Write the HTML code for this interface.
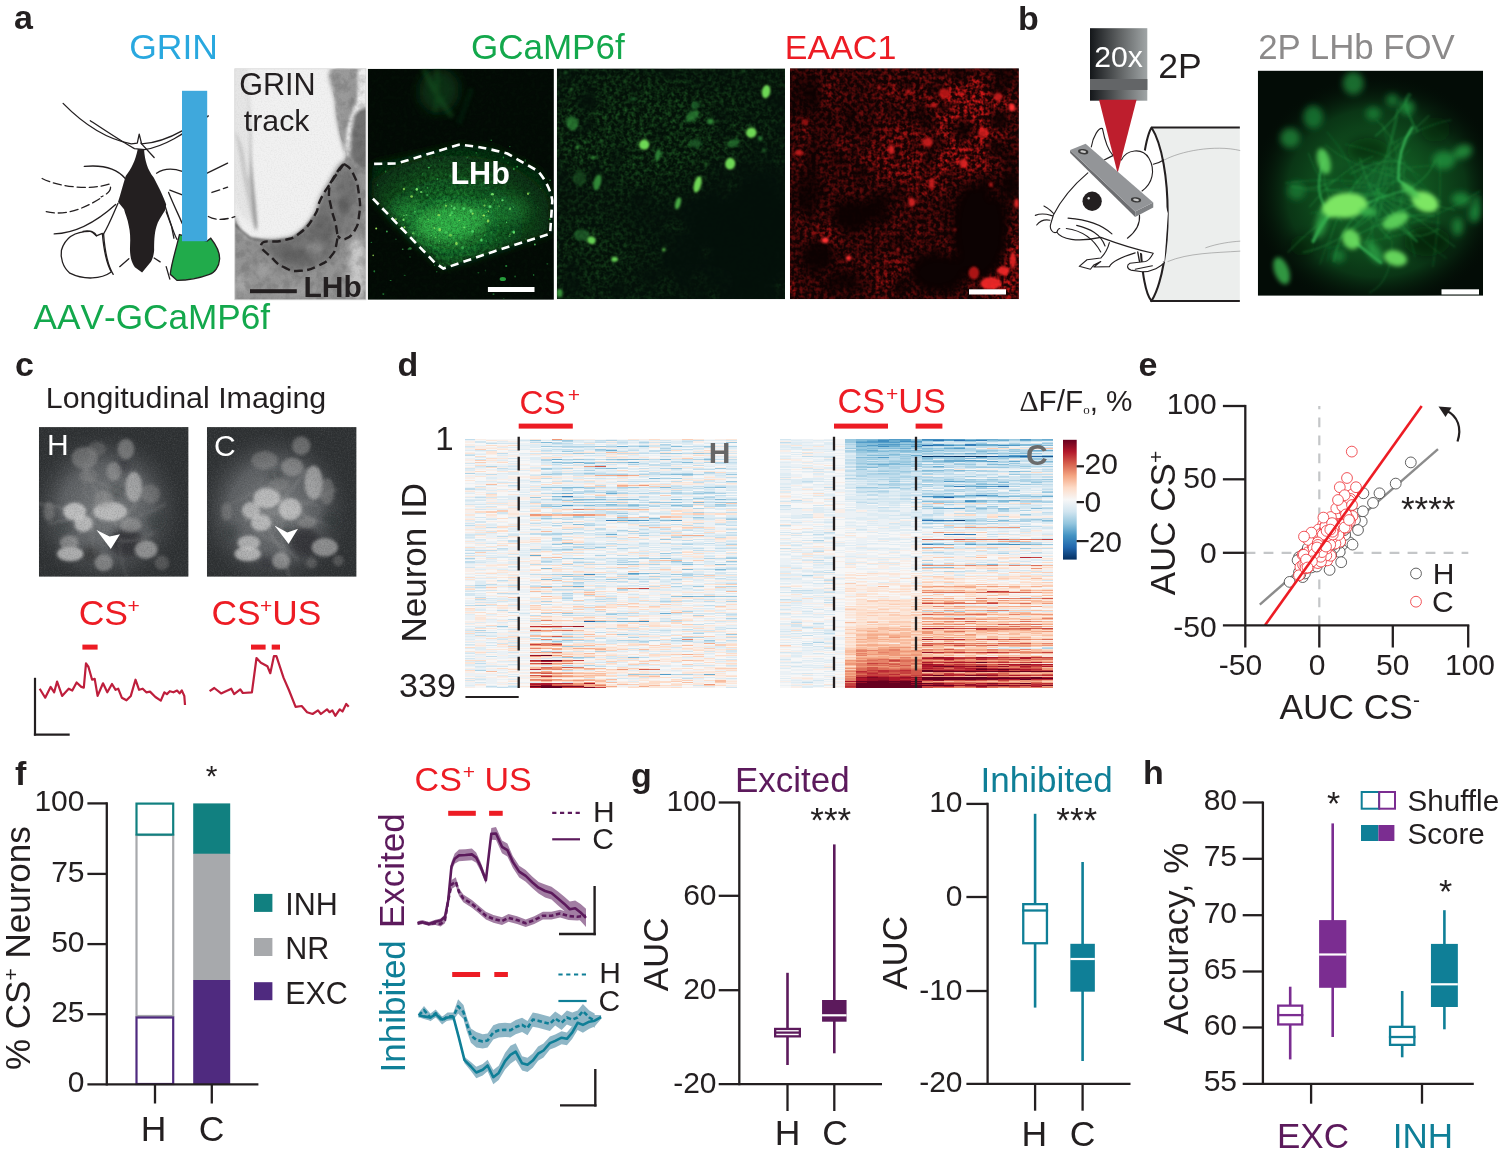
<!DOCTYPE html>
<html lang="en"><head><meta charset="utf-8"><title>Figure</title>
<style>html,body{margin:0;padding:0;background:#fff}svg{display:block}text{font-family:'Liberation Sans', sans-serif}</style>
</head><body>
<svg width="1500" height="1162" viewBox="0 0 1500 1162" font-family='"Liberation Sans", sans-serif'>
<defs>
<filter id="b0_6" x="-30%" y="-30%" width="160%" height="160%"><feGaussianBlur stdDeviation="0.6"/></filter>
<filter id="b1" x="-30%" y="-30%" width="160%" height="160%"><feGaussianBlur stdDeviation="1"/></filter>
<filter id="b1_5" x="-30%" y="-30%" width="160%" height="160%"><feGaussianBlur stdDeviation="1.5"/></filter>
<filter id="b2" x="-30%" y="-30%" width="160%" height="160%"><feGaussianBlur stdDeviation="2"/></filter>
<filter id="b3" x="-30%" y="-30%" width="160%" height="160%"><feGaussianBlur stdDeviation="3"/></filter>
<filter id="b4" x="-30%" y="-30%" width="160%" height="160%"><feGaussianBlur stdDeviation="4"/></filter>
<filter id="b6" x="-30%" y="-30%" width="160%" height="160%"><feGaussianBlur stdDeviation="6"/></filter>
<filter id="b8" x="-30%" y="-30%" width="160%" height="160%"><feGaussianBlur stdDeviation="8"/></filter>
<filter id="b12" x="-30%" y="-30%" width="160%" height="160%"><feGaussianBlur stdDeviation="12"/></filter>
<filter id="gspk" x="0" y="0" width="100%" height="100%" color-interpolation-filters="sRGB"><feTurbulence type="fractalNoise" baseFrequency="0.25" numOctaves="3" seed="11"/><feColorMatrix type="matrix" values="0 0 0 0 0.13  0 0 0 0 0.38  0 0 0 0 0.15  0 0 0 1.9 -0.72"/></filter>
<filter id="gspk2" x="0" y="0" width="100%" height="100%" color-interpolation-filters="sRGB"><feTurbulence type="fractalNoise" baseFrequency="0.3" numOctaves="3" seed="5"/><feColorMatrix type="matrix" values="0 0 0 0 0.25  0 0 0 0 0.9  0 0 0 0 0.35  0 0 0 1.6 -0.45"/></filter>
<filter id="rspk" x="0" y="0" width="100%" height="100%" color-interpolation-filters="sRGB"><feTurbulence type="fractalNoise" baseFrequency="0.25" numOctaves="3" seed="23"/><feColorMatrix type="matrix" values="0 0 0 0 0.9  0 0 0 0 0.1  0 0 0 0 0.1  0 0 0 2.6 -0.98"/></filter>
<filter id="wspk" x="0" y="0" width="100%" height="100%" color-interpolation-filters="sRGB"><feTurbulence type="fractalNoise" baseFrequency="0.7" numOctaves="2" seed="4"/><feColorMatrix type="matrix" values="0 0 0 0 1  0 0 0 0 1  0 0 0 0 1  0 0 0 1.6 -0.62"/></filter>
<filter id="kspk" x="0" y="0" width="100%" height="100%" color-interpolation-filters="sRGB"><feTurbulence type="fractalNoise" baseFrequency="0.7" numOctaves="2" seed="9"/><feColorMatrix type="matrix" values="0 0 0 0 0  0 0 0 0 0  0 0 0 0 0  0 0 0 1.6 -0.62"/></filter>
<filter id="gryspk" x="0" y="0" width="100%" height="100%" color-interpolation-filters="sRGB"><feTurbulence type="fractalNoise" baseFrequency="0.12" numOctaves="3" seed="31"/><feColorMatrix type="matrix" values="0 0 0 0 0.3  0 0 0 0 0.3  0 0 0 0 0.3  0 0 0 3.0 -1.2"/></filter>
<clipPath id="cA1"><rect x="234.8" y="68.8" width="131.2" height="231"/></clipPath>
<clipPath id="cTis"><path d="M232.1 222.3C234.9 203.9 235.9 228.7 242.7 233.3C249.4 237.9 246.7 237.9 257.4 239.6C268.1 241.3 271.5 241.3 282.7 239.6C294.0 237.9 291.1 239.5 299.6 233.3C308.0 227.1 308.2 226.6 314.3 216.4C320.5 206.3 318.8 204.4 322.8 195.4C326.7 186.4 324.6 190.6 329.1 182.7C333.6 174.8 335.2 172.6 339.6 165.8C344.0 159.1 344.7 163.1 345.5 157.4C346.4 151.7 344.7 152.3 342.8 144.3C340.9 136.4 340.7 138.7 338.6 127.5C336.5 116.2 336.5 118.5 335.0 102.2C333.5 85.9 323.8 75.9 332.9 66.3C342.0 56.8 359.5 3.4 369.2 66.3C378.8 129.3 405.7 239.5 369.2 302.5C332.6 365.4 268.7 323.8 232.1 302.5C195.6 281.1 229.3 240.8 232.1 222.3Z"/></clipPath>
<clipPath id="cA2"><rect x="367.7" y="68.8" width="186.2" height="231"/></clipPath>
<radialGradient id="gLHb" cx="0.45" cy="0.66" r="0.6"><stop offset="0" stop-color="#1b7a30"/><stop offset="0.4" stop-color="#0f5020"/><stop offset="1" stop-color="#062910"/></radialGradient>
<clipPath id="cLHb"><polygon points="373.0,163.4 417.0,154.6 458.8,144.7 494.0,148.0 538.0,170.0 552.3,192.0 550.1,233.8 494.0,251.4 443.4,267.9 406.0,233.8 370.8,196.4"/></clipPath>
<radialGradient id="gLm" gradientUnits="userSpaceOnUse" cx="450.0" cy="220.6" r="80"><stop offset="0" stop-color="#fff"/><stop offset="0.45" stop-color="#999"/><stop offset="1" stop-color="#222"/></radialGradient>
<mask id="mLHb" maskUnits="userSpaceOnUse" x="367.7" y="68.8" width="186.2" height="231"><rect x="367.7" y="68.8" width="186.2" height="231" fill="url(#gLm)"/></mask>
<clipPath id="cA3"><rect x="556.8" y="68.4" width="228.2" height="230.8"/></clipPath>
<mask id="mA3" maskUnits="userSpaceOnUse" x="556.8" y="68.4" width="228.2" height="230.8"><rect x="556.8" y="68.4" width="228.2" height="230.8" fill="#6a6a6a"/><g filter="url(#b12)"><ellipse cx="630.1" cy="129.6" rx="80" ry="55" fill="#fff" opacity="0.8"/><ellipse cx="718.6" cy="133.8" rx="50" ry="45" fill="#ddd" opacity="0.7"/><ellipse cx="592.2" cy="249.7" rx="45" ry="35" fill="#ccc" opacity="0.6"/><ellipse cx="739.7" cy="239.2" rx="70" ry="80" fill="#000" opacity="0.95"/><ellipse cx="760.8" cy="175.9" rx="30" ry="40" fill="#000" opacity="0.5"/><ellipse cx="644.9" cy="220.2" rx="32" ry="20" fill="#000" opacity="0.6"/><ellipse cx="651.2" cy="270.8" rx="30" ry="18" fill="#000" opacity="0.5"/><ellipse cx="697.6" cy="281.3" rx="40" ry="18" fill="#111" opacity="0.5"/></g><g filter="url(#b3)"><ellipse cx="630.7" cy="103.2" rx="8.2" ry="3.6" fill="#000" opacity="0.48"/><ellipse cx="570.0" cy="185.5" rx="3.3" ry="6.5" fill="#000" opacity="0.35"/><ellipse cx="653.7" cy="259.2" rx="2.8" ry="3.4" fill="#fff" opacity="0.58"/><ellipse cx="688.5" cy="160.0" rx="7.6" ry="2.4" fill="#fff" opacity="0.32"/><ellipse cx="589.7" cy="95.6" rx="5.5" ry="9.5" fill="#000" opacity="0.59"/><ellipse cx="702.6" cy="154.3" rx="7.4" ry="3.5" fill="#000" opacity="0.40"/><ellipse cx="712.1" cy="167.1" rx="5.5" ry="7.7" fill="#000" opacity="0.45"/><ellipse cx="738.1" cy="229.7" rx="5.0" ry="7.6" fill="#000" opacity="0.74"/><ellipse cx="723.3" cy="134.9" rx="10.8" ry="3.9" fill="#000" opacity="0.68"/><ellipse cx="591.5" cy="181.3" rx="2.3" ry="5.8" fill="#fff" opacity="0.43"/><ellipse cx="756.6" cy="140.8" rx="8.6" ry="7.8" fill="#000" opacity="0.53"/><ellipse cx="748.5" cy="286.4" rx="6.8" ry="8.3" fill="#000" opacity="0.65"/><ellipse cx="704.5" cy="297.6" rx="9.6" ry="5.3" fill="#000" opacity="0.63"/><ellipse cx="561.9" cy="175.0" rx="4.3" ry="3.9" fill="#000" opacity="0.68"/><ellipse cx="586.3" cy="125.5" rx="6.1" ry="10.0" fill="#000" opacity="0.52"/><ellipse cx="682.2" cy="272.3" rx="9.6" ry="9.9" fill="#000" opacity="0.51"/><ellipse cx="638.7" cy="272.5" rx="10.7" ry="4.2" fill="#000" opacity="0.42"/><ellipse cx="610.0" cy="180.3" rx="7.7" ry="5.1" fill="#000" opacity="0.51"/><ellipse cx="641.1" cy="199.1" rx="10.6" ry="8.5" fill="#000" opacity="0.61"/><ellipse cx="711.1" cy="80.9" rx="7.1" ry="6.5" fill="#fff" opacity="0.52"/><ellipse cx="646.3" cy="160.5" rx="3.8" ry="8.1" fill="#000" opacity="0.33"/><ellipse cx="604.4" cy="105.9" rx="5.7" ry="3.4" fill="#000" opacity="0.38"/><ellipse cx="580.0" cy="152.3" rx="2.2" ry="7.0" fill="#fff" opacity="0.26"/><ellipse cx="614.4" cy="148.6" rx="4.1" ry="2.8" fill="#fff" opacity="0.60"/><ellipse cx="663.1" cy="180.1" rx="3.7" ry="3.8" fill="#000" opacity="0.43"/><ellipse cx="745.9" cy="105.7" rx="3.2" ry="10.6" fill="#000" opacity="0.37"/><ellipse cx="680.8" cy="74.6" rx="5.1" ry="7.6" fill="#fff" opacity="0.48"/><ellipse cx="616.4" cy="153.0" rx="4.3" ry="9.2" fill="#000" opacity="0.69"/><ellipse cx="632.0" cy="119.9" rx="6.6" ry="7.6" fill="#fff" opacity="0.52"/><ellipse cx="743.5" cy="239.2" rx="4.8" ry="7.1" fill="#000" opacity="0.31"/><ellipse cx="563.2" cy="132.9" rx="3.6" ry="6.0" fill="#fff" opacity="0.38"/><ellipse cx="770.6" cy="296.4" rx="10.6" ry="5.9" fill="#000" opacity="0.41"/><ellipse cx="601.7" cy="115.6" rx="5.6" ry="7.1" fill="#fff" opacity="0.39"/><ellipse cx="705.8" cy="253.0" rx="2.6" ry="5.8" fill="#fff" opacity="0.51"/><ellipse cx="728.0" cy="178.7" rx="4.4" ry="9.3" fill="#000" opacity="0.70"/><ellipse cx="778.5" cy="159.8" rx="4.3" ry="7.4" fill="#fff" opacity="0.27"/><ellipse cx="585.8" cy="103.3" rx="10.2" ry="9.5" fill="#000" opacity="0.71"/><ellipse cx="780.5" cy="220.1" rx="5.8" ry="7.4" fill="#000" opacity="0.31"/><ellipse cx="778.4" cy="218.3" rx="7.2" ry="10.5" fill="#000" opacity="0.74"/><ellipse cx="745.3" cy="117.1" rx="5.0" ry="5.3" fill="#000" opacity="0.59"/><ellipse cx="616.0" cy="165.1" rx="4.0" ry="10.3" fill="#000" opacity="0.53"/><ellipse cx="689.9" cy="277.1" rx="6.4" ry="10.3" fill="#000" opacity="0.57"/><ellipse cx="676.3" cy="72.7" rx="6.5" ry="4.5" fill="#000" opacity="0.70"/><ellipse cx="596.1" cy="177.7" rx="8.8" ry="7.5" fill="#000" opacity="0.56"/><ellipse cx="683.6" cy="249.4" rx="3.8" ry="7.5" fill="#000" opacity="0.44"/><ellipse cx="733.0" cy="185.6" rx="5.2" ry="6.4" fill="#fff" opacity="0.38"/><ellipse cx="696.6" cy="185.1" rx="7.1" ry="8.5" fill="#000" opacity="0.57"/><ellipse cx="665.9" cy="285.7" rx="6.0" ry="7.0" fill="#fff" opacity="0.30"/><ellipse cx="684.5" cy="286.1" rx="9.7" ry="4.1" fill="#000" opacity="0.52"/><ellipse cx="573.4" cy="123.9" rx="2.5" ry="5.8" fill="#fff" opacity="0.56"/><ellipse cx="592.0" cy="233.7" rx="5.8" ry="2.9" fill="#fff" opacity="0.59"/><ellipse cx="606.9" cy="288.2" rx="4.3" ry="4.8" fill="#fff" opacity="0.53"/><ellipse cx="593.6" cy="168.0" rx="7.1" ry="5.7" fill="#000" opacity="0.46"/><ellipse cx="721.6" cy="72.9" rx="7.4" ry="6.5" fill="#000" opacity="0.47"/><ellipse cx="699.2" cy="186.6" rx="2.5" ry="7.6" fill="#fff" opacity="0.59"/><ellipse cx="580.7" cy="129.7" rx="3.3" ry="9.2" fill="#000" opacity="0.36"/><ellipse cx="653.2" cy="278.8" rx="9.6" ry="5.1" fill="#000" opacity="0.76"/><ellipse cx="687.0" cy="230.1" rx="2.6" ry="2.4" fill="#fff" opacity="0.37"/><ellipse cx="573.3" cy="285.0" rx="8.1" ry="9.4" fill="#000" opacity="0.73"/><ellipse cx="572.0" cy="267.5" rx="6.6" ry="5.7" fill="#000" opacity="0.76"/><ellipse cx="617.9" cy="98.2" rx="7.2" ry="4.9" fill="#000" opacity="0.38"/><ellipse cx="568.3" cy="115.0" rx="3.8" ry="3.8" fill="#fff" opacity="0.32"/><ellipse cx="670.9" cy="109.5" rx="5.8" ry="3.1" fill="#000" opacity="0.31"/><ellipse cx="724.1" cy="195.6" rx="3.2" ry="4.8" fill="#fff" opacity="0.24"/><ellipse cx="743.7" cy="168.1" rx="7.0" ry="9.7" fill="#000" opacity="0.55"/><ellipse cx="713.7" cy="295.1" rx="4.0" ry="6.8" fill="#fff" opacity="0.45"/><ellipse cx="649.2" cy="148.6" rx="3.4" ry="4.0" fill="#000" opacity="0.67"/><ellipse cx="615.1" cy="106.1" rx="2.6" ry="6.8" fill="#fff" opacity="0.47"/><ellipse cx="621.1" cy="124.3" rx="5.3" ry="6.7" fill="#000" opacity="0.52"/><ellipse cx="616.9" cy="290.4" rx="10.8" ry="7.4" fill="#000" opacity="0.78"/><ellipse cx="627.4" cy="150.7" rx="3.0" ry="6.1" fill="#000" opacity="0.55"/><ellipse cx="602.7" cy="184.9" rx="3.0" ry="5.1" fill="#000" opacity="0.50"/><ellipse cx="566.3" cy="73.6" rx="5.4" ry="4.9" fill="#000" opacity="0.56"/><ellipse cx="728.1" cy="220.2" rx="8.7" ry="10.0" fill="#000" opacity="0.46"/><ellipse cx="781.5" cy="102.9" rx="8.8" ry="8.1" fill="#000" opacity="0.72"/><ellipse cx="760.3" cy="213.2" rx="8.9" ry="9.5" fill="#000" opacity="0.56"/><ellipse cx="671.9" cy="261.1" rx="9.4" ry="9.6" fill="#000" opacity="0.75"/><ellipse cx="712.6" cy="228.4" rx="4.8" ry="3.2" fill="#000" opacity="0.48"/><ellipse cx="580.7" cy="261.3" rx="5.2" ry="5.6" fill="#fff" opacity="0.47"/><ellipse cx="668.5" cy="69.2" rx="9.4" ry="9.0" fill="#000" opacity="0.57"/><ellipse cx="707.3" cy="83.6" rx="8.9" ry="5.0" fill="#000" opacity="0.43"/><ellipse cx="723.2" cy="115.8" rx="8.9" ry="10.8" fill="#000" opacity="0.49"/><ellipse cx="666.1" cy="226.2" rx="6.4" ry="5.6" fill="#fff" opacity="0.23"/><ellipse cx="590.4" cy="127.0" rx="8.9" ry="5.4" fill="#000" opacity="0.31"/><ellipse cx="570.6" cy="130.4" rx="5.9" ry="6.0" fill="#fff" opacity="0.32"/><ellipse cx="674.7" cy="175.6" rx="4.7" ry="2.8" fill="#fff" opacity="0.28"/><ellipse cx="780.0" cy="284.5" rx="2.2" ry="4.7" fill="#fff" opacity="0.59"/><ellipse cx="659.4" cy="130.4" rx="4.7" ry="10.6" fill="#000" opacity="0.59"/><ellipse cx="589.1" cy="189.4" rx="7.4" ry="2.8" fill="#fff" opacity="0.40"/><ellipse cx="759.2" cy="230.7" rx="4.9" ry="10.2" fill="#000" opacity="0.31"/><ellipse cx="557.6" cy="181.9" rx="6.6" ry="5.4" fill="#000" opacity="0.47"/><ellipse cx="628.9" cy="262.3" rx="2.1" ry="6.3" fill="#fff" opacity="0.25"/><ellipse cx="768.2" cy="233.0" rx="10.2" ry="5.3" fill="#000" opacity="0.50"/><ellipse cx="784.7" cy="204.4" rx="5.9" ry="6.4" fill="#000" opacity="0.32"/><ellipse cx="580.0" cy="261.0" rx="5.3" ry="10.5" fill="#000" opacity="0.43"/><ellipse cx="673.4" cy="112.2" rx="4.2" ry="7.5" fill="#fff" opacity="0.52"/><ellipse cx="700.8" cy="279.2" rx="7.4" ry="5.2" fill="#fff" opacity="0.22"/><ellipse cx="723.9" cy="172.5" rx="9.0" ry="8.2" fill="#000" opacity="0.32"/><ellipse cx="768.3" cy="97.8" rx="6.8" ry="5.7" fill="#000" opacity="0.67"/><ellipse cx="779.6" cy="128.4" rx="8.2" ry="5.4" fill="#000" opacity="0.50"/><ellipse cx="595.0" cy="105.7" rx="4.7" ry="10.2" fill="#000" opacity="0.41"/><ellipse cx="763.6" cy="298.4" rx="6.6" ry="4.1" fill="#000" opacity="0.35"/><ellipse cx="634.8" cy="89.4" rx="4.9" ry="5.1" fill="#000" opacity="0.74"/><ellipse cx="727.9" cy="163.7" rx="6.3" ry="7.2" fill="#000" opacity="0.47"/><ellipse cx="571.0" cy="132.5" rx="10.7" ry="4.0" fill="#000" opacity="0.61"/><ellipse cx="753.7" cy="118.2" rx="5.2" ry="5.0" fill="#000" opacity="0.52"/><ellipse cx="774.5" cy="264.3" rx="10.0" ry="3.2" fill="#000" opacity="0.65"/><ellipse cx="761.2" cy="177.6" rx="7.7" ry="3.0" fill="#000" opacity="0.76"/><ellipse cx="745.2" cy="265.8" rx="10.8" ry="5.0" fill="#000" opacity="0.38"/><ellipse cx="676.0" cy="225.8" rx="7.4" ry="6.1" fill="#fff" opacity="0.51"/></g></mask>
<clipPath id="cA4"><rect x="789.9" y="68.2" width="229" height="231"/></clipPath>
<mask id="mA4" maskUnits="userSpaceOnUse" x="789.9" y="68.2" width="229" height="231"><rect x="789.9" y="68.2" width="229" height="231" fill="#606060"/><g filter="url(#b8)"><ellipse cx="969.7" cy="112.7" rx="42.2" ry="35.8" fill="#fff" opacity="0.85"/><ellipse cx="1001.3" cy="287.7" rx="19.0" ry="12.6" fill="#fff" opacity="1.0"/><ellipse cx="1011.9" cy="249.7" rx="9.5" ry="27.4" fill="#fff" opacity="0.9"/><ellipse cx="917.0" cy="154.9" rx="46.4" ry="35.8" fill="#fff" opacity="0.5"/><ellipse cx="969.7" cy="159.1" rx="27.4" ry="19.0" fill="#fff" opacity="0.6"/><ellipse cx="895.9" cy="270.8" rx="12.6" ry="25.3" fill="#fff" opacity="0.5"/><ellipse cx="822.2" cy="235.0" rx="14.8" ry="10.5" fill="#fff" opacity="0.55"/><ellipse cx="906.5" cy="91.6" rx="25.3" ry="16.9" fill="#fff" opacity="0.4"/></g><g filter="url(#b4)"><ellipse cx="980.3" cy="228.6" rx="28.5" ry="51.2" fill="#000" opacity="1"/><ellipse cx="1001.3" cy="76.9" rx="11.4" ry="11.4" fill="#000" opacity="0.9500000000000001"/><ellipse cx="963.4" cy="129.6" rx="10.8" ry="10.8" fill="#000" opacity="0.9500000000000001"/><ellipse cx="999.2" cy="120.1" rx="10.8" ry="10.8" fill="#000" opacity="0.9500000000000001"/><ellipse cx="851.7" cy="216.0" rx="19.9" ry="17.1" fill="#000" opacity="0.9500000000000001"/><ellipse cx="881.2" cy="207.6" rx="17.1" ry="15.7" fill="#000" opacity="0.9"/><ellipse cx="817.9" cy="256.0" rx="17.1" ry="15.7" fill="#000" opacity="0.9500000000000001"/><ellipse cx="938.1" cy="272.9" rx="28.5" ry="19.9" fill="#000" opacity="1"/><ellipse cx="843.2" cy="283.4" rx="17.1" ry="12.8" fill="#000" opacity="0.85"/><ellipse cx="1010.8" cy="183.3" rx="10.0" ry="12.8" fill="#000" opacity="0.9500000000000001"/><ellipse cx="927.6" cy="123.2" rx="11.4" ry="8.5" fill="#000" opacity="0.75"/><ellipse cx="809.5" cy="190.7" rx="14.2" ry="19.9" fill="#000" opacity="0.7000000000000001"/><ellipse cx="805.3" cy="91.6" rx="17.1" ry="17.1" fill="#000" opacity="0.55"/><ellipse cx="898.0" cy="245.5" rx="8.5" ry="11.4" fill="#000" opacity="0.55"/><ellipse cx="959.2" cy="74.8" rx="8.5" ry="8.5" fill="#000" opacity="0.85"/></g><g filter="url(#b3)"><ellipse cx="895.9" cy="154.4" rx="4.1" ry="9.9" fill="#000" opacity="0.55"/><ellipse cx="995.6" cy="86.9" rx="7.4" ry="7.9" fill="#000" opacity="0.49"/><ellipse cx="951.0" cy="172.6" rx="8.8" ry="4.3" fill="#000" opacity="0.36"/><ellipse cx="905.8" cy="281.6" rx="7.7" ry="9.2" fill="#000" opacity="0.67"/><ellipse cx="813.2" cy="135.5" rx="8.4" ry="8.8" fill="#000" opacity="0.34"/><ellipse cx="851.0" cy="116.7" rx="5.2" ry="9.5" fill="#000" opacity="0.74"/><ellipse cx="991.3" cy="80.9" rx="6.0" ry="6.9" fill="#000" opacity="0.51"/><ellipse cx="997.5" cy="94.1" rx="7.8" ry="4.0" fill="#000" opacity="0.75"/><ellipse cx="836.4" cy="70.1" rx="3.7" ry="7.3" fill="#000" opacity="0.34"/><ellipse cx="903.7" cy="280.9" rx="4.5" ry="4.3" fill="#fff" opacity="0.24"/><ellipse cx="922.7" cy="108.1" rx="7.9" ry="10.7" fill="#000" opacity="0.58"/><ellipse cx="928.8" cy="102.7" rx="3.6" ry="7.7" fill="#fff" opacity="0.25"/><ellipse cx="951.5" cy="287.9" rx="4.9" ry="7.9" fill="#000" opacity="0.48"/><ellipse cx="944.3" cy="204.5" rx="9.2" ry="3.7" fill="#000" opacity="0.73"/><ellipse cx="923.7" cy="172.5" rx="6.2" ry="10.9" fill="#000" opacity="0.31"/><ellipse cx="973.0" cy="144.1" rx="6.5" ry="4.7" fill="#000" opacity="0.46"/><ellipse cx="810.2" cy="213.6" rx="3.8" ry="9.3" fill="#000" opacity="0.69"/><ellipse cx="974.8" cy="183.1" rx="6.1" ry="3.5" fill="#fff" opacity="0.37"/><ellipse cx="842.8" cy="290.9" rx="4.3" ry="4.2" fill="#fff" opacity="0.35"/><ellipse cx="942.8" cy="107.7" rx="9.7" ry="5.1" fill="#000" opacity="0.79"/><ellipse cx="829.5" cy="286.8" rx="10.9" ry="7.9" fill="#000" opacity="0.33"/><ellipse cx="837.7" cy="158.0" rx="7.9" ry="10.7" fill="#000" opacity="0.37"/><ellipse cx="918.6" cy="99.9" rx="2.6" ry="5.2" fill="#fff" opacity="0.23"/><ellipse cx="893.3" cy="230.8" rx="6.4" ry="4.2" fill="#fff" opacity="0.27"/><ellipse cx="953.7" cy="246.5" rx="10.0" ry="7.0" fill="#000" opacity="0.32"/><ellipse cx="911.0" cy="108.2" rx="5.6" ry="2.6" fill="#fff" opacity="0.29"/><ellipse cx="792.9" cy="108.8" rx="6.7" ry="7.5" fill="#000" opacity="0.39"/><ellipse cx="900.3" cy="286.8" rx="7.3" ry="10.5" fill="#000" opacity="0.80"/><ellipse cx="993.5" cy="193.9" rx="5.0" ry="5.1" fill="#fff" opacity="0.23"/><ellipse cx="937.1" cy="193.4" rx="3.8" ry="6.2" fill="#fff" opacity="0.24"/><ellipse cx="950.1" cy="173.0" rx="6.9" ry="8.1" fill="#000" opacity="0.60"/><ellipse cx="875.3" cy="271.2" rx="3.4" ry="6.7" fill="#fff" opacity="0.45"/><ellipse cx="990.5" cy="76.5" rx="5.4" ry="5.5" fill="#fff" opacity="0.36"/><ellipse cx="805.7" cy="111.9" rx="7.9" ry="4.5" fill="#000" opacity="0.48"/><ellipse cx="897.6" cy="191.9" rx="3.2" ry="9.2" fill="#000" opacity="0.69"/><ellipse cx="791.9" cy="288.6" rx="5.4" ry="7.6" fill="#fff" opacity="0.53"/><ellipse cx="814.2" cy="148.8" rx="4.9" ry="9.2" fill="#000" opacity="0.41"/><ellipse cx="815.2" cy="95.9" rx="10.5" ry="10.8" fill="#000" opacity="0.67"/><ellipse cx="897.0" cy="188.8" rx="6.0" ry="8.1" fill="#000" opacity="0.43"/><ellipse cx="908.5" cy="113.8" rx="6.5" ry="10.6" fill="#000" opacity="0.35"/><ellipse cx="973.1" cy="81.6" rx="3.5" ry="6.9" fill="#fff" opacity="0.29"/><ellipse cx="803.3" cy="131.8" rx="3.8" ry="6.6" fill="#fff" opacity="0.51"/><ellipse cx="996.4" cy="283.2" rx="7.0" ry="7.3" fill="#fff" opacity="0.24"/><ellipse cx="862.6" cy="125.3" rx="7.8" ry="6.9" fill="#000" opacity="0.72"/><ellipse cx="881.3" cy="116.5" rx="3.6" ry="4.7" fill="#fff" opacity="0.43"/><ellipse cx="890.6" cy="111.2" rx="6.2" ry="5.6" fill="#000" opacity="0.57"/><ellipse cx="833.1" cy="232.6" rx="5.8" ry="2.9" fill="#fff" opacity="0.34"/><ellipse cx="892.3" cy="208.3" rx="6.4" ry="7.0" fill="#fff" opacity="0.28"/><ellipse cx="914.0" cy="145.7" rx="3.2" ry="7.4" fill="#000" opacity="0.73"/><ellipse cx="864.0" cy="260.8" rx="5.0" ry="2.7" fill="#fff" opacity="0.31"/><ellipse cx="912.1" cy="84.7" rx="3.1" ry="10.4" fill="#000" opacity="0.37"/><ellipse cx="827.3" cy="90.4" rx="6.7" ry="7.7" fill="#fff" opacity="0.36"/><ellipse cx="993.4" cy="185.1" rx="4.1" ry="8.5" fill="#000" opacity="0.43"/><ellipse cx="863.3" cy="157.1" rx="3.1" ry="5.5" fill="#fff" opacity="0.43"/><ellipse cx="792.1" cy="226.3" rx="2.2" ry="4.8" fill="#fff" opacity="0.47"/><ellipse cx="997.9" cy="242.5" rx="5.2" ry="4.1" fill="#000" opacity="0.64"/><ellipse cx="843.0" cy="144.7" rx="6.3" ry="4.0" fill="#fff" opacity="0.42"/><ellipse cx="1002.6" cy="74.3" rx="3.1" ry="6.5" fill="#fff" opacity="0.24"/><ellipse cx="820.7" cy="116.9" rx="7.3" ry="10.2" fill="#000" opacity="0.40"/><ellipse cx="946.9" cy="165.9" rx="6.8" ry="7.7" fill="#fff" opacity="0.49"/><ellipse cx="903.5" cy="82.3" rx="9.5" ry="6.2" fill="#000" opacity="0.62"/><ellipse cx="1010.7" cy="196.6" rx="10.3" ry="10.7" fill="#000" opacity="0.48"/><ellipse cx="993.4" cy="245.5" rx="10.8" ry="4.5" fill="#000" opacity="0.77"/><ellipse cx="913.5" cy="223.1" rx="10.8" ry="4.4" fill="#000" opacity="0.73"/><ellipse cx="923.0" cy="114.5" rx="9.7" ry="5.3" fill="#000" opacity="0.45"/><ellipse cx="798.2" cy="161.9" rx="6.5" ry="4.6" fill="#fff" opacity="0.22"/><ellipse cx="829.5" cy="101.4" rx="5.3" ry="3.2" fill="#fff" opacity="0.41"/><ellipse cx="922.9" cy="263.4" rx="9.3" ry="10.4" fill="#000" opacity="0.49"/><ellipse cx="1009.8" cy="159.9" rx="5.3" ry="6.9" fill="#000" opacity="0.72"/><ellipse cx="935.5" cy="90.0" rx="10.7" ry="7.2" fill="#000" opacity="0.61"/><ellipse cx="1007.4" cy="148.3" rx="3.1" ry="4.6" fill="#000" opacity="0.56"/><ellipse cx="861.2" cy="264.9" rx="4.6" ry="3.1" fill="#000" opacity="0.36"/><ellipse cx="861.0" cy="120.3" rx="3.1" ry="5.7" fill="#fff" opacity="0.35"/><ellipse cx="936.1" cy="142.8" rx="10.3" ry="7.4" fill="#000" opacity="0.67"/><ellipse cx="838.0" cy="79.0" rx="2.2" ry="6.8" fill="#fff" opacity="0.34"/><ellipse cx="917.6" cy="231.2" rx="2.5" ry="6.1" fill="#fff" opacity="0.58"/><ellipse cx="803.4" cy="200.4" rx="7.1" ry="9.8" fill="#000" opacity="0.63"/><ellipse cx="995.3" cy="148.8" rx="7.1" ry="10.1" fill="#000" opacity="0.79"/><ellipse cx="861.6" cy="173.8" rx="5.3" ry="9.4" fill="#000" opacity="0.67"/><ellipse cx="813.7" cy="271.6" rx="9.6" ry="8.4" fill="#000" opacity="0.43"/><ellipse cx="893.4" cy="83.2" rx="7.4" ry="4.4" fill="#fff" opacity="0.27"/><ellipse cx="938.3" cy="252.7" rx="8.2" ry="6.4" fill="#000" opacity="0.52"/><ellipse cx="879.2" cy="286.5" rx="7.6" ry="7.5" fill="#fff" opacity="0.27"/><ellipse cx="796.7" cy="135.7" rx="3.1" ry="4.0" fill="#000" opacity="0.40"/><ellipse cx="929.8" cy="156.1" rx="5.2" ry="10.8" fill="#000" opacity="0.74"/><ellipse cx="910.5" cy="221.3" rx="2.9" ry="6.3" fill="#fff" opacity="0.28"/><ellipse cx="898.2" cy="219.1" rx="4.8" ry="6.3" fill="#fff" opacity="0.33"/><ellipse cx="945.9" cy="246.8" rx="4.7" ry="5.4" fill="#fff" opacity="0.39"/><ellipse cx="810.2" cy="162.4" rx="9.2" ry="8.8" fill="#000" opacity="0.54"/><ellipse cx="924.5" cy="191.3" rx="2.9" ry="5.7" fill="#fff" opacity="0.41"/></g></mask>
<clipPath id="cB"><rect x="1257.8" y="70.6" width="225.2" height="225.2"/></clipPath>
<radialGradient id="gFov" cx="0.5" cy="0.5" r="0.5"><stop offset="0" stop-color="#15672e"/><stop offset="0.4" stop-color="#10521f"/><stop offset="0.7" stop-color="#0b3a17" stop-opacity="0.9"/><stop offset="1" stop-color="#030c06" stop-opacity="0"/></radialGradient>
<clipPath id="cC1"><rect x="38.9" y="427.1" width="149.7" height="149.7"/></clipPath>
<radialGradient id="gcC1" cx="0.45" cy="0.55" r="0.55"><stop offset="0" stop-color="#7c7f81"/><stop offset="0.55" stop-color="#5c5f62"/><stop offset="1" stop-color="#2f3234" stop-opacity="0"/></radialGradient>
<clipPath id="cC2"><rect x="206.9" y="427.1" width="149.7" height="149.7"/></clipPath>
<radialGradient id="gcC2" cx="0.45" cy="0.55" r="0.55"><stop offset="0" stop-color="#7c7f81"/><stop offset="0.55" stop-color="#5c5f62"/><stop offset="1" stop-color="#2f3234" stop-opacity="0"/></radialGradient>
<linearGradient id="obj" x1="0" y1="0" x2="1" y2="0"><stop offset="0" stop-color="#14171a"/><stop offset="0.5" stop-color="#5d6061"/><stop offset="1" stop-color="#a0a5a6"/></linearGradient>
<linearGradient id="obj2" x1="0" y1="0" x2="1" y2="0"><stop offset="0" stop-color="#6a6a6a"/><stop offset="1" stop-color="#858889"/></linearGradient>
<linearGradient id="cb" x1="0" y1="1" x2="0" y2="0"><stop offset="0.0" stop-color="#053061"/><stop offset="0.1" stop-color="#2166ac"/><stop offset="0.2" stop-color="#4393c3"/><stop offset="0.3" stop-color="#92c5de"/><stop offset="0.4" stop-color="#d1e5f0"/><stop offset="0.5" stop-color="#f7f7f7"/><stop offset="0.6" stop-color="#fddbc7"/><stop offset="0.7" stop-color="#f4a582"/><stop offset="0.8" stop-color="#d6604d"/><stop offset="0.9" stop-color="#b2182b"/><stop offset="1.0" stop-color="#67001f"/></linearGradient>
</defs>
<rect x="0" y="0" width="1500" height="1162" fill="#fff"/>
<g clip-path="url(#cA1)">
<rect x="234.80" y="68.80" width="131.20" height="231.00" fill="#f1f1f1"/>
<g filter="url(#b2)">
<path d="M232.1 222.3C234.9 203.9 235.9 228.7 242.7 233.3C249.4 237.9 246.7 237.9 257.4 239.6C268.1 241.3 271.5 241.3 282.7 239.6C294.0 237.9 291.1 239.5 299.6 233.3C308.0 227.1 308.2 226.6 314.3 216.4C320.5 206.3 318.8 204.4 322.8 195.4C326.7 186.4 324.6 190.6 329.1 182.7C333.6 174.8 335.2 172.6 339.6 165.8C344.0 159.1 344.7 163.1 345.5 157.4C346.4 151.7 344.7 152.3 342.8 144.3C340.9 136.4 340.7 138.7 338.6 127.5C336.5 116.2 336.5 118.5 335.0 102.2C333.5 85.9 323.8 75.9 332.9 66.3C342.0 56.8 359.5 3.4 369.2 66.3C378.8 129.3 405.7 239.5 369.2 302.5C332.6 365.4 268.7 323.8 232.1 302.5C195.6 281.1 229.3 240.8 232.1 222.3Z" fill="#959595"/>
<path d="M232.1 66.3C235.1 41.9 243.3 59.2 246.9 66.3C250.5 73.5 249.2 82.3 250.0 102.2C250.9 122.0 249.7 141.4 251.1 165.4C252.5 189.5 256.6 210.3 257.0 222.3C257.3 234.4 257.7 232.3 252.8 225.5C247.8 218.8 236.2 220.4 232.1 188.6C228.0 156.8 229.2 90.8 232.1 66.3Z" fill="#e6e6e6"/>
</g>
<g filter="url(#b1_5)">
<path d="M246.9 83.2C247.2 83.2 250.1 106.8 251.1 123.3C252.1 139.7 250.7 145.7 251.9 165.4C253.1 185.2 256.6 210.0 257.0 221.9C257.3 233.8 256.1 232.0 253.6 224.9C251.2 217.8 247.8 201.8 244.8 186.5C241.7 171.2 240.4 159.5 238.4 148.6C236.5 137.6 234.2 131.7 235.1 131.7C235.9 131.7 240.0 139.3 242.7 148.6C245.3 157.8 247.2 183.1 248.6 178.1C249.9 173.0 249.7 142.2 249.4 123.3C249.1 104.3 246.5 83.2 246.9 83.2Z" fill="#bdbdbd" opacity="0.7"/>
<path d="M250.2 129.6C250.4 125.4 250.6 146.9 251.9 165.4C253.3 183.9 256.5 210.3 257.0 221.9C257.5 233.5 255.4 230.5 254.2 223.4C253.1 216.3 251.9 205.3 251.1 186.5C250.3 167.7 250.1 133.8 250.2 129.6Z" fill="#8a8a8a" opacity="0.75"/>
<path d="M356.5 112.7C359.9 105.5 366.6 98.4 369.2 108.5C371.7 118.6 372.1 152.8 369.2 163.3C366.2 173.9 357.8 165.0 354.4 161.2C351.0 157.4 351.9 154.0 352.3 144.3C352.7 134.6 353.1 119.9 356.5 112.7Z" fill="#727272"/>
<path d="M358.6 68.4C361.1 62.5 367.0 61.7 369.2 68.4C371.3 75.2 371.7 93.3 369.2 102.2C366.6 111.0 360.1 107.2 356.5 112.7C352.9 118.2 352.7 121.6 351.2 129.6C349.8 137.6 350.3 148.1 349.1 152.8C348.0 157.4 345.7 158.7 345.5 152.8C345.3 146.9 345.9 134.2 348.1 123.3C350.3 112.3 354.4 108.9 356.5 98.0C358.6 87.0 356.1 74.3 358.6 68.4Z" fill="#efefef"/>
<path d="M335.4 68.4C337.7 61.7 343.9 67.6 348.1 68.4C352.3 69.3 356.5 65.9 356.5 72.7C356.5 79.4 350.6 90.8 348.1 102.2C345.5 113.6 344.5 119.9 343.9 129.6C343.2 139.3 345.7 150.7 344.9 150.7C344.1 150.7 341.3 139.3 339.6 129.6C337.9 119.9 337.3 114.4 336.5 102.2C335.6 89.9 333.1 75.2 335.4 68.4Z" fill="#9c9c9c" opacity="0.8"/>
</g>
<g filter="url(#b3)">
<path d="M343.9 163.7C343.3 164.9 337.4 172.8 331.2 182.3C325.0 191.7 325.2 190.2 320.7 199.2C316.2 208.1 320.0 206.9 314.3 216.0C308.7 225.1 308.0 226.8 299.6 233.3C291.1 239.8 292.8 237.7 282.7 240.5C272.6 243.3 264.4 239.1 261.6 243.8C258.8 248.6 266.0 251.8 272.2 258.2C278.4 264.5 277.5 264.3 284.8 267.7C292.1 271.0 290.6 271.4 299.6 270.8C308.6 270.3 310.1 269.5 318.6 265.6C327.0 261.6 326.4 262.0 331.2 256.1C336.0 250.2 335.1 250.7 336.5 243.4C337.9 236.1 337.9 238.2 336.5 228.7C335.1 219.1 333.2 217.7 331.2 207.6C329.2 197.5 328.5 198.6 329.1 190.7C329.7 182.8 329.4 185.3 333.3 178.1C337.2 170.9 344.4 162.6 343.9 163.7Z" fill="#727272" opacity="0.95"/>
<path d="M343.9 163.7C349.2 162.6 349.3 165.5 353.3 173.9C357.4 182.2 357.5 183.7 359.0 194.9C360.6 206.2 360.3 206.5 359.0 216.0C357.8 225.6 358.2 224.6 354.4 230.8C350.6 237.0 349.4 237.8 344.9 239.2C340.4 240.6 339.8 238.9 337.5 236.0C335.3 233.2 338.2 236.3 336.5 228.7C334.8 221.1 333.2 217.7 331.2 207.6C329.2 197.5 328.5 198.6 329.1 190.7C329.7 182.8 329.4 185.3 333.3 178.1C337.2 170.9 338.5 164.9 343.9 163.7Z" fill="#7c7c7c" opacity="0.9"/>
<ellipse cx="357.6" cy="270.8" rx="9.0" ry="30.0" fill="#cdcdcd" opacity="0.9"/>
<ellipse cx="356.5" cy="245.5" rx="6.0" ry="8.0" fill="#d5d5d5" opacity="0.7"/>
<ellipse cx="240.5" cy="283.5" rx="8.0" ry="10.0" fill="#b4b4b4" opacity="0.6"/>
<ellipse cx="293.3" cy="290.9" rx="22.0" ry="4.0" fill="#b0b0b0" opacity="0.5"/>
<ellipse cx="253.2" cy="247.6" rx="12.0" ry="6.0" fill="#8c8c8c" opacity="0.6"/>
<ellipse cx="263.7" cy="270.8" rx="9.0" ry="7.0" fill="#aaaaaa" opacity="0.5"/>
</g>
<g filter="url(#b2)">
<ellipse cx="299.6" cy="256.1" rx="18.0" ry="8.0" fill="#5f5f5f" opacity="0.7"/>
<ellipse cx="343.9" cy="205.5" rx="6.0" ry="10.0" fill="#5a5a5a" opacity="0.7"/>
<ellipse cx="322.8" cy="228.7" rx="10.0" ry="14.0" fill="#666" opacity="0.6"/>
<ellipse cx="282.7" cy="249.8" rx="10.0" ry="7.0" fill="#666" opacity="0.6"/>
<ellipse cx="348.1" cy="186.5" rx="8.0" ry="14.0" fill="#6a6a6a" opacity="0.5"/>
<ellipse cx="314.3" cy="249.8" rx="8.0" ry="8.0" fill="#999" opacity="0.6"/>
</g>
<path d="M234.6 223.4C237.3 226.2 238.7 229.6 244.8 233.9C250.8 238.3 247.3 238.0 257.4 239.6C267.5 241.3 271.5 241.7 282.7 240.1C294.0 238.4 291.1 239.6 299.6 233.3C308.0 227.0 310.4 220.9 314.3 216.4" fill="none" stroke="#4e4e4e" stroke-width="2.2" filter="url(#b1)" opacity="0.75"/>
<g clip-path="url(#cTis)">
<rect x="234.80" y="68.80" width="131.20" height="231.00" fill="#000" filter="url(#gryspk)" opacity="0.22"/>
</g>
<rect x="234.80" y="68.80" width="131.20" height="231.00" fill="#000" filter="url(#kspk)" opacity="0.05"/>
<path d="M343.9 163.7C343.3 164.9 337.4 172.8 331.2 182.3C325.0 191.7 325.2 190.2 320.7 199.2C316.2 208.1 320.0 206.9 314.3 216.0C308.7 225.1 308.0 226.8 299.6 233.3C291.1 239.8 292.8 237.7 282.7 240.5C272.6 243.3 264.4 239.1 261.6 243.8C258.8 248.6 266.0 251.8 272.2 258.2C278.4 264.5 277.5 264.3 284.8 267.7C292.1 271.0 290.6 271.4 299.6 270.8C308.6 270.3 310.1 269.5 318.6 265.6C327.0 261.6 326.4 262.0 331.2 256.1C336.0 250.2 335.1 250.7 336.5 243.4C337.9 236.1 337.9 238.2 336.5 228.7C335.1 219.1 333.2 217.7 331.2 207.6C329.2 197.5 328.5 198.6 329.1 190.7C329.7 182.8 329.4 185.3 333.3 178.1C337.2 170.9 344.4 162.6 343.9 163.7Z" fill="none" stroke="#231f20" stroke-width="2.4" stroke-dasharray="8.5 4.5"/>
<path d="M343.9 163.7C346.4 166.4 349.3 165.5 353.3 173.9C357.4 182.2 357.5 183.7 359.0 194.9C360.6 206.2 360.3 206.5 359.0 216.0C357.8 225.6 358.2 224.6 354.4 230.8C350.6 237.0 349.4 237.8 344.9 239.2C340.4 240.6 339.5 236.9 337.5 236.0" fill="none" stroke="#231f20" stroke-width="2.4" stroke-dasharray="8.5 4.5"/>
</g>
<rect x="234.8" y="68.8" width="131.2" height="231" fill="none" stroke="#d4d4d4" stroke-width="0.8"/>
<text x="239.2" y="95.3" font-size="30.6" fill="#231f20">GRIN</text>
<text x="243.8" y="130.8" font-size="30.3" fill="#231f20">track</text>
<text x="303.5" y="296.8" font-size="30" fill="#231f20" font-weight="bold">LHb</text>
<rect x="250.00" y="289.20" width="46.80" height="4.00" fill="#231f20"/>
<g clip-path="url(#cA2)">
<rect x="367.70" y="68.80" width="186.20" height="231.00" fill="#030a05"/>
<g filter="url(#b4)">
<polygon points="373.0,163.4 417.0,154.6 458.8,144.7 494.0,148.0 538.0,170.0 552.3,192.0 550.1,233.8 494.0,251.4 443.4,267.9 406.0,233.8 370.8,196.4" fill="url(#gLHb)"/>
</g>
<g filter="url(#b6)">
<ellipse cx="450.0" cy="222.8" rx="38.0" ry="17.0" fill="#3fd058" opacity="0.6" transform="rotate(-8 450.0 222.8)"/>
<ellipse cx="505.0" cy="209.6" rx="26.0" ry="14.0" fill="#2fb048" opacity="0.35"/>
<ellipse cx="406.0" cy="209.6" rx="16.0" ry="9.0" fill="#35c050" opacity="0.4"/>
</g>
<g filter="url(#b6)">
<ellipse cx="439.0" cy="90.8" rx="20.0" ry="22.0" fill="#0e4a1d" opacity="0.55" transform="rotate(15 439.0 90.8)"/>
</g>
<g filter="url(#b2)" opacity="0.4">
<path d="M423.6 68.8 Q434.6 93.0 452.2 117.2" stroke="#1a6a2a" stroke-width="5" fill="none"/>
<path d="M436.8 68.8 Q439.0 93.0 434.6 112.8" stroke="#165a24" stroke-width="4" fill="none"/>
<path d="M472.0 88.6 L458.8 123.8" stroke="#0f4a1c" stroke-width="3" fill="none"/>
</g>
<g clip-path="url(#cLHb)">
<rect x="367.70" y="68.80" width="186.20" height="231.00" fill="#000" filter="url(#kspk)" opacity="0.5"/>
<g mask="url(#mLHb)">
<rect x="367.70" y="68.80" width="186.20" height="231.00" fill="#000" filter="url(#gspk2)" opacity="0.6"/>
</g></g>
<rect x="367.70" y="68.80" width="186.20" height="231.00" fill="#000" filter="url(#gspk)" opacity="0.07"/>
<ellipse cx="481.4" cy="240.1" rx="1.2" ry="1.5" fill="#50d868" opacity="0.9453745566806571"/>
<ellipse cx="357.3" cy="225.1" rx="0.8" ry="0.9" fill="#a8f060" opacity="0.5063546070230827"/>
<ellipse cx="488.3" cy="211.3" rx="0.7" ry="0.9" fill="#a8f060" opacity="0.8122633335668663"/>
<ellipse cx="339.1" cy="239.3" rx="1.4" ry="1.5" fill="#50d868" opacity="0.5153315267007396"/>
<ellipse cx="431.3" cy="235.4" rx="0.7" ry="0.5" fill="#60e070" opacity="0.8334598013600651"/>
<ellipse cx="510.0" cy="234.2" rx="0.6" ry="0.6" fill="#a8f060" opacity="0.6543146407649253"/>
<ellipse cx="428.3" cy="219.4" rx="0.6" ry="0.5" fill="#a8f060" opacity="0.5888198267210498"/>
<ellipse cx="421.2" cy="192.0" rx="1.3" ry="1.0" fill="#7ff070" opacity="0.7143464252466274"/>
<ellipse cx="463.9" cy="208.6" rx="1.5" ry="1.3" fill="#50d868" opacity="0.9295287553451562"/>
<ellipse cx="419.5" cy="218.3" rx="1.1" ry="0.8" fill="#60e070" opacity="0.5419681394213787"/>
<ellipse cx="428.8" cy="167.6" rx="1.1" ry="0.8" fill="#50d868" opacity="0.7697201247265875"/>
<ellipse cx="404.0" cy="215.4" rx="0.9" ry="0.7" fill="#7ff070" opacity="0.576541332393316"/>
<ellipse cx="402.7" cy="249.2" rx="0.9" ry="0.8" fill="#60e070" opacity="0.5759115847165865"/>
<ellipse cx="472.7" cy="213.7" rx="1.0" ry="1.1" fill="#a8f060" opacity="0.8041558018613476"/>
<ellipse cx="528.0" cy="193.7" rx="1.0" ry="1.3" fill="#a8f060" opacity="0.76573345777704"/>
<ellipse cx="484.5" cy="205.6" rx="1.0" ry="1.2" fill="#a8f060" opacity="0.6106424031632516"/>
<ellipse cx="415.0" cy="211.7" rx="1.0" ry="0.7" fill="#50d868" opacity="0.6295913545301417"/>
<ellipse cx="485.4" cy="199.1" rx="0.6" ry="0.5" fill="#a8f060" opacity="0.5312530688321109"/>
<ellipse cx="410.1" cy="248.5" rx="1.6" ry="1.2" fill="#50d868" opacity="0.5628149142972745"/>
<ellipse cx="403.9" cy="189.0" rx="1.1" ry="1.3" fill="#a8f060" opacity="0.6645761501628774"/>
<ellipse cx="472.6" cy="231.4" rx="1.4" ry="1.4" fill="#50d868" opacity="0.8822039232744433"/>
<ellipse cx="435.7" cy="237.5" rx="0.9" ry="0.8" fill="#7ff070" opacity="0.5566472014731801"/>
<ellipse cx="446.0" cy="205.8" rx="0.9" ry="1.1" fill="#a8f060" opacity="0.7629530846289907"/>
<ellipse cx="450.5" cy="235.2" rx="1.6" ry="1.2" fill="#a8f060" opacity="0.5426776079731613"/>
<ellipse cx="459.3" cy="220.5" rx="1.0" ry="0.8" fill="#a8f060" opacity="0.5535826023287733"/>
<ellipse cx="446.0" cy="232.2" rx="1.5" ry="1.5" fill="#50d868" opacity="0.5988235658372973"/>
<ellipse cx="464.2" cy="227.5" rx="1.0" ry="1.0" fill="#7ff070" opacity="0.7271958738061863"/>
<ellipse cx="451.9" cy="212.8" rx="1.5" ry="1.5" fill="#50d868" opacity="0.5285711398651571"/>
<ellipse cx="454.3" cy="208.2" rx="1.3" ry="1.7" fill="#60e070" opacity="0.772334053301273"/>
<ellipse cx="451.5" cy="206.1" rx="0.8" ry="0.9" fill="#60e070" opacity="0.8613830849319661"/>
<ellipse cx="403.5" cy="219.8" rx="1.1" ry="1.2" fill="#7ff070" opacity="0.8305576763731644"/>
<ellipse cx="483.8" cy="215.5" rx="1.3" ry="1.0" fill="#a8f060" opacity="0.8666097439571014"/>
<ellipse cx="486.9" cy="216.2" rx="0.9" ry="0.7" fill="#50d868" opacity="0.5342486295347721"/>
<ellipse cx="513.7" cy="231.9" rx="1.4" ry="1.4" fill="#50d868" opacity="0.9261728309758055"/>
<ellipse cx="427.3" cy="195.1" rx="1.1" ry="1.3" fill="#50d868" opacity="0.5316593844552984"/>
<ellipse cx="506.6" cy="222.2" rx="0.6" ry="0.7" fill="#60e070" opacity="0.8677832911317219"/>
<ellipse cx="445.4" cy="200.5" rx="0.8" ry="0.7" fill="#50d868" opacity="0.6025027150982661"/>
<ellipse cx="499.1" cy="206.1" rx="0.6" ry="0.6" fill="#a8f060" opacity="0.822728108034029"/>
<ellipse cx="502.5" cy="200.2" rx="1.2" ry="1.0" fill="#60e070" opacity="0.9125055124938916"/>
<ellipse cx="413.3" cy="233.4" rx="1.4" ry="1.1" fill="#7ff070" opacity="0.5909162952771759"/>
<ellipse cx="494.4" cy="200.0" rx="0.7" ry="0.5" fill="#a8f060" opacity="0.6361710699572053"/>
<ellipse cx="510.0" cy="209.0" rx="1.1" ry="1.4" fill="#7ff070" opacity="0.5748989322541481"/>
<ellipse cx="400.7" cy="228.5" rx="1.0" ry="0.8" fill="#a8f060" opacity="0.9280573208843608"/>
<ellipse cx="439.7" cy="229.8" rx="1.4" ry="1.8" fill="#a8f060" opacity="0.7281720816340034"/>
<ellipse cx="456.4" cy="243.5" rx="1.3" ry="1.7" fill="#a8f060" opacity="0.7101345519032891"/>
<ellipse cx="404.4" cy="227.2" rx="0.9" ry="1.0" fill="#a8f060" opacity="0.7797699244512677"/>
<ellipse cx="534.9" cy="244.5" rx="0.8" ry="1.0" fill="#60e070" opacity="0.9206374216265394"/>
<ellipse cx="450.2" cy="215.3" rx="1.1" ry="1.0" fill="#7ff070" opacity="0.698556214311596"/>
<ellipse cx="343.4" cy="234.1" rx="1.5" ry="1.2" fill="#a8f060" opacity="0.6390331799956874"/>
<ellipse cx="376.2" cy="228.4" rx="1.0" ry="1.0" fill="#a8f060" opacity="0.9103953158114548"/>
<ellipse cx="386.9" cy="231.5" rx="0.9" ry="0.9" fill="#50d868" opacity="0.7483543668683279"/>
<ellipse cx="462.7" cy="247.8" rx="1.4" ry="1.8" fill="#50d868" opacity="0.5079225234420676"/>
<ellipse cx="438.9" cy="215.1" rx="1.5" ry="1.2" fill="#a8f060" opacity="0.7238101312282783"/>
<ellipse cx="406.5" cy="215.0" rx="1.1" ry="0.9" fill="#60e070" opacity="0.5690619949915023"/>
<ellipse cx="439.6" cy="241.3" rx="0.6" ry="0.7" fill="#7ff070" opacity="0.5838562993726882"/>
<ellipse cx="509.5" cy="236.3" rx="1.0" ry="0.7" fill="#60e070" opacity="0.5167164606107462"/>
<ellipse cx="395.7" cy="219.2" rx="1.3" ry="0.9" fill="#a8f060" opacity="0.6047048130548692"/>
<ellipse cx="434.3" cy="228.1" rx="0.8" ry="0.9" fill="#a8f060" opacity="0.7360610089493109"/>
<ellipse cx="514.0" cy="233.0" rx="0.8" ry="0.9" fill="#7ff070" opacity="0.7730048309240314"/>
<ellipse cx="416.2" cy="200.9" rx="0.6" ry="0.6" fill="#60e070" opacity="0.572904693625031"/>
<ellipse cx="492.4" cy="194.3" rx="1.5" ry="1.3" fill="#7ff070" opacity="0.849954866554852"/>
<ellipse cx="490.0" cy="206.7" rx="1.5" ry="1.4" fill="#60e070" opacity="0.9238251988502186"/>
<ellipse cx="513.5" cy="207.1" rx="0.6" ry="0.5" fill="#60e070" opacity="0.6193244235458578"/>
<ellipse cx="488.1" cy="220.9" rx="1.3" ry="1.7" fill="#a8f060" opacity="0.7413020053895356"/>
<ellipse cx="471.0" cy="210.8" rx="1.6" ry="1.9" fill="#60e070" opacity="0.8329828373730163"/>
<ellipse cx="478.5" cy="207.9" rx="0.7" ry="0.7" fill="#50d868" opacity="0.6583505376646706"/>
<ellipse cx="416.8" cy="189.2" rx="1.2" ry="1.5" fill="#7ff070" opacity="0.9295786482184659"/>
<ellipse cx="455.7" cy="170.9" rx="1.3" ry="1.1" fill="#7ff070" opacity="0.739626607189804"/>
<ellipse cx="373.2" cy="255.4" rx="0.9" ry="0.8" fill="#a8f060" opacity="0.6909167328933254"/>
<ellipse cx="411.6" cy="196.5" rx="1.4" ry="1.2" fill="#a8f060" opacity="0.6935582870408022"/>
<ellipse cx="438.1" cy="217.6" rx="0.7" ry="0.9" fill="#2fb048" opacity="0.5293909386016862"/>
<ellipse cx="374.3" cy="271.3" rx="0.9" ry="1.1" fill="#2fb048" opacity="0.6682717797881448"/>
<ellipse cx="503.8" cy="298.7" rx="0.8" ry="0.8" fill="#2fb048" opacity="0.30187271750556366"/>
<ellipse cx="491.4" cy="232.4" rx="0.9" ry="1.2" fill="#2fb048" opacity="0.39846447216722525"/>
<ellipse cx="410.0" cy="257.0" rx="1.1" ry="0.8" fill="#2fb048" opacity="0.32747744704443177"/>
<ellipse cx="436.7" cy="271.8" rx="0.8" ry="0.8" fill="#2fb048" opacity="0.4947259439625244"/>
<ellipse cx="484.7" cy="235.2" rx="1.0" ry="1.1" fill="#2fb048" opacity="0.675647295655937"/>
<ellipse cx="437.5" cy="179.1" rx="1.0" ry="1.1" fill="#2fb048" opacity="0.7640771668194521"/>
<ellipse cx="404.7" cy="275.3" rx="1.1" ry="0.6" fill="#2fb048" opacity="0.45398829895522846"/>
<ellipse cx="485.7" cy="162.3" rx="1.1" ry="0.7" fill="#2fb048" opacity="0.6411757298449551"/>
<ellipse cx="422.8" cy="173.9" rx="0.6" ry="0.8" fill="#2fb048" opacity="0.6565248567433015"/>
<ellipse cx="408.3" cy="249.3" rx="0.7" ry="1.0" fill="#2fb048" opacity="0.484093404595446"/>
<ellipse cx="403.7" cy="161.5" rx="0.5" ry="1.0" fill="#2fb048" opacity="0.5068338023887449"/>
<ellipse cx="390.6" cy="280.6" rx="1.0" ry="0.5" fill="#2fb048" opacity="0.6623724402207056"/>
<ellipse cx="478.4" cy="210.2" rx="0.9" ry="1.2" fill="#2fb048" opacity="0.48694932919932965"/>
<ellipse cx="486.2" cy="241.2" rx="0.8" ry="0.7" fill="#2fb048" opacity="0.6774876536566837"/>
<ellipse cx="486.1" cy="212.4" rx="0.9" ry="0.7" fill="#2fb048" opacity="0.6947037243562632"/>
<ellipse cx="371.4" cy="242.4" rx="0.8" ry="0.7" fill="#2fb048" opacity="0.5933996241621804"/>
<ellipse cx="476.3" cy="152.8" rx="0.8" ry="0.6" fill="#2fb048" opacity="0.6995487402048439"/>
<ellipse cx="428.6" cy="191.7" rx="0.7" ry="0.5" fill="#2fb048" opacity="0.39333350584605264"/>
<ellipse cx="395.9" cy="239.3" rx="1.1" ry="0.7" fill="#2fb048" opacity="0.3558780922245394"/>
<ellipse cx="467.2" cy="157.4" rx="0.8" ry="1.0" fill="#2fb048" opacity="0.4015784170494795"/>
<ellipse cx="498.0" cy="225.5" rx="0.6" ry="0.7" fill="#2fb048" opacity="0.5996967493296613"/>
<ellipse cx="385.6" cy="171.6" rx="0.9" ry="1.1" fill="#2fb048" opacity="0.5602102298232572"/>
<ellipse cx="491.2" cy="140.3" rx="0.7" ry="0.7" fill="#2fb048" opacity="0.756711376782631"/>
<ellipse cx="434.3" cy="265.2" rx="0.5" ry="0.8" fill="#2fb048" opacity="0.7457246154698137"/>
<ellipse cx="511.3" cy="232.1" rx="0.6" ry="1.1" fill="#2fb048" opacity="0.3398949674479687"/>
<ellipse cx="547.3" cy="263.8" rx="1.0" ry="0.9" fill="#2fb048" opacity="0.38198892060335154"/>
<ellipse cx="431.2" cy="245.7" rx="1.0" ry="0.8" fill="#2fb048" opacity="0.7006038542576989"/>
<ellipse cx="377.6" cy="185.0" rx="0.6" ry="0.7" fill="#2fb048" opacity="0.6964670156612767"/>
<ellipse cx="508.0" cy="162.8" rx="0.7" ry="0.6" fill="#2fb048" opacity="0.6309543903067103"/>
<ellipse cx="450.1" cy="176.1" rx="0.8" ry="1.1" fill="#2fb048" opacity="0.5125692312145937"/>
<ellipse cx="496.3" cy="239.9" rx="0.8" ry="0.9" fill="#2fb048" opacity="0.4819132146449812"/>
<ellipse cx="404.6" cy="218.4" rx="0.7" ry="0.7" fill="#2fb048" opacity="0.3932721226305599"/>
<ellipse cx="537.8" cy="207.3" rx="0.6" ry="0.5" fill="#2fb048" opacity="0.4071168339452673"/>
<ellipse cx="529.4" cy="193.0" rx="1.0" ry="0.7" fill="#2fb048" opacity="0.625306128576556"/>
<ellipse cx="451.5" cy="257.4" rx="0.9" ry="0.8" fill="#2fb048" opacity="0.4400515165222745"/>
<ellipse cx="478.4" cy="272.7" rx="1.0" ry="0.8" fill="#2fb048" opacity="0.4642548977132783"/>
<ellipse cx="533.7" cy="275.0" rx="0.6" ry="1.0" fill="#2fb048" opacity="0.6860406529028045"/>
<ellipse cx="493.5" cy="294.1" rx="1.1" ry="0.7" fill="#2fb048" opacity="0.7983700450663123"/>
<ellipse cx="428.7" cy="200.0" rx="1.2" ry="0.6" fill="#2fb048" opacity="0.49771818827012887"/>
<ellipse cx="484.2" cy="182.7" rx="0.7" ry="1.1" fill="#2fb048" opacity="0.6062592251848578"/>
<ellipse cx="506.2" cy="266.0" rx="1.1" ry="1.1" fill="#2fb048" opacity="0.7116894765830681"/>
<ellipse cx="549.9" cy="219.2" rx="1.0" ry="0.9" fill="#2fb048" opacity="0.7846469393625597"/>
<ellipse cx="489.7" cy="208.1" rx="1.0" ry="0.7" fill="#2fb048" opacity="0.36474058896031125"/>
<ellipse cx="439.6" cy="160.8" rx="0.5" ry="0.6" fill="#2fb048" opacity="0.5271754224262218"/>
<ellipse cx="509.8" cy="146.6" rx="0.9" ry="0.6" fill="#2fb048" opacity="0.5551777235526927"/>
<ellipse cx="422.8" cy="210.6" rx="1.0" ry="0.8" fill="#2fb048" opacity="0.49587398302171615"/>
<ellipse cx="503.4" cy="157.5" rx="0.7" ry="1.0" fill="#2fb048" opacity="0.7174624003166551"/>
<ellipse cx="550.1" cy="180.2" rx="0.9" ry="0.7" fill="#2fb048" opacity="0.6509195941134165"/>
<ellipse cx="525.3" cy="160.5" rx="0.7" ry="1.2" fill="#2fb048" opacity="0.4761985615075898"/>
<ellipse cx="485.4" cy="270.6" rx="0.7" ry="1.0" fill="#2fb048" opacity="0.3018158777369575"/>
<ellipse cx="431.1" cy="165.7" rx="0.7" ry="0.6" fill="#2fb048" opacity="0.3126686284027709"/>
<ellipse cx="517.2" cy="166.7" rx="0.9" ry="0.9" fill="#2fb048" opacity="0.7247441892630704"/>
<ellipse cx="525.4" cy="238.9" rx="0.6" ry="1.0" fill="#2fb048" opacity="0.348751701317024"/>
<ellipse cx="540.6" cy="188.4" rx="0.7" ry="0.7" fill="#2fb048" opacity="0.49806021595012506"/>
<ellipse cx="515.1" cy="276.4" rx="1.0" ry="1.0" fill="#2fb048" opacity="0.42204429246157094"/>
<ellipse cx="427.5" cy="187.8" rx="0.8" ry="1.1" fill="#2fb048" opacity="0.797977126226223"/>
<ellipse cx="383.3" cy="294.1" rx="1.1" ry="0.8" fill="#2fb048" opacity="0.6464013372868995"/>
<ellipse cx="513.8" cy="168.9" rx="0.9" ry="1.2" fill="#2fb048" opacity="0.7401853173254338"/>
<ellipse cx="502.8" cy="278.9" rx="3.2" ry="2.0" fill="#2fc048" opacity="0.8"/>
<path d="M374.1 163.9 L397.2 163.4 L458.8 144.7 Q478.6 145.8 507.2 153.5 L538.0 171.1 Q550.1 185.4 552.3 200.8 L550.1 233.8 L494.0 251.4 L443.4 268.6 L434.6 262.4 L370.8 196.4" fill="none" stroke="#fff" stroke-width="2.6" stroke-dasharray="8.2 5.2" stroke-linejoin="round"/>
</g>
<text x="450.4" y="184.2" font-size="30.6" fill="#fff" font-weight="bold">LHb</text>
<rect x="487.90" y="287.00" width="46.60" height="5.00" fill="#fff"/>
<g clip-path="url(#cA3)">
<rect x="556.80" y="68.40" width="228.20" height="230.80" fill="#04100a"/>
<g mask="url(#mA3)">
<rect x="556.80" y="68.40" width="228.20" height="230.80" fill="#041208"/>
<rect x="556.80" y="68.40" width="228.20" height="230.80" fill="#000" filter="url(#gspk)" opacity="1"/>
</g>
<g filter="url(#b1)">
<ellipse cx="766.1" cy="91.6" rx="4.2" ry="6.7" fill="#6ed755" transform="rotate(10 766.1 91.6)"/>
<ellipse cx="751.3" cy="132.7" rx="5.3" ry="5.1" fill="#6ed755" transform="rotate(-30 751.3 132.7)"/>
<ellipse cx="644.2" cy="144.7" rx="5.1" ry="5.1" fill="#6ed755"/>
<ellipse cx="730.2" cy="163.7" rx="5.1" ry="5.9" fill="#6ed755" transform="rotate(10 730.2 163.7)"/>
<ellipse cx="697.6" cy="184.4" rx="3.6" ry="8.4" fill="#6ed755" transform="rotate(15 697.6 184.4)"/>
<ellipse cx="678.0" cy="203.3" rx="2.7" ry="6.3" fill="#4fb84a" opacity="0.9099999999999999" transform="rotate(15 678.0 203.3)"/>
<ellipse cx="597.4" cy="182.3" rx="3.8" ry="8.0" fill="#3ca041" opacity="0.8049999999999999" transform="rotate(15 597.4 182.3)"/>
<ellipse cx="657.9" cy="154.9" rx="2.7" ry="6.3" fill="#37993f" opacity="0.77" transform="rotate(10 657.9 154.9)"/>
<ellipse cx="591.5" cy="240.2" rx="4.2" ry="3.8" fill="#65cf52" transform="rotate(20 591.5 240.2)"/>
<ellipse cx="614.7" cy="259.2" rx="3.4" ry="2.5" fill="#65cf52"/>
<ellipse cx="692.3" cy="115.9" rx="7.6" ry="4.6" fill="#2e8939" opacity="0.7" transform="rotate(-35 692.3 115.9)"/>
<ellipse cx="710.2" cy="121.6" rx="3.0" ry="3.0" fill="#3ca041" opacity="0.8049999999999999"/>
<ellipse cx="733.0" cy="143.3" rx="6.7" ry="3.8" fill="#2a8136" opacity="0.665" transform="rotate(-20 733.0 143.3)"/>
<ellipse cx="695.4" cy="143.3" rx="6.3" ry="4.2" fill="#237231" opacity="0.595"/>
<ellipse cx="572.1" cy="123.2" rx="5.9" ry="7.2" fill="#2e8939" opacity="0.7" transform="rotate(-20 572.1 123.2)"/>
<ellipse cx="581.6" cy="235.0" rx="8.0" ry="5.9" fill="#237231" opacity="0.595"/>
<ellipse cx="663.8" cy="249.7" rx="1.7" ry="1.7" fill="#5dc74f" opacity="0.98"/>
<ellipse cx="559.5" cy="292.9" rx="3.0" ry="4.2" fill="#42a844" opacity="0.8399999999999999"/>
<ellipse cx="760.4" cy="138.4" rx="2.1" ry="2.5" fill="#37993f" opacity="0.77"/>
<ellipse cx="764.0" cy="150.2" rx="1.7" ry="1.7" fill="#32913c" opacity="0.735"/>
<ellipse cx="695.4" cy="105.3" rx="4.2" ry="3.4" fill="#267a34" opacity="0.6299999999999999" transform="rotate(-30 695.4 105.3)"/>
<ellipse cx="579.5" cy="178.0" rx="6.3" ry="7.4" fill="#1e622b" opacity="0.5249999999999999"/>
<ellipse cx="577.4" cy="147.5" rx="1.7" ry="1.7" fill="#42a844" opacity="0.8399999999999999"/>
<ellipse cx="593.2" cy="157.4" rx="1.7" ry="1.7" fill="#42a844" opacity="0.8399999999999999"/>
<ellipse cx="633.3" cy="99.0" rx="2.5" ry="2.1" fill="#267a34" opacity="0.6299999999999999"/>
<ellipse cx="571.1" cy="89.5" rx="1.3" ry="1.3" fill="#42a844" opacity="0.8399999999999999"/>
<ellipse cx="706.0" cy="164.3" rx="1.3" ry="1.3" fill="#42a844" opacity="0.8399999999999999"/>
<ellipse cx="565.8" cy="72.6" rx="1.3" ry="1.3" fill="#37993f" opacity="0.77"/>
<ellipse cx="743.9" cy="71.0" rx="1.3" ry="1.1" fill="#37993f" opacity="0.77"/>
</g>
</g>
<g clip-path="url(#cA4)">
<rect x="789.90" y="68.20" width="229.00" height="231.00" fill="#0c0202"/>
<g mask="url(#mA4)">
<rect x="789.90" y="68.20" width="229.00" height="231.00" fill="#1c0404"/>
<rect x="789.90" y="68.20" width="229.00" height="231.00" fill="#000" filter="url(#rspk)" opacity="1"/>
</g>
<g filter="url(#b1)">
<ellipse cx="1011.9" cy="107.4" rx="3.2" ry="3.8" fill="#ff3232"/>
<ellipse cx="944.4" cy="93.7" rx="5.5" ry="5.1" fill="#d61d1d" opacity="0.7899999999999999"/>
<ellipse cx="998.2" cy="96.9" rx="4.2" ry="4.2" fill="#dd2020" opacity="0.825"/>
<ellipse cx="983.4" cy="132.7" rx="5.5" ry="4.6" fill="#dd2020" opacity="0.825"/>
<ellipse cx="927.6" cy="142.2" rx="5.5" ry="4.6" fill="#dd2020" opacity="0.825"/>
<ellipse cx="891.1" cy="149.6" rx="3.0" ry="5.1" fill="#e42323" opacity="0.8599999999999999"/>
<ellipse cx="963.4" cy="163.3" rx="4.2" ry="4.6" fill="#e42323" opacity="0.8599999999999999"/>
<ellipse cx="799.0" cy="152.7" rx="3.8" ry="3.0" fill="#dd2020" opacity="0.825"/>
<ellipse cx="931.8" cy="183.3" rx="3.0" ry="5.5" fill="#dd2020" opacity="0.825"/>
<ellipse cx="911.7" cy="202.3" rx="3.4" ry="4.6" fill="#e42323" opacity="0.8599999999999999"/>
<ellipse cx="825.3" cy="240.2" rx="3.4" ry="3.0" fill="#ff3232"/>
<ellipse cx="848.5" cy="258.1" rx="2.7" ry="2.3" fill="#ff3232"/>
<ellipse cx="908.6" cy="91.6" rx="2.5" ry="2.5" fill="#d61d1d" opacity="0.7899999999999999"/>
<ellipse cx="805.3" cy="122.2" rx="3.0" ry="3.4" fill="#c21616" opacity="0.685"/>
<ellipse cx="990.8" cy="283.4" rx="10.5" ry="6.3" fill="#f12a2a" opacity="0.9299999999999999"/>
<ellipse cx="1012.9" cy="260.3" rx="3.0" ry="8.4" fill="#ea2626" opacity="0.895"/>
<ellipse cx="1016.5" cy="203.3" rx="2.1" ry="4.6" fill="#f12a2a" opacity="0.9299999999999999"/>
<ellipse cx="973.9" cy="272.9" rx="5.3" ry="6.3" fill="#d61d1d" opacity="0.7899999999999999"/>
<ellipse cx="1003.4" cy="270.8" rx="6.3" ry="4.2" fill="#f12a2a" opacity="0.9299999999999999"/>
<ellipse cx="933.9" cy="105.3" rx="3.0" ry="2.5" fill="#d61d1d" opacity="0.7899999999999999"/>
<ellipse cx="879.1" cy="87.4" rx="2.1" ry="2.1" fill="#cf1a1a" opacity="0.7549999999999999"/>
<ellipse cx="990.8" cy="184.4" rx="2.1" ry="2.5" fill="#d61d1d" opacity="0.7899999999999999"/>
<ellipse cx="955.0" cy="229.7" rx="1.3" ry="1.3" fill="#e42323" opacity="0.8599999999999999"/>
<ellipse cx="898.0" cy="249.7" rx="1.7" ry="1.7" fill="#e42323" opacity="0.8599999999999999"/>
<ellipse cx="961.3" cy="93.7" rx="3.0" ry="2.5" fill="#d61d1d" opacity="0.7899999999999999"/>
</g>
</g>
<rect x="969.00" y="289.30" width="37.00" height="5.20" fill="#fff"/>
<g clip-path="url(#cB)">
<rect x="1257.80" y="70.60" width="225.20" height="225.20" fill="#030c06"/>
<ellipse cx="1376.5" cy="192.8" rx="128" ry="120" fill="url(#gFov)"/>
<g filter="url(#b6)">
<ellipse cx="1368.0" cy="150.6" rx="21.1" ry="12.6" fill="#03140a" opacity="0.5"/>
<ellipse cx="1427.1" cy="241.3" rx="23.2" ry="14.8" fill="#03140a" opacity="0.6"/>
<ellipse cx="1384.9" cy="194.9" rx="12.6" ry="8.4" fill="#03140a" opacity="0.3"/>
<ellipse cx="1435.5" cy="129.6" rx="14.8" ry="12.6" fill="#03140a" opacity="0.35"/>
<ellipse cx="1302.7" cy="245.5" rx="12.6" ry="10.5" fill="#03140a" opacity="0.4"/>
<ellipse cx="1351.2" cy="178.0" rx="12.6" ry="8.4" fill="#03140a" opacity="0.3"/>
</g>
<g filter="url(#b1)" fill="none" stroke-linecap="round">
<path d="M1377.2 200.5 Q1368.7 221.8 1391.0 239.9" stroke="#2aa84a" stroke-width="1.0" opacity="0.50"/>
<path d="M1423.9 200.5 Q1395.2 214.5 1378.6 220.4" stroke="#2aa84a" stroke-width="1.4" opacity="0.45"/>
<path d="M1381.2 188.3 Q1338.9 205.0 1317.2 223.3" stroke="#2aa84a" stroke-width="0.8" opacity="0.48"/>
<path d="M1403.7 162.1 Q1406.5 211.0 1384.7 237.7" stroke="#2aa84a" stroke-width="1.2" opacity="0.31"/>
<path d="M1350.2 174.0 Q1386.4 155.4 1403.7 163.6" stroke="#2aa84a" stroke-width="1.1" opacity="0.50"/>
<path d="M1390.4 238.2 Q1368.1 219.7 1340.2 192.7" stroke="#2aa84a" stroke-width="0.9" opacity="0.28"/>
<path d="M1404.8 147.9 Q1419.3 119.1 1406.0 103.7" stroke="#2aa84a" stroke-width="0.7" opacity="0.29"/>
<path d="M1439.3 228.7 Q1414.3 243.5 1402.9 228.5" stroke="#2aa84a" stroke-width="1.4" opacity="0.31"/>
<path d="M1420.1 176.6 Q1395.4 153.8 1345.4 144.4" stroke="#2aa84a" stroke-width="0.9" opacity="0.37"/>
<path d="M1399.8 228.9 Q1390.1 209.7 1362.4 199.3" stroke="#2aa84a" stroke-width="1.0" opacity="0.21"/>
<path d="M1408.1 189.2 Q1429.2 177.8 1435.2 160.3" stroke="#2aa84a" stroke-width="1.6" opacity="0.37"/>
<path d="M1334.6 180.3 Q1313.7 192.1 1290.9 186.4" stroke="#2aa84a" stroke-width="1.1" opacity="0.50"/>
<path d="M1358.5 195.3 Q1332.6 209.0 1310.3 213.2" stroke="#2aa84a" stroke-width="1.1" opacity="0.25"/>
<path d="M1377.5 195.4 Q1413.5 213.5 1454.9 246.9" stroke="#2aa84a" stroke-width="1.0" opacity="0.47"/>
<path d="M1373.0 200.9 Q1340.5 221.9 1334.0 261.4" stroke="#2aa84a" stroke-width="1.5" opacity="0.47"/>
<path d="M1398.9 181.3 Q1352.0 190.9 1303.3 190.6" stroke="#2aa84a" stroke-width="1.3" opacity="0.27"/>
<path d="M1439.9 159.4 Q1441.9 198.2 1433.0 266.3" stroke="#2aa84a" stroke-width="1.5" opacity="0.22"/>
<path d="M1364.7 171.0 Q1340.4 204.2 1319.9 264.4" stroke="#2aa84a" stroke-width="1.3" opacity="0.22"/>
<path d="M1358.6 185.6 Q1351.4 159.5 1327.1 132.0" stroke="#2aa84a" stroke-width="0.7" opacity="0.45"/>
<path d="M1379.5 187.2 Q1380.7 204.5 1351.4 229.0" stroke="#2aa84a" stroke-width="1.4" opacity="0.45"/>
<path d="M1371.8 196.2 Q1403.9 220.9 1440.3 222.7" stroke="#2aa84a" stroke-width="1.4" opacity="0.20"/>
<path d="M1387.3 182.8 Q1385.4 203.5 1364.4 245.5" stroke="#2aa84a" stroke-width="1.5" opacity="0.24"/>
<path d="M1341.4 182.6 Q1368.0 206.5 1393.3 236.0" stroke="#2aa84a" stroke-width="1.0" opacity="0.25"/>
<path d="M1309.6 206.9 Q1339.4 170.1 1372.9 156.3" stroke="#2aa84a" stroke-width="1.4" opacity="0.30"/>
<path d="M1371.2 184.3 Q1332.3 176.7 1285.6 182.9" stroke="#2aa84a" stroke-width="1.5" opacity="0.24"/>
<path d="M1390.3 144.1 Q1434.5 121.9 1450.9 120.2" stroke="#2aa84a" stroke-width="1.3" opacity="0.28"/>
<path d="M1375.9 194.5 Q1421.0 240.9 1446.4 258.3" stroke="#2aa84a" stroke-width="0.8" opacity="0.37"/>
<path d="M1333.5 194.1 Q1320.3 186.0 1308.4 153.2" stroke="#2aa84a" stroke-width="0.9" opacity="0.43"/>
<path d="M1379.5 217.1 Q1385.5 163.6 1397.9 116.4" stroke="#2aa84a" stroke-width="1.4" opacity="0.27"/>
<path d="M1375.6 193.3 Q1390.3 146.9 1397.7 109.2" stroke="#2aa84a" stroke-width="1.6" opacity="0.38"/>
<path d="M1379.3 197.0 Q1394.2 149.7 1421.0 128.4" stroke="#2aa84a" stroke-width="0.9" opacity="0.25"/>
<path d="M1405.0 201.5 Q1380.8 200.9 1372.9 184.3" stroke="#2aa84a" stroke-width="0.9" opacity="0.48"/>
<path d="M1394.1 202.8 Q1392.4 152.4 1382.3 122.9" stroke="#2aa84a" stroke-width="0.8" opacity="0.31"/>
<path d="M1412.9 231.6 Q1377.3 241.4 1327.4 247.8" stroke="#2aa84a" stroke-width="1.2" opacity="0.23"/>
<path d="M1396.8 162.7 Q1399.1 141.8 1376.4 120.0" stroke="#2aa84a" stroke-width="1.2" opacity="0.28"/>
<path d="M1366.1 200.3 Q1374.7 221.8 1372.0 255.9" stroke="#2aa84a" stroke-width="1.4" opacity="0.21"/>
<path d="M1410.6 223.2 Q1444.5 214.1 1480.0 191.0" stroke="#2aa84a" stroke-width="0.9" opacity="0.44"/>
<path d="M1429.4 191.6 Q1402.4 167.4 1396.3 141.3" stroke="#2aa84a" stroke-width="0.9" opacity="0.33"/>
<path d="M1398.4 177.5 Q1347.2 165.3 1325.5 144.6" stroke="#2aa84a" stroke-width="0.9" opacity="0.45"/>
<path d="M1364.4 173.2 Q1332.6 208.8 1327.5 261.3" stroke="#2aa84a" stroke-width="1.0" opacity="0.21"/>
<path d="M1379.3 192.4 Q1329.0 208.8 1288.1 252.1" stroke="#2aa84a" stroke-width="1.3" opacity="0.34"/>
<path d="M1391.5 210.4 Q1395.5 218.8 1417.1 241.6" stroke="#2aa84a" stroke-width="1.6" opacity="0.46"/>
<path d="M1377.3 192.7 Q1419.3 210.0 1436.3 211.4" stroke="#2aa84a" stroke-width="1.4" opacity="0.28"/>
<path d="M1341.8 222.0 Q1319.0 187.5 1324.1 152.2" stroke="#2aa84a" stroke-width="1.2" opacity="0.36"/>
<path d="M1373.3 208.0 Q1373.3 201.9 1404.1 171.1" stroke="#2aa84a" stroke-width="1.5" opacity="0.27"/>
<path d="M1377.6 162.3 Q1371.5 182.3 1357.7 217.9" stroke="#2aa84a" stroke-width="1.2" opacity="0.19"/>
<path d="M1374.6 214.3 Q1332.9 247.3 1303.2 252.4" stroke="#2aa84a" stroke-width="1.4" opacity="0.38"/>
<path d="M1358.1 221.6 Q1338.0 205.0 1316.7 214.3" stroke="#2aa84a" stroke-width="1.4" opacity="0.28"/>
<path d="M1375.4 136.1 Q1396.1 119.5 1410.8 94.4" stroke="#2aa84a" stroke-width="1.4" opacity="0.43"/>
<path d="M1417.6 131.3 Q1399.1 101.6 1409.1 93.5" stroke="#2aa84a" stroke-width="1.5" opacity="0.48"/>
<path d="M1367.4 175.4 Q1347.0 182.3 1345.8 212.4" stroke="#2aa84a" stroke-width="1.1" opacity="0.35"/>
<path d="M1368.3 190.9 Q1391.5 165.3 1412.6 170.2" stroke="#2aa84a" stroke-width="0.8" opacity="0.27"/>
<path d="M1415.0 256.7 Q1405.3 215.3 1399.1 197.1" stroke="#2aa84a" stroke-width="0.7" opacity="0.43"/>
<path d="M1373.0 161.6 Q1393.1 168.5 1441.6 202.3" stroke="#2aa84a" stroke-width="0.8" opacity="0.40"/>
<path d="M1434.6 216.2 Q1402.9 210.4 1356.9 235.1" stroke="#2aa84a" stroke-width="1.1" opacity="0.44"/>
<path d="M1378.5 195.2 Q1360.1 193.7 1326.3 189.6" stroke="#2aa84a" stroke-width="1.0" opacity="0.41"/>
<path d="M1433.0 165.5 Q1400.6 168.5 1378.7 169.2" stroke="#2aa84a" stroke-width="1.2" opacity="0.30"/>
<path d="M1386.1 181.6 Q1402.3 155.6 1410.3 149.0" stroke="#2aa84a" stroke-width="0.8" opacity="0.36"/>
<path d="M1416.6 241.2 Q1374.8 213.8 1359.9 158.1" stroke="#2aa84a" stroke-width="1.4" opacity="0.37"/>
<path d="M1357.5 187.4 Q1386.2 156.2 1428.9 115.8" stroke="#2aa84a" stroke-width="1.4" opacity="0.35"/>
<path d="M1376.6 188.1 Q1386.0 204.2 1405.2 213.7" stroke="#2aa84a" stroke-width="1.5" opacity="0.30"/>
<path d="M1392.1 241.1 Q1392.0 281.5 1369.7 292.7" stroke="#2aa84a" stroke-width="1.4" opacity="0.24"/>
<path d="M1371.7 192.0 Q1417.4 201.4 1454.8 210.0" stroke="#2aa84a" stroke-width="1.2" opacity="0.40"/>
<path d="M1425.0 201.2 L1398.6 180.2 Q1397.6 148.5 1412.3 127.5" stroke="#3fc860" stroke-width="2.4" opacity="0.8"/>
<path d="M1333.3 207.6 L1319.6 228.6 L1313.2 241.3" stroke="#3fc860" stroke-width="3.5" opacity="0.7"/>
<path d="M1351.2 239.2 L1380.7 262.4" stroke="#3fc860" stroke-width="3" opacity="0.7"/>
<path d="M1323.8 161.2 Q1313.2 190.7 1325.9 207.6" stroke="#35b855" stroke-width="2.2" opacity="0.7"/>
<path d="M1361.7 205.4 Q1384.9 194.9 1412.3 188.6" stroke="#35b855" stroke-width="2" opacity="0.6"/>
</g>
<g filter="url(#b3)">
<ellipse cx="1353.3" cy="83.2" rx="10.5" ry="11.4" fill="#209440" opacity="0.7075"/>
<ellipse cx="1407.0" cy="107.4" rx="7.7" ry="7.7" fill="#249b43" opacity="0.7300000000000001"/>
<ellipse cx="1392.3" cy="100.1" rx="6.4" ry="6.4" fill="#1d8e3d" opacity="0.685"/>
<ellipse cx="1373.3" cy="113.8" rx="7.7" ry="6.8" fill="#1d8e3d" opacity="0.685"/>
<ellipse cx="1313.2" cy="116.9" rx="10.0" ry="11.4" fill="#1d8e3d" opacity="0.685"/>
<ellipse cx="1290.1" cy="138.0" rx="10.0" ry="10.0" fill="#209440" opacity="0.7075"/>
<ellipse cx="1462.9" cy="151.7" rx="9.6" ry="6.8" fill="#29a145" opacity="0.7525000000000001" transform="rotate(-20 1462.9 151.7)"/>
<ellipse cx="1443.9" cy="160.1" rx="11.4" ry="9.1" fill="#249b43" opacity="0.7300000000000001"/>
<ellipse cx="1460.8" cy="199.1" rx="9.6" ry="6.8" fill="#249b43" opacity="0.7300000000000001"/>
<ellipse cx="1457.6" cy="226.5" rx="5.5" ry="9.1" fill="#209440" opacity="0.7075"/>
<ellipse cx="1473.4" cy="213.9" rx="5.5" ry="9.1" fill="#1d8e3d" opacity="0.685"/>
<ellipse cx="1321.7" cy="222.3" rx="5.5" ry="15.9" fill="#33ad4b" opacity="0.7975000000000001" transform="rotate(15 1321.7 222.3)"/>
<ellipse cx="1296.4" cy="190.7" rx="9.1" ry="9.1" fill="#1a883a" opacity="0.6625000000000001"/>
<ellipse cx="1374.4" cy="251.8" rx="5.9" ry="13.7" fill="#2ea748" opacity="0.775" transform="rotate(-35 1374.4 251.8)"/>
<ellipse cx="1338.5" cy="256.0" rx="6.8" ry="6.8" fill="#1d8e3d" opacity="0.685"/>
<ellipse cx="1476.6" cy="207.6" rx="4.6" ry="13.7" fill="#1d8e3d" opacity="0.685"/>
</g>
<g filter="url(#b2)">
<ellipse cx="1425.0" cy="201.7" rx="14.1" ry="9.6" fill="#7de664" transform="rotate(25 1425.0 201.7)"/>
<ellipse cx="1345.9" cy="205.4" rx="21.6" ry="12.5" fill="#7de664" transform="rotate(-5 1345.9 205.4)"/>
<ellipse cx="1333.3" cy="208.6" rx="11.4" ry="9.1" fill="#7de664"/>
<ellipse cx="1323.8" cy="161.2" rx="6.4" ry="13.2" fill="#57cd59" opacity="0.9100000000000001" transform="rotate(-15 1323.8 161.2)"/>
<ellipse cx="1395.4" cy="220.6" rx="14.1" ry="7.3" fill="#5fd35b" opacity="0.9325000000000001" transform="rotate(-25 1395.4 220.6)"/>
<ellipse cx="1351.2" cy="239.2" rx="8.7" ry="10.5" fill="#69d95e" opacity="0.9550000000000001" transform="rotate(-30 1351.2 239.2)"/>
<ellipse cx="1395.4" cy="258.1" rx="11.8" ry="7.7" fill="#69d95e" opacity="0.9550000000000001" transform="rotate(15 1395.4 258.1)"/>
<ellipse cx="1281.6" cy="270.8" rx="7.3" ry="14.1" fill="#39b44e" opacity="0.8200000000000001" transform="rotate(-20 1281.6 270.8)"/>
<ellipse cx="1410.2" cy="190.7" rx="4.6" ry="11.4" fill="#4fc656" opacity="0.8875000000000001" transform="rotate(-50 1410.2 190.7)"/>
<ellipse cx="1368.0" cy="211.8" rx="9.1" ry="4.6" fill="#39b44e" opacity="0.8200000000000001"/>
</g>
</g>
<rect x="1441.50" y="289.30" width="37.50" height="5.20" fill="#fff"/>
<g clip-path="url(#cC1)">
<rect x="38.90" y="427.10" width="149.70" height="149.70" fill="#2f3234"/>
<rect x="38.90" y="427.10" width="149.70" height="149.70" fill="url(#gcC1)"/>
<g filter="url(#b3)">
<ellipse cx="126.0" cy="542.8" rx="17.2" ry="14.1" fill="#2b2d2f" opacity="0.8"/>
<ellipse cx="90.3" cy="554.0" rx="9.4" ry="7.8" fill="#2b2d2f" opacity="0.6"/>
<ellipse cx="123.8" cy="465.8" rx="7.8" ry="6.3" fill="#2b2d2f" opacity="0.5"/>
<ellipse cx="63.5" cy="527.2" rx="9.4" ry="6.3" fill="#2b2d2f" opacity="0.4"/>
<ellipse cx="117.1" cy="491.5" rx="7.8" ry="6.3" fill="#2b2d2f" opacity="0.4"/>
<ellipse cx="155.1" cy="520.5" rx="9.4" ry="9.4" fill="#2b2d2f" opacity="0.4"/>
</g><g filter="url(#b1_5)">
<path d="M103.5 517.8 Q116.4 518.4 138.8 505.8" stroke="#b0b0b0" stroke-width="1.3" fill="none" opacity="0.21"/>
<path d="M104.9 492.3 Q107.0 511.6 117.1 526.7" stroke="#b0b0b0" stroke-width="1.3" fill="none" opacity="0.41"/>
<path d="M95.0 512.2 Q89.5 536.6 95.4 554.0" stroke="#b0b0b0" stroke-width="1.3" fill="none" opacity="0.23"/>
<path d="M81.4 515.5 Q71.5 519.9 48.4 523.8" stroke="#b0b0b0" stroke-width="1.3" fill="none" opacity="0.42"/>
<path d="M120.8 541.2 Q140.7 541.9 153.9 532.3" stroke="#b0b0b0" stroke-width="1.3" fill="none" opacity="0.43"/>
<path d="M85.9 496.1 Q82.4 471.2 93.0 456.5" stroke="#b0b0b0" stroke-width="1.3" fill="none" opacity="0.21"/>
<path d="M126.0 528.1 Q127.9 506.2 144.4 495.2" stroke="#b0b0b0" stroke-width="1.3" fill="none" opacity="0.24"/>
<path d="M107.0 502.1 Q91.1 522.4 70.8 543.8" stroke="#b0b0b0" stroke-width="1.3" fill="none" opacity="0.21"/>
<path d="M103.9 498.9 Q119.8 488.7 135.8 472.1" stroke="#b0b0b0" stroke-width="1.3" fill="none" opacity="0.23"/>
<path d="M91.2 505.5 Q111.5 521.5 118.1 522.8" stroke="#b0b0b0" stroke-width="1.3" fill="none" opacity="0.29"/>
<path d="M120.3 536.6 Q117.4 552.5 129.5 584.2" stroke="#b0b0b0" stroke-width="1.3" fill="none" opacity="0.23"/>
<path d="M137.6 516.6 Q149.1 513.6 165.8 503.5" stroke="#b0b0b0" stroke-width="1.3" fill="none" opacity="0.32"/>
<path d="M85.0 477.4 Q111.5 487.2 133.6 498.7" stroke="#b0b0b0" stroke-width="1.3" fill="none" opacity="0.32"/>
<path d="M98.9 497.8 Q95.3 489.6 84.5 468.1" stroke="#b0b0b0" stroke-width="1.3" fill="none" opacity="0.31"/>
<path d="M97.4 501.4 Q94.6 508.1 86.0 524.6" stroke="#b0b0b0" stroke-width="1.3" fill="none" opacity="0.35"/>
<path d="M76.6 514.5 Q54.8 502.9 35.4 504.1" stroke="#b0b0b0" stroke-width="1.3" fill="none" opacity="0.44"/>
<ellipse cx="74.7" cy="511.6" rx="11.4" ry="9.2" fill="#d7d7d7" opacity="0.77"/>
<ellipse cx="83.6" cy="523.8" rx="9.2" ry="8.2" fill="#d1d1d1" opacity="0.7424999999999999"/>
<ellipse cx="110.4" cy="511.6" rx="16.8" ry="9.5" fill="#d1d1d1" opacity="0.7424999999999999"/>
<ellipse cx="133.8" cy="487.0" rx="8.4" ry="15.0" fill="#c2c2c2" opacity="0.66"/>
<ellipse cx="70.2" cy="554.0" rx="13.2" ry="7.3" fill="#d1d1d1" opacity="0.7424999999999999"/>
<ellipse cx="69.1" cy="542.8" rx="9.5" ry="7.3" fill="#adadad" opacity="0.55"/>
<ellipse cx="146.1" cy="549.5" rx="11.4" ry="9.2" fill="#bcbcbc" opacity="0.6325000000000001"/>
<ellipse cx="103.7" cy="562.9" rx="9.2" ry="8.4" fill="#adadad" opacity="0.55"/>
<ellipse cx="126.0" cy="449.0" rx="8.4" ry="10.3" fill="#a7a7a7" opacity="0.5225000000000001"/>
<ellipse cx="84.7" cy="458.0" rx="13.2" ry="11.0" fill="#9d9d9d" opacity="0.4675"/>
<ellipse cx="113.7" cy="471.4" rx="7.3" ry="9.5" fill="#a7a7a7" opacity="0.5225000000000001"/>
<ellipse cx="49.0" cy="511.6" rx="5.5" ry="9.5" fill="#989898" opacity="0.44000000000000006"/>
<ellipse cx="150.6" cy="493.7" rx="9.5" ry="9.5" fill="#929292" opacity="0.4125"/>
<ellipse cx="161.8" cy="562.9" rx="7.3" ry="7.3" fill="#8d8d8d" opacity="0.385"/>
<ellipse cx="130.5" cy="525.0" rx="11.0" ry="7.3" fill="#a7a7a7" opacity="0.5225000000000001"/>
<ellipse cx="103.7" cy="499.3" rx="9.5" ry="9.2" fill="#989898" opacity="0.44000000000000006"/>
<ellipse cx="88.1" cy="475.8" rx="9.2" ry="7.3" fill="#8d8d8d" opacity="0.385"/>
<ellipse cx="97.0" cy="449.0" rx="9.2" ry="7.3" fill="#888888" opacity="0.35750000000000004"/>
</g>
<rect x="38.90" y="427.10" width="149.70" height="149.70" fill="#000" filter="url(#wspk)" opacity="0.10"/>
<rect x="38.90" y="427.10" width="149.70" height="149.70" fill="#000" filter="url(#kspk)" opacity="0.16"/>
</g>
<polygon points="96.5,529.9 109.6,536.6 120.0,534.3 110.8,549.1" fill="#fff"/>
<text x="47.0" y="455.3" font-size="30" fill="#fff">H</text>
<g clip-path="url(#cC2)">
<rect x="206.90" y="427.10" width="149.70" height="149.70" fill="#2f3234"/>
<rect x="206.90" y="427.10" width="149.70" height="149.70" fill="url(#gcC2)"/>
<g filter="url(#b3)">
<ellipse cx="304.7" cy="541.7" rx="15.6" ry="14.1" fill="#2b2d2f" opacity="0.8"/>
<ellipse cx="266.7" cy="562.9" rx="7.8" ry="6.3" fill="#2b2d2f" opacity="0.5"/>
<ellipse cx="286.8" cy="531.7" rx="6.3" ry="6.3" fill="#2b2d2f" opacity="0.4"/>
<ellipse cx="275.6" cy="475.8" rx="7.8" ry="6.3" fill="#2b2d2f" opacity="0.4"/>
<ellipse cx="331.5" cy="520.5" rx="9.4" ry="9.4" fill="#2b2d2f" opacity="0.4"/>
<ellipse cx="231.0" cy="531.7" rx="7.8" ry="7.8" fill="#2b2d2f" opacity="0.4"/>
</g><g filter="url(#b1_5)">
<path d="M268.8 493.4 Q286.7 496.2 317.2 505.9" stroke="#b0b0b0" stroke-width="1.3" fill="none" opacity="0.28"/>
<path d="M280.6 508.6 Q303.0 511.9 329.7 526.8" stroke="#b0b0b0" stroke-width="1.3" fill="none" opacity="0.24"/>
<path d="M290.3 513.5 Q321.2 494.6 337.6 489.4" stroke="#b0b0b0" stroke-width="1.3" fill="none" opacity="0.33"/>
<path d="M287.4 518.9 Q278.4 491.8 273.5 470.3" stroke="#b0b0b0" stroke-width="1.3" fill="none" opacity="0.40"/>
<path d="M306.7 512.2 Q289.3 501.3 260.1 502.9" stroke="#b0b0b0" stroke-width="1.3" fill="none" opacity="0.29"/>
<path d="M269.0 515.6 Q281.6 513.7 295.8 508.0" stroke="#b0b0b0" stroke-width="1.3" fill="none" opacity="0.36"/>
<path d="M272.0 492.3 Q282.2 512.4 287.3 517.2" stroke="#b0b0b0" stroke-width="1.3" fill="none" opacity="0.40"/>
<path d="M274.7 503.8 Q293.0 492.3 306.5 468.1" stroke="#b0b0b0" stroke-width="1.3" fill="none" opacity="0.44"/>
<path d="M268.4 531.4 Q285.2 550.9 289.2 577.8" stroke="#b0b0b0" stroke-width="1.3" fill="none" opacity="0.43"/>
<path d="M264.8 485.7 Q249.2 495.7 230.6 504.0" stroke="#b0b0b0" stroke-width="1.3" fill="none" opacity="0.30"/>
<path d="M283.8 500.2 Q268.5 505.6 244.8 520.4" stroke="#b0b0b0" stroke-width="1.3" fill="none" opacity="0.37"/>
<path d="M284.5 510.6 Q278.4 530.1 285.2 552.3" stroke="#b0b0b0" stroke-width="1.3" fill="none" opacity="0.35"/>
<path d="M279.8 506.2 Q299.8 512.7 316.6 521.4" stroke="#b0b0b0" stroke-width="1.3" fill="none" opacity="0.40"/>
<path d="M261.0 513.3 Q276.6 513.4 305.5 501.0" stroke="#b0b0b0" stroke-width="1.3" fill="none" opacity="0.34"/>
<path d="M254.1 531.9 Q280.5 541.7 298.8 560.4" stroke="#b0b0b0" stroke-width="1.3" fill="none" opacity="0.34"/>
<path d="M272.6 480.2 Q257.5 505.9 245.7 521.0" stroke="#b0b0b0" stroke-width="1.3" fill="none" opacity="0.43"/>
<ellipse cx="266.7" cy="498.2" rx="13.2" ry="10.1" fill="#d1d1d1" opacity="0.7424999999999999"/>
<ellipse cx="313.6" cy="482.5" rx="9.2" ry="16.8" fill="#c2c2c2" opacity="0.66"/>
<ellipse cx="251.1" cy="510.4" rx="9.2" ry="8.4" fill="#cccccc" opacity="0.7150000000000001"/>
<ellipse cx="290.2" cy="509.3" rx="11.4" ry="11.0" fill="#d1d1d1" opacity="0.7424999999999999"/>
<ellipse cx="261.1" cy="522.7" rx="10.3" ry="8.4" fill="#d1d1d1" opacity="0.7424999999999999"/>
<ellipse cx="248.8" cy="542.8" rx="11.4" ry="7.3" fill="#cccccc" opacity="0.7150000000000001"/>
<ellipse cx="247.7" cy="554.0" rx="13.2" ry="7.3" fill="#d1d1d1" opacity="0.7424999999999999"/>
<ellipse cx="324.8" cy="547.3" rx="13.2" ry="9.2" fill="#bcbcbc" opacity="0.6325000000000001"/>
<ellipse cx="281.2" cy="560.7" rx="9.2" ry="8.4" fill="#b2b2b2" opacity="0.5775"/>
<ellipse cx="301.3" cy="445.7" rx="9.2" ry="9.2" fill="#a2a2a2" opacity="0.495"/>
<ellipse cx="264.5" cy="460.2" rx="13.2" ry="9.2" fill="#989898" opacity="0.44000000000000006"/>
<ellipse cx="292.4" cy="466.9" rx="11.0" ry="9.2" fill="#a7a7a7" opacity="0.5225000000000001"/>
<ellipse cx="327.0" cy="491.5" rx="7.3" ry="13.2" fill="#989898" opacity="0.44000000000000006"/>
<ellipse cx="226.5" cy="511.6" rx="5.5" ry="9.2" fill="#929292" opacity="0.4125"/>
<ellipse cx="306.9" cy="522.7" rx="9.2" ry="5.5" fill="#9d9d9d" opacity="0.4675"/>
<ellipse cx="311.4" cy="562.9" rx="5.5" ry="5.5" fill="#8d8d8d" opacity="0.385"/>
<ellipse cx="338.2" cy="560.7" rx="5.5" ry="5.5" fill="#8d8d8d" opacity="0.385"/>
<ellipse cx="280.1" cy="484.8" rx="9.2" ry="7.3" fill="#8d8d8d" opacity="0.385"/>
</g>
<rect x="206.90" y="427.10" width="149.70" height="149.70" fill="#000" filter="url(#wspk)" opacity="0.10"/>
<rect x="206.90" y="427.10" width="149.70" height="149.70" fill="#000" filter="url(#kspk)" opacity="0.16"/>
</g>
<polygon points="274.5,525.4 287.3,532.4 298.0,528.8 288.6,543.9" fill="#fff"/>
<text x="214.0" y="455.8" font-size="30" fill="#fff">C</text>
<text x="129.2" y="59" font-size="35.5" fill="#29a8df">GRIN</text>
<text x="33.5" y="329" font-size="35.2" fill="#13a84c" style="font-kerning:none">AAV-GCaMP6f</text>
<text x="471" y="59.2" font-size="35" fill="#13a84c">GCaMP6f</text>
<text x="784.8" y="58.8" font-size="34" fill="#ed1c24">EAAC1</text>
<text x="1258.2" y="59.3" font-size="34.8" fill="#8c8a8a">2P LHb FOV</text>
<g transform="translate(0,60) scale(0.24085)">
<path d="M262 180 C350 270 450 330 545 348 L570 345 L578 308 L588 348 C650 345 710 320 760 292" fill="none" stroke="#231f20" stroke-width="5.397600000000001" stroke-linecap="round" stroke-linejoin="round"/>
<path d="M375 252 C440 295 500 335 558 368 L600 372 C680 360 760 310 865 232" fill="none" stroke="#231f20" stroke-width="5.397600000000001" stroke-linecap="round" stroke-linejoin="round"/>
<path d="M585 345 L640 405" fill="none" stroke="#231f20" stroke-width="5.397600000000001" stroke-linecap="round" stroke-linejoin="round"/>
<path d="M175 492 C250 530 380 540 455 515 C470 540 440 560 420 568" fill="none" stroke="#231f20" stroke-width="5.397600000000001" stroke-linecap="round" stroke-linejoin="round" stroke-dasharray="34 16"/>
<path d="M192 630 C280 650 360 610 420 572" fill="none" stroke="#231f20" stroke-width="5.397600000000001" stroke-linecap="round" stroke-linejoin="round" stroke-dasharray="34 16"/>
<path d="M350 442 C420 435 480 445 520 492" fill="none" stroke="#231f20" stroke-width="5.397600000000001" stroke-linecap="round" stroke-linejoin="round"/>
<path d="M225 722 C300 720 380 690 480 600" fill="none" stroke="#231f20" stroke-width="5.397600000000001" stroke-linecap="round" stroke-linejoin="round"/>
<path d="M490 595 C470 640 450 690 430 722" fill="none" stroke="#231f20" stroke-width="5.397600000000001" stroke-linecap="round" stroke-linejoin="round"/>
<path d="M255 790 C270 740 310 710 380 712 L400 730 L425 720 C430 780 440 840 462 880 C420 910 350 915 290 885 C260 860 250 820 255 790 Z" fill="#fff" stroke="#231f20" stroke-width="5.397600000000001" stroke-linecap="round" stroke-linejoin="round"/>
<path d="M345 712 C370 705 395 715 400 730" fill="none" stroke="#231f20" stroke-width="5.397600000000001" stroke-linecap="round" stroke-linejoin="round"/>
<path d="M430 722 C435 790 445 850 470 890" fill="none" stroke="#231f20" stroke-width="5.397600000000001" stroke-linecap="round" stroke-linejoin="round"/>
<path d="M497 858 L535 825" fill="none" stroke="#231f20" stroke-width="5.397600000000001" stroke-linecap="round" stroke-linejoin="round"/>
<path d="M640 822 L665 838" fill="none" stroke="#231f20" stroke-width="5.397600000000001" stroke-linecap="round" stroke-linejoin="round"/>
<path d="M690 858 L705 910" fill="none" stroke="#231f20" stroke-width="5.397600000000001" stroke-linecap="round" stroke-linejoin="round"/>
<path d="M650 470 C680 450 720 450 757 462" fill="none" stroke="#231f20" stroke-width="5.397600000000001" stroke-linecap="round" stroke-linejoin="round"/>
<path d="M860 470 L945 428" fill="none" stroke="#231f20" stroke-width="5.397600000000001" stroke-linecap="round" stroke-linejoin="round"/>
<path d="M880 550 L945 528" fill="none" stroke="#231f20" stroke-width="5.397600000000001" stroke-linecap="round" stroke-linejoin="round" stroke-dasharray="34 16"/>
<path d="M865 650 C900 670 950 660 975 650" fill="none" stroke="#231f20" stroke-width="5.397600000000001" stroke-linecap="round" stroke-linejoin="round" stroke-dasharray="34 16"/>
<path d="M705 540 L757 560" fill="none" stroke="#231f20" stroke-width="5.397600000000001" stroke-linecap="round" stroke-linejoin="round"/>
<path d="M700 550 C720 600 740 640 757 680" fill="none" stroke="#231f20" stroke-width="5.397600000000001" stroke-linecap="round" stroke-linejoin="round"/>
<path d="M685 605 C700 650 720 720 735 745" fill="none" stroke="#231f20" stroke-width="5.397600000000001" stroke-linecap="round" stroke-linejoin="round"/>
<path d="M690 630 L712 690 L722 740" fill="none" stroke="#231f20" stroke-width="5.397600000000001" stroke-linecap="round" stroke-linejoin="round"/>
<path d="M572 370 L598 372 C602 420 612 455 638 488 C660 530 680 570 690 600 L685 625 C670 650 655 670 650 690 C640 720 640 760 640 790 C638 815 630 835 625 840 L590 882 L560 860 C545 840 538 810 540 770 C542 740 540 710 535 690 C530 660 520 640 515 620 L490 590 C500 560 510 520 522 482 C545 452 562 420 572 370 Z" fill="#231f20"/>
<path d="M745 725 L860 752 L875 740 C895 765 912 800 912 825 C910 860 890 885 870 890 C830 905 780 915 735 915 L707 890 C710 850 730 790 745 725 Z" fill="#21ab4b" stroke="#231f20" stroke-width="5.397600000000001"/>
</g>
<rect x="182.00" y="90.80" width="25.20" height="150.40" fill="#3fa8dc"/>
<rect x="1090.00" y="28.20" width="57.30" height="72.50" fill="url(#obj)"/>
<rect x="1090.00" y="79.00" width="57.40" height="11.00" fill="#636567"/>
<text x="1094.2" y="66.6" font-size="30.2" fill="#fff">20x</text>
<text x="1158.2" y="77.5" font-size="35.6" fill="#231f20">2P</text>
<g transform="translate(1025,110) scale(0.17215)">
<path d="M735 102 L1248 102 L1248 1110 L735 1110 C650 1000 640 250 735 102 Z" fill="#eceeed"/>
<path d="M735 102 C860 300 860 900 735 1110" fill="#fff" stroke="none"/>
<path d="M735 102 C650 250 640 1000 735 1110 C860 900 860 300 735 102 Z" fill="#fff" stroke="#231f20" stroke-width="12" stroke-linejoin="round"/>
<path d="M735 102 L1248 102 M728 1110 L1248 1110" fill="none" stroke="#231f20" stroke-width="12"/>
<path d="M810 290 C900 240 1100 200 1248 235" fill="none" stroke="#8a8a8a" stroke-width="3.5" stroke-linecap="round" stroke-linejoin="round"/>
<path d="M1050 800 C1120 775 1200 765 1248 762" fill="none" stroke="#8a8a8a" stroke-width="3.5" stroke-linecap="round" stroke-linejoin="round"/>
<path d="M830 880 C950 830 1100 830 1248 820" fill="none" stroke="#8a8a8a" stroke-width="3.5" stroke-linecap="round" stroke-linejoin="round"/>
<path d="M365 365 C300 420 220 500 165 610 L150 660 C140 690 160 720 185 710 C210 750 300 770 440 740 C520 770 640 810 745 832 L810 885 L830 600 L745 315 C740 250 690 215 640 235 C600 245 575 270 560 290 L512 265 C480 230 460 160 450 108 C430 100 395 150 385 215 Z" fill="#fff" stroke="none"/>
<path d="M365 365 C300 420 220 500 165 610 L150 660 C140 690 160 720 185 710 C190 695 195 688 202 688" fill="none" stroke="#231f20" stroke-width="6.5" stroke-linecap="round" stroke-linejoin="round"/>
<path d="M185 710 C210 750 300 770 440 740" fill="none" stroke="#231f20" stroke-width="6.5" stroke-linecap="round" stroke-linejoin="round"/>
<path d="M385 215 C395 150 430 100 450 108 C460 160 480 230 510 262" fill="#fff" stroke="#231f20" stroke-width="6.5" stroke-linecap="round" stroke-linejoin="round"/>
<path d="M460 290 C480 280 500 270 512 265" fill="none" stroke="#231f20" stroke-width="6.5" stroke-linecap="round" stroke-linejoin="round"/>
<path d="M560 290 C590 230 680 215 720 280 C760 350 740 430 680 470" fill="#fff" stroke="#231f20" stroke-width="6.5" stroke-linecap="round" stroke-linejoin="round"/>
<path d="M745 315 C770 310 790 300 805 290" fill="none" stroke="#231f20" stroke-width="6.5" stroke-linecap="round" stroke-linejoin="round"/>
<path d="M665 610 C670 660 640 710 595 745" fill="none" stroke="#231f20" stroke-width="6.5" stroke-linecap="round" stroke-linejoin="round"/>
<path d="M110 558 C135 570 150 585 165 600" fill="none" stroke="#231f20" stroke-width="6.5" stroke-linecap="round" stroke-linejoin="round"/>
<path d="M60 612 C90 600 130 605 160 615" fill="none" stroke="#231f20" stroke-width="6.5" stroke-linecap="round" stroke-linejoin="round"/>
<path d="M68 668 C90 640 120 635 145 640" fill="none" stroke="#231f20" stroke-width="6.5" stroke-linecap="round" stroke-linejoin="round"/>
<path d="M250 628 C350 635 440 660 505 720" fill="none" stroke="#231f20" stroke-width="6.5" stroke-linecap="round" stroke-linejoin="round"/>
<path d="M240 688 C330 700 400 750 440 825" fill="none" stroke="#231f20" stroke-width="6.5" stroke-linecap="round" stroke-linejoin="round"/>
<path d="M300 670 C380 690 440 720 465 790" fill="none" stroke="#231f20" stroke-width="6.5" stroke-linecap="round" stroke-linejoin="round"/>
<path d="M490 770 C480 810 460 840 440 860 L360 870 L315 908 L380 925 L400 900 L440 880 L400 912 L490 910 C500 890 540 860 640 830" fill="#fff" stroke="#231f20" stroke-width="6.5" stroke-linecap="round" stroke-linejoin="round"/>
<path d="M440 740 C520 770 640 810 745 832 C730 860 720 875 700 880 L610 890 C590 900 590 920 615 930 L680 940 C740 940 790 910 810 885" fill="#fff" stroke="#231f20" stroke-width="6.5" stroke-linecap="round" stroke-linejoin="round"/>
<path d="M640 925 L740 905" fill="none" stroke="#231f20" stroke-width="6.5" stroke-linecap="round" stroke-linejoin="round"/>
<path d="M655 825 L665 880" fill="none" stroke="#231f20" stroke-width="8" stroke-linecap="round" stroke-linejoin="round"/>
<circle cx="390" cy="530" r="56" fill="#231f20"/><circle cx="370" cy="513" r="7" fill="#ddd"/>
<polygon points="430,-60 648,-60 538,368" fill="#be1e2d"/>
<polygon points="262,232 640,590 640,622 262,250" fill="#6d6e71"/>
<polygon points="640,590 745,538 745,566 640,622" fill="#808285"/>
<polygon points="262,232 352,196 745,538 640,590" fill="#939598"/>
<ellipse cx="338" cy="242" rx="30" ry="15" fill="#3a3a3a" transform="rotate(8 338 242)"/><ellipse cx="338" cy="242" rx="17" ry="7" fill="#c8c8c8" transform="rotate(8 338 242)"/>
<ellipse cx="645" cy="522" rx="30" ry="15" fill="#3a3a3a" transform="rotate(8 645 522)"/><ellipse cx="645" cy="522" rx="17" ry="7" fill="#c8c8c8" transform="rotate(8 645 522)"/>
</g>
<g shape-rendering="crispEdges">
<rect x="464.50" y="438.80" width="272.00" height="249.00" fill="#ebf1f5"/>
<g transform="translate(464.5,439.298) scale(10.8800,0.9960)" fill="none" stroke-width="1.04">
<path stroke="#1f63a7" d="M11 183h1"/>
<path stroke="#347fb9" d="M9 57h1M13 82h1"/>
<path stroke="#3f8dc0" d="M15 82h1M11 136h1M16 183h1"/>
<path stroke="#529cc8" d="M9 66h1M16 82h1M19 82h1M15 135h1M18 236h1"/>
<path stroke="#6aacd0" d="M14 7h1M13 11h1M8 20h1M10 23h1M15 23h1M9 54h1M13 54h1M14 82h1M13 96h1M6 117h1M10 148h1M20 158h1M18 175h1M12 183h1M14 183h2M22 236h1"/>
<path stroke="#83bcd9" d="M7 3h1M16 7h1M19 7h1M14 20h2M18 20h1M22 20h1M8 23h1M20 23h1M11 24h1M13 29h1M19 35h2M17 39h1M9 48h2M18 48h1M23 48h1M8 57h1M10 60h3M14 60h2M19 60h1M23 60h1M21 63h1M13 65h1M11 66h1M15 66h1M19 66h1M8 67h1M17 80h1M18 82h1M10 86h1M9 105h1M18 120h1M20 126h1M23 126h1M7 130h1M20 131h1M23 131h1M16 135h1M15 136h1M7 141h1M21 158h2M15 219h1"/>
<path stroke="#9ac9e0" d="M6 1h1M9 1h1M24 3h1M7 7h1M12 7h1M22 7h1M12 10h1M9 12h1M10 14h1M18 14h2M21 14h1M10 20h1M13 20h1M16 20h1M9 23h1M11 23h1M13 23h2M7 29h1M12 29h1M19 29h1M23 29h1M11 34h1M7 35h1M18 35h1M24 35h1M19 39h1M24 42h1M7 48h2M15 48h1M22 48h1M22 53h1M8 54h1M21 54h1M6 58h1M21 59h1M8 60h1M9 61h1M10 63h4M17 63h3M23 63h2M15 65h1M23 65h1M13 66h1M7 67h1M20 67h1M18 70h1M14 74h1M18 79h1M21 79h1M7 80h1M24 81h1M18 101h1M8 106h1M12 109h1M9 111h1M18 115h1M10 120h1M16 120h1M24 120h1M19 123h1M24 123h1M14 126h2M17 135h1M9 136h1M19 136h1M9 138h1M13 141h1M7 148h1M9 148h1M21 148h1M19 158h1M23 158h2M9 175h1M13 176h1M13 183h1M3 188h1M14 196h1M24 196h1M9 202h1M22 202h1M8 203h1M9 208h1M9 219h2M15 236h2"/>
<path stroke="#aed3e6" d="M8 1h1M13 1h1M9 2h1M16 3h1M8 4h1M18 5h1M8 7h4M13 7h1M15 7h1M24 7h1M18 9h1M12 11h1M18 11h1M11 14h1M22 14h1M7 20h1M9 20h1M11 20h1M21 20h1M7 21h1M12 23h1M22 23h2M9 24h1M15 25h1M12 26h1M2 27h1M9 29h1M18 29h1M7 30h1M11 31h1M22 33h1M0 34h1M8 34h1M20 34h1M8 35h1M13 35h2M16 35h1M21 35h1M20 36h1M18 39h1M11 48h1M14 48h1M9 49h1M11 49h1M11 52h1M13 52h1M12 53h2M19 53h1M10 54h1M14 54h1M16 54h1M19 54h1M22 54h2M9 58h1M12 58h1M22 58h1M24 60h1M10 61h1M14 63h1M7 65h1M12 65h1M20 65h1M7 66h1M10 66h1M14 66h1M16 66h1M20 66h1M23 66h1M15 67h1M17 67h1M23 67h1M21 69h1M19 70h1M21 74h1M1 75h1M17 75h1M19 76h1M4 78h1M10 78h1M23 78h1M1 79h1M10 79h1M19 79h1M8 80h1M14 80h1M24 80h1M9 84h1M8 87h1M11 87h1M16 87h1M14 92h1M15 93h1M8 95h2M16 95h1M7 96h2M16 97h1M19 99h1M8 100h1M10 106h1M20 106h1M24 106h1M10 109h1M11 110h1M14 110h1M6 111h1M8 111h1M12 117h1M24 119h1M0 120h1M9 120h1M15 120h1M17 120h1M22 120h1M7 123h1M15 123h1M10 124h1M14 124h1M20 124h1M9 126h1M17 126h1M8 136h1M20 136h1M20 137h1M10 138h1M17 138h1M11 141h1M15 141h1M19 141h1M10 144h1M1 147h1M19 148h1M24 148h1M14 151h1M9 155h1M9 160h1M7 163h1M18 163h1M24 163h1M1 167h1M20 173h1M7 175h1M13 175h2M21 177h1M24 180h1M1 192h1M21 195h1M9 196h1M9 199h1M15 199h1M20 199h2M6 200h1M10 202h1M14 202h2M17 202h1M19 202h1M16 203h1M20 203h1M10 208h1M7 213h1M12 213h1M11 219h1M9 227h1M11 227h1M1 232h1M17 236h1M19 236h2"/>
<path stroke="#c1ddec" d="M0 0h1M12 1h1M21 1h1M20 2h1M6 3h1M8 3h1M12 3h1M14 3h1M18 3h1M2 4h1M9 4h1M16 6h1M18 6h1M20 7h2M9 8h2M22 8h1M8 10h2M13 10h1M20 10h1M7 11h1M10 11h1M15 11h1M17 11h1M14 12h1M17 12h1M3 14h1M7 14h3M14 14h3M20 14h1M23 14h1M0 16h1M22 19h1M12 20h1M17 20h1M20 20h1M23 20h2M19 22h1M19 23h1M24 23h1M16 24h1M18 24h1M23 24h1M8 25h1M17 25h1M17 26h2M21 26h1M3 29h1M8 29h1M14 29h1M16 29h1M21 30h2M16 32h1M17 33h1M9 34h2M12 34h1M17 34h1M19 34h1M22 34h1M2 35h1M11 35h2M17 35h1M24 38h1M7 39h1M6 42h1M9 42h1M14 42h4M19 42h1M21 43h1M4 46h1M12 46h1M19 47h1M21 47h1M23 47h1M12 48h1M16 48h2M20 48h1M0 49h1M14 49h1M19 49h1M21 49h1M0 50h1M9 51h1M11 51h1M19 51h1M10 52h1M21 52h1M10 53h2M14 53h1M17 53h1M21 53h1M7 54h1M15 54h1M17 54h2M20 54h1M23 56h1M16 57h1M22 57h1M1 58h1M10 58h1M14 58h1M16 58h1M7 60h1M13 60h1M20 60h1M22 60h1M8 61h1M11 61h1M16 61h1M6 63h1M16 63h1M22 63h1M8 65h1M14 65h1M16 65h1M18 65h2M21 65h1M12 66h1M17 66h1M24 66h1M12 67h3M19 67h1M22 67h1M16 68h1M14 69h1M21 70h1M7 73h1M12 73h2M15 73h1M22 73h1M6 74h1M8 74h1M10 74h1M13 74h1M24 74h1M15 75h1M20 76h1M7 77h1M12 77h1M14 77h1M22 77h1M7 78h1M11 78h1M16 78h1M8 79h2M11 79h2M17 79h1M22 79h1M21 80h1M9 81h1M14 81h1M17 81h1M17 82h1M14 84h1M17 84h1M6 85h1M8 85h1M11 85h1M21 85h1M11 86h1M19 86h1M23 86h1M0 87h1M17 87h1M20 87h1M24 87h1M2 89h1M12 90h1M6 91h1M9 91h1M12 91h1M16 91h1M18 91h1M24 91h1M20 92h1M10 94h1M24 94h1M6 95h2M15 95h1M18 95h1M6 96h1M12 96h1M24 97h1M3 98h1M19 98h1M13 99h1M23 99h1M8 101h1M4 102h1M8 102h1M20 102h1M4 103h1M13 105h1M16 105h1M18 105h1M20 105h1M22 105h1M11 106h1M14 106h1M10 108h1M3 110h1M19 110h1M21 110h1M23 110h2M7 111h1M0 112h3M8 112h2M21 112h1M19 114h1M0 115h1M14 117h1M16 119h1M13 120h2M23 120h1M8 121h1M19 121h1M14 122h1M0 123h1M0 124h1M7 124h1M11 124h1M19 124h1M6 126h1M11 126h2M16 126h1M21 126h1M24 126h1M24 130h1M22 131h1M24 131h1M23 132h1M20 135h1M6 136h2M10 136h1M12 136h1M14 136h1M21 136h1M12 138h1M14 138h1M18 138h1M21 138h1M8 140h1M10 140h1M14 140h2M23 140h1M10 141h1M16 141h2M3 142h1M13 143h2M16 143h1M10 145h1M19 145h1M24 145h1M2 146h1M4 147h1M6 148h1M8 148h1M17 148h1M23 148h1M1 149h1M8 151h3M11 152h1M14 152h1M3 155h2M7 155h1M9 157h1M11 157h1M1 159h1M9 159h1M13 160h1M1 161h1M12 161h1M12 163h1M19 163h1M22 163h1M7 166h1M0 167h1M22 167h1M3 172h1M12 173h1M4 174h1M15 175h1M19 175h1M24 176h1M6 177h1M9 177h2M14 180h1M4 181h1M6 183h1M18 183h2M21 186h1M13 190h1M24 190h1M20 191h1M18 192h1M1 194h2M12 194h1M10 196h1M16 196h1M1 197h1M8 199h1M10 199h1M24 199h1M12 200h1M19 200h1M7 202h1M11 202h1M20 202h1M24 202h1M22 203h1M16 204h1M2 218h1M8 219h1M16 219h1M10 220h1M1 225h1M12 228h1M9 232h1M20 240h1M2 248h1M4 248h1M3 249h1"/>
<path stroke="#d3e6f0" d="M5 1h1M10 1h1M14 1h2M18 1h1M20 1h1M24 1h1M1 2h1M12 2h1M14 2h1M16 2h1M1 3h1M11 3h1M13 3h1M17 3h1M20 3h1M3 4h2M14 4h1M16 4h1M23 4h1M8 5h4M9 6h1M13 6h1M15 6h1M17 6h1M0 7h1M17 7h1M23 7h1M11 8h1M13 8h1M18 8h1M21 9h1M11 10h1M15 10h1M18 10h2M1 11h2M9 11h1M7 12h1M10 12h1M12 12h2M16 13h1M6 14h1M12 14h1M17 14h1M24 14h1M0 15h1M11 16h2M18 17h1M13 18h1M24 18h1M4 19h1M1 20h1M19 20h1M9 21h1M14 21h1M22 21h1M17 22h1M7 23h1M0 24h1M12 24h1M21 24h1M24 24h1M10 25h1M13 25h1M16 25h1M18 25h2M9 26h2M1 27h1M4 27h1M11 28h2M14 28h1M0 29h1M11 29h1M21 29h1M24 29h1M4 30h1M8 30h1M19 30h1M24 30h1M10 31h1M8 32h1M15 32h1M8 33h1M11 33h2M24 33h1M7 34h1M13 34h2M16 34h1M18 34h1M23 34h1M9 35h2M15 35h1M6 36h1M10 36h1M23 36h1M16 37h1M11 39h2M9 41h1M22 41h1M8 42h1M11 42h1M21 42h2M3 43h2M23 43h2M8 46h1M19 46h1M23 46h1M1 47h1M22 47h1M24 47h1M13 48h1M19 48h1M24 48h1M20 49h1M1 50h1M6 50h2M9 50h1M22 50h1M12 51h3M17 51h1M20 51h1M24 51h1M15 52h1M22 52h1M20 53h1M23 53h2M2 54h1M13 55h1M19 55h3M24 56h1M7 57h1M10 57h3M2 58h1M8 58h1M13 58h1M19 58h1M21 58h1M8 59h1M22 59h1M24 59h1M9 60h1M21 60h1M0 61h2M12 61h3M6 62h1M17 62h1M22 62h1M9 63h1M0 65h2M9 65h3M22 65h1M24 65h1M8 66h1M22 66h1M2 67h1M6 67h1M9 67h1M11 67h1M18 67h1M24 67h1M8 69h1M11 69h1M13 69h1M15 69h1M18 69h1M22 69h1M24 69h1M1 70h1M6 70h1M12 71h1M12 72h1M14 72h1M11 73h1M14 73h1M16 73h1M3 74h1M9 74h1M11 74h2M17 74h4M22 74h2M2 75h1M12 75h1M18 75h1M15 76h1M21 76h1M23 76h1M1 78h1M9 78h1M13 78h1M17 78h1M20 78h1M24 78h1M2 79h1M4 79h1M7 79h1M6 80h1M9 80h1M12 80h2M15 80h1M22 80h2M2 81h1M7 81h1M15 81h1M18 81h1M21 81h2M12 82h1M1 83h1M24 83h1M1 84h1M7 84h1M16 84h1M24 84h1M0 85h1M15 85h1M23 85h1M12 86h1M17 86h1M12 87h1M18 87h1M21 88h1M10 90h1M18 90h1M21 90h1M24 90h1M10 91h1M20 91h1M22 91h1M11 92h1M2 93h1M14 93h1M19 93h1M12 94h2M16 94h3M10 95h2M13 95h1M19 95h1M21 95h2M0 96h2M4 96h1M9 96h1M24 96h1M0 97h1M4 97h1M7 97h1M14 97h1M17 97h1M23 97h1M21 98h2M0 99h1M12 99h1M14 100h1M1 101h1M9 101h1M16 101h1M21 101h2M24 103h1M23 104h1M2 105h1M8 105h1M11 105h1M19 105h1M21 105h1M24 105h1M9 106h1M12 106h2M16 106h1M19 106h1M21 106h1M23 107h1M9 108h1M11 108h3M16 108h1M7 109h2M15 109h1M17 109h1M24 109h1M9 110h1M15 110h1M20 110h1M3 111h1M19 111h1M6 112h1M22 112h1M23 113h1M10 115h1M16 115h1M19 115h1M24 115h1M4 116h1M0 117h1M18 117h1M22 118h1M2 119h3M7 120h1M11 120h1M19 120h1M11 121h2M14 121h1M7 122h1M8 123h1M10 123h1M13 123h2M17 123h1M22 123h1M1 124h1M15 124h1M17 124h1M24 124h1M20 125h1M7 126h1M13 126h1M18 126h2M4 128h1M10 128h1M0 129h1M17 129h1M24 129h1M12 130h4M17 131h1M21 131h1M23 134h1M23 135h1M18 136h1M22 136h1M24 136h1M16 138h1M19 138h2M22 138h1M11 139h2M24 139h1M17 140h1M9 141h1M12 141h1M24 141h1M11 143h1M18 143h1M9 144h1M14 144h1M10 146h1M16 146h1M0 147h1M6 147h1M12 147h1M15 147h1M20 147h1M12 148h1M14 148h1M16 148h1M0 149h1M4 149h1M20 150h1M6 151h1M11 151h1M16 151h2M1 152h2M8 152h2M21 152h1M24 152h1M0 153h1M0 155h1M8 155h1M0 156h1M9 156h1M15 156h1M18 156h1M22 156h1M0 157h1M13 158h1M2 160h1M18 160h1M4 161h1M11 161h1M13 161h1M21 161h2M24 161h1M9 162h1M18 162h1M20 162h1M3 163h1M10 163h1M13 163h1M16 163h2M20 163h1M1 164h2M18 164h1M10 166h1M2 167h1M4 167h1M11 167h1M5 175h1M10 175h2M20 175h5M11 177h1M14 177h2M24 177h1M18 180h1M19 181h1M10 183h1M23 183h1M22 185h1M2 188h1M16 188h1M1 189h1M23 189h1M8 190h2M11 190h1M15 190h1M4 191h1M23 191h1M0 192h1M15 192h1M17 192h1M21 192h2M6 194h1M17 194h1M21 194h1M6 196h1M15 196h1M18 197h1M2 198h1M7 199h1M3 201h1M6 202h1M8 202h1M13 202h1M16 202h1M18 202h1M9 203h1M11 203h1M13 203h1M15 203h1M19 203h1M2 204h1M4 204h1M8 204h2M15 204h1M21 204h3M3 205h1M13 205h1M0 206h1M2 207h1M4 207h1M11 208h1M19 209h1M15 210h1M16 212h1M24 212h1M8 213h1M10 213h1M13 213h1M18 213h1M20 213h1M22 213h1M24 213h1M2 214h1M4 214h1M0 215h1M13 218h1M14 219h1M0 220h1M7 220h1M13 220h1M23 221h2M1 223h1M12 224h2M4 226h1M16 226h1M7 227h1M15 227h1M21 227h2M24 227h1M1 228h3M10 228h1M20 228h1M21 236h1M14 237h1M4 238h1M16 239h1M0 240h1M14 240h1M24 240h1M1 241h1M0 242h1M1 244h1M9 244h1M4 245h1M21 247h1M4 249h1M24 249h1"/>
<path stroke="#dfecf3" d="M7 1h1M11 1h1M17 1h1M22 1h2M3 2h1M6 2h1M10 2h1M19 2h1M2 3h1M9 3h2M15 3h1M19 3h1M19 4h2M22 4h1M6 5h2M13 5h2M20 5h1M5 6h3M10 6h2M19 6h1M21 6h1M6 7h1M18 7h1M0 8h1M3 8h2M6 8h1M8 8h1M14 8h1M16 8h1M20 8h1M24 8h1M7 9h1M11 9h1M14 9h3M24 9h1M5 10h3M10 10h1M21 10h1M0 11h1M4 11h1M8 11h1M14 11h1M8 12h1M21 12h1M24 12h1M20 13h1M5 14h1M13 14h1M1 15h1M3 16h1M8 16h1M15 16h1M7 17h1M9 17h1M14 17h1M19 17h1M23 17h2M1 18h1M6 18h1M21 18h1M6 19h1M6 20h1M3 21h1M11 21h1M13 21h1M17 21h1M20 21h1M24 21h1M4 22h1M7 22h2M16 22h1M20 22h1M24 22h1M16 23h3M21 23h1M4 24h1M7 24h2M14 24h2M20 24h1M7 25h1M20 25h1M24 25h1M4 26h1M8 26h1M11 26h1M3 27h1M16 27h1M18 27h3M22 27h1M24 27h1M1 28h1M6 28h1M8 28h1M17 28h1M4 29h1M6 29h1M10 29h1M15 29h1M17 29h1M20 29h1M22 29h1M0 30h1M3 30h1M11 30h1M15 30h1M0 31h1M3 31h1M5 31h1M13 31h1M16 31h2M19 31h1M9 32h1M12 32h3M18 32h1M20 32h1M4 33h1M7 33h1M10 33h1M18 33h3M1 34h1M3 34h2M24 34h1M1 35h1M4 35h1M6 35h1M22 35h2M8 36h1M17 36h2M12 37h2M17 37h1M23 37h1M2 38h1M10 38h1M14 38h1M16 38h1M18 38h1M23 38h1M2 39h1M8 39h1M10 39h1M13 39h1M20 39h2M15 40h2M5 41h1M20 41h1M1 42h2M10 42h1M18 42h1M6 43h2M10 43h2M13 43h1M15 44h1M18 44h1M22 45h1M2 46h1M6 46h1M9 46h1M17 46h2M22 46h1M24 46h1M4 47h1M7 47h2M10 47h1M20 47h1M5 48h2M21 48h1M1 49h1M7 49h1M10 49h1M12 49h2M15 49h1M17 49h2M22 49h1M24 49h1M3 50h1M14 50h1M16 50h1M18 50h1M20 50h1M24 50h1M2 51h1M6 51h3M15 51h2M22 51h1M4 52h1M8 52h2M12 52h1M16 52h1M19 52h1M5 53h1M18 53h1M0 54h1M11 54h1M24 54h1M5 55h1M17 55h1M1 57h1M3 57h2M17 57h1M19 57h3M23 57h1M0 58h1M3 58h2M11 58h1M15 58h1M17 58h2M23 58h2M4 59h1M12 59h1M18 59h1M0 60h2M3 60h2M6 60h1M16 60h3M6 61h2M15 61h1M19 61h2M23 61h2M0 62h1M5 62h1M20 62h1M2 63h2M7 63h2M15 63h1M20 63h1M5 64h1M2 65h2M17 65h1M6 66h1M18 66h1M1 67h1M5 67h1M10 67h1M1 68h1M4 68h1M15 68h1M6 69h2M9 69h2M12 69h1M16 69h1M19 69h1M23 69h1M3 70h1M7 70h2M20 70h1M23 70h1M2 71h2M15 71h1M19 71h1M5 72h1M10 72h2M18 72h1M5 73h1M8 73h2M17 73h2M23 73h1M1 74h1M7 74h1M15 74h2M6 75h1M9 75h1M11 75h1M13 76h1M17 76h2M22 76h1M8 77h1M11 77h1M19 77h2M24 77h1M3 78h1M5 78h2M12 78h1M22 78h1M23 79h1M2 80h1M10 80h1M16 80h1M10 81h1M12 81h2M16 81h1M0 82h1M11 82h1M12 83h1M15 83h1M18 83h1M6 84h1M10 84h1M15 84h1M13 85h1M16 85h1M24 85h1M2 86h1M7 86h1M9 86h1M18 86h1M24 86h1M1 87h2M4 87h1M6 87h2M8 88h1M17 88h1M1 90h1M4 90h1M15 90h3M4 91h1M7 91h1M12 92h1M16 92h2M19 92h1M21 92h1M4 93h1M17 93h1M21 93h2M8 94h1M1 95h2M4 95h1M12 95h1M24 95h1M5 96h1M10 96h2M20 96h1M23 96h1M8 97h1M11 97h3M22 97h1M0 98h1M20 98h1M23 98h1M8 99h2M20 99h1M0 100h1M3 100h1M11 100h1M14 101h2M19 101h1M1 102h1M3 102h1M19 102h1M24 102h1M7 103h1M13 103h1M22 103h1M4 104h1M11 104h1M16 104h1M21 104h1M1 105h1M6 105h1M12 105h1M17 105h1M5 106h1M7 106h1M15 106h1M23 106h1M11 107h1M15 107h3M22 107h1M7 108h1M19 108h2M1 109h2M9 109h1M11 109h1M18 109h1M20 109h2M23 109h1M0 110h1M7 110h1M10 110h1M12 110h2M0 111h1M14 111h1M17 111h1M20 111h1M3 112h1M5 112h1M7 112h1M10 112h1M12 112h1M14 112h1M16 112h1M18 112h1M23 112h2M1 113h1M6 113h1M8 113h1M13 113h1M17 113h1M5 114h1M13 114h1M16 114h2M21 114h1M2 115h1M8 115h2M11 115h1M15 115h1M22 115h1M5 116h1M13 116h1M2 117h1M5 117h1M9 117h1M19 117h1M22 117h1M1 118h1M3 118h1M18 118h1M24 118h1M12 120h1M20 120h2M0 121h1M2 121h1M4 121h1M7 121h1M10 121h1M15 121h1M17 121h1M23 121h1M1 122h1M8 122h1M12 122h1M1 123h2M4 123h1M11 123h1M18 123h1M4 124h1M8 124h1M13 124h1M18 124h1M22 124h2M0 125h1M4 125h1M10 125h1M13 125h1M19 125h1M22 125h1M8 126h1M22 126h1M9 128h1M4 129h1M18 129h1M23 129h1M8 130h2M11 130h1M18 130h1M21 130h3M1 131h1M3 131h1M16 131h1M4 132h1M13 133h1M21 133h1M18 134h1M21 134h1M24 134h1M11 135h1M13 135h2M18 135h1M21 135h1M16 136h1M23 136h1M1 137h1M4 137h1M8 138h1M11 138h1M15 138h1M23 138h2M8 139h1M10 139h1M15 139h2M18 139h1M1 140h2M4 140h1M13 140h1M16 140h1M19 140h2M22 140h1M8 141h1M18 141h1M20 141h2M23 141h1M12 142h1M18 142h2M21 142h1M1 143h1M3 143h1M8 143h1M12 143h1M1 144h1M6 144h1M16 144h1M18 144h1M23 144h2M1 145h1M8 145h1M12 145h1M15 145h1M22 145h2M1 146h1M4 146h2M18 146h1M2 147h2M10 147h1M14 147h1M21 147h1M1 148h1M11 148h1M13 148h1M15 148h1M20 148h1M19 149h1M1 150h1M12 150h1M23 150h2M7 151h1M12 151h1M18 151h1M20 151h2M23 151h1M0 152h1M18 152h2M23 152h1M1 155h1M10 155h1M13 155h1M24 155h1M4 156h1M10 156h1M12 156h1M20 156h1M1 157h1M13 157h1M16 157h1M9 158h1M12 159h1M16 159h1M3 160h1M6 160h1M12 160h1M15 160h1M3 161h1M6 161h1M9 161h1M15 161h1M18 161h1M23 161h1M1 162h2M4 162h1M11 162h1M13 162h1M15 162h1M4 163h1M15 163h1M21 163h1M6 164h1M23 164h1M0 165h1M6 165h1M13 165h1M9 166h1M12 167h1M14 167h1M17 167h1M19 167h3M23 167h1M10 170h2M18 170h1M21 170h2M1 171h1M11 171h1M1 172h1M8 172h1M20 172h2M23 172h1M14 173h3M18 173h1M21 173h1M17 174h1M16 175h2M0 176h1M2 176h1M8 176h1M12 176h1M14 176h1M16 176h2M19 176h1M22 176h1M12 177h1M23 177h1M13 179h1M22 180h1M2 181h1M6 181h1M14 181h1M18 181h1M24 181h1M18 182h1M4 183h1M17 183h1M20 183h1M24 183h1M1 184h1M3 184h1M12 184h1M0 185h1M24 187h1M0 188h1M20 188h1M3 189h1M21 189h1M10 190h1M14 190h1M23 190h1M0 191h1M3 191h1M17 191h3M19 192h2M16 193h1M18 193h1M0 194h1M4 194h1M8 194h3M13 194h2M18 194h1M22 194h2M9 195h1M15 195h1M20 195h1M0 196h1M17 196h1M19 196h1M23 196h1M2 197h1M4 197h1M0 198h1M15 198h1M5 199h1M12 199h1M16 199h2M3 200h2M20 200h1M22 200h1M0 201h1M13 201h1M4 202h1M12 203h1M14 203h1M21 203h1M24 203h1M0 204h1M10 204h5M18 204h1M4 205h1M19 205h1M0 207h1M12 208h1M23 208h1M1 209h1M4 209h1M22 209h2M0 210h2M24 210h1M1 211h1M15 212h1M9 213h1M11 213h1M14 213h1M16 213h2M19 213h1M0 214h1M24 214h1M17 215h1M22 215h1M1 216h1M4 217h1M14 217h1M0 218h1M18 218h1M4 219h1M12 219h2M20 219h1M24 219h1M14 221h2M0 223h1M3 223h2M23 223h1M11 224h1M14 224h1M19 224h1M21 225h1M0 226h1M0 227h1M2 227h1M10 227h1M12 227h1M16 227h3M20 227h1M9 228h1M13 228h2M18 228h1M24 228h1M1 229h1M0 231h2M10 232h2M15 232h1M19 232h1M3 234h1M4 236h1M3 237h1M1 238h1M19 239h2M22 239h1M1 240h1M11 240h1M13 240h1M15 240h1M21 240h1M23 240h1M4 241h1M13 243h1M15 243h1M6 244h1M0 247h1M4 247h1M22 248h1M2 249h1"/>
<path stroke="#f7f7f7" d="M2 0h3M7 0h1M12 0h1M14 0h1M22 0h1M1 1h1M4 1h1M2 2h1M7 2h2M22 2h2M5 3h1M0 4h2M10 4h1M12 4h1M18 4h1M21 4h1M24 4h1M1 5h4M15 5h1M19 5h1M22 5h3M12 6h1M14 6h1M20 6h1M2 7h1M4 7h1M7 8h1M4 9h1M6 9h1M9 9h1M17 9h1M20 9h1M2 10h1M17 10h1M22 10h1M3 11h1M5 11h1M0 12h1M3 12h1M5 12h1M20 12h1M1 13h1M5 13h2M8 13h2M19 13h1M4 14h1M11 15h1M16 15h2M23 15h2M1 16h2M7 16h1M14 16h1M20 16h1M0 17h1M2 17h1M5 17h2M17 17h1M21 17h1M0 18h1M4 18h1M10 18h2M17 18h1M1 19h1M9 19h1M12 19h1M4 20h2M4 21h1M8 21h1M12 21h1M15 21h1M23 21h1M0 22h2M5 22h1M4 23h2M2 24h2M5 24h2M17 24h1M22 24h1M0 25h1M6 25h1M9 25h1M14 26h1M20 26h1M0 27h1M5 27h1M7 27h1M9 27h1M14 27h1M21 27h1M23 27h1M5 28h1M15 28h2M22 28h1M2 29h1M10 30h1M14 30h1M20 30h1M1 31h1M4 31h1M7 31h1M15 31h1M21 31h4M2 32h1M5 32h1M24 32h1M1 33h3M5 33h2M14 33h1M16 33h1M6 34h1M0 35h1M4 36h2M9 36h1M18 37h1M21 37h1M1 38h1M11 38h1M13 38h1M17 38h1M19 38h1M21 38h1M1 39h1M5 39h1M15 39h2M0 40h2M7 40h1M9 40h1M11 40h1M19 40h1M24 40h1M1 41h1M3 41h1M7 41h1M13 41h1M18 41h1M24 41h1M0 42h1M4 42h1M7 42h1M20 42h1M0 43h1M14 43h1M17 43h2M5 44h1M7 44h1M16 44h1M23 44h1M0 45h1M3 45h2M6 45h1M8 45h1M0 46h2M11 46h1M13 46h1M0 47h1M2 47h1M3 48h1M3 49h3M23 49h1M17 50h1M4 51h1M10 51h1M21 51h1M1 52h1M7 52h1M20 52h1M24 52h1M3 53h2M6 53h1M1 54h1M3 54h3M0 55h1M3 55h1M10 55h1M18 55h1M23 55h2M0 56h2M3 56h1M8 56h1M11 56h1M17 56h1M19 56h1M21 56h2M13 57h1M24 57h1M7 58h1M0 59h1M3 59h1M19 59h2M5 61h1M17 61h1M21 61h1M1 62h1M15 62h1M24 62h1M12 64h2M15 64h2M19 64h2M1 66h2M3 67h1M21 67h1M0 68h1M3 68h1M10 68h1M17 68h1M19 68h1M21 68h1M23 68h2M5 70h1M24 70h1M5 71h1M7 71h1M10 71h1M17 71h1M22 71h1M0 72h3M4 72h1M7 72h1M9 72h1M17 72h1M22 72h2M6 73h1M19 73h1M2 74h1M5 74h1M10 75h1M16 75h1M1 76h1M16 76h1M1 77h1M3 77h1M15 77h1M17 77h1M23 77h1M3 79h1M5 79h1M13 79h1M1 80h1M5 80h1M11 80h1M3 81h2M1 82h4M7 82h4M4 83h1M6 83h1M13 83h1M16 83h1M19 83h1M2 84h1M4 84h1M18 84h1M1 85h1M3 85h1M5 85h1M10 85h1M19 85h1M3 86h1M8 86h1M13 86h2M13 87h2M5 88h1M7 88h1M12 88h1M14 88h1M23 88h2M6 89h1M8 89h1M5 90h1M7 90h1M13 90h2M19 90h1M2 91h2M15 91h1M5 92h1M9 92h1M0 93h1M10 93h1M12 93h1M20 93h1M24 93h1M3 94h2M11 94h1M20 94h2M23 94h1M14 95h1M3 96h1M21 96h1M5 97h2M9 97h1M1 98h1M5 98h3M11 98h1M15 98h1M18 99h1M1 100h1M4 100h1M9 100h1M17 100h1M21 100h1M0 101h1M2 101h3M7 101h1M10 101h1M17 101h1M2 102h1M16 102h1M18 102h1M21 102h1M12 103h1M16 103h1M18 103h3M3 104h1M7 104h1M13 104h1M19 104h1M22 104h1M5 105h1M0 106h1M2 106h1M4 106h1M0 107h1M2 107h1M4 107h1M8 107h2M20 107h1M1 108h1M8 108h1M17 108h1M21 108h2M3 109h1M5 109h1M13 109h1M2 110h1M17 110h1M15 111h1M22 111h1M13 112h1M15 112h1M17 112h1M20 112h1M0 113h1M3 113h1M9 113h1M11 113h2M19 113h1M24 113h1M8 114h1M11 114h2M14 114h1M18 114h1M23 114h1M6 115h2M20 115h1M0 116h1M2 116h1M7 116h1M10 116h2M22 116h2M4 117h1M8 117h1M13 117h1M7 118h1M10 118h2M13 118h2M19 118h1M23 118h1M1 119h1M6 119h1M10 119h1M15 119h1M17 119h1M3 120h1M6 120h1M8 120h1M1 121h1M3 121h1M6 121h1M16 121h1M18 121h1M24 121h1M0 122h1M5 122h1M9 122h1M11 122h1M15 122h2M3 123h1M12 123h1M20 123h1M23 123h1M9 124h1M7 125h1M18 125h1M21 125h1M23 125h2M5 126h1M4 127h1M12 127h2M21 127h1M1 128h1M3 128h1M6 128h3M14 128h1M17 128h1M19 128h1M21 128h1M23 128h1M6 129h2M9 129h1M12 129h1M20 129h3M4 130h3M16 130h1M19 130h1M13 131h1M2 132h1M7 132h1M9 132h1M12 132h1M14 132h2M20 132h1M22 132h1M24 132h1M1 133h2M6 133h2M12 133h1M14 133h1M20 133h1M23 133h2M0 134h1M16 134h1M4 135h1M7 135h1M9 135h1M22 135h1M24 135h1M1 136h1M17 136h1M0 137h1M2 137h1M5 137h1M12 137h2M16 137h1M19 137h1M1 138h1M3 138h1M5 139h1M9 139h1M23 139h1M3 140h1M6 140h1M12 140h1M18 140h1M1 141h3M5 141h1M22 141h1M5 142h1M9 142h1M13 142h1M15 142h1M17 142h1M20 142h1M0 143h1M17 143h1M0 144h1M2 144h1M5 144h1M7 144h2M20 144h1M22 144h1M0 145h1M3 145h1M5 145h1M14 145h1M16 145h1M20 145h2M0 146h1M6 146h1M8 146h1M12 146h1M14 146h2M17 146h1M5 147h1M7 147h2M16 147h1M19 147h1M22 147h3M11 149h1M15 149h2M22 149h1M3 150h1M5 150h1M7 150h1M13 150h1M21 150h1M1 151h1M3 151h1M13 151h1M12 152h2M16 152h1M2 153h2M16 153h1M21 153h1M23 153h1M0 154h2M8 154h1M13 154h1M15 154h1M24 154h1M2 155h1M5 155h2M14 155h1M16 155h1M19 155h1M23 155h1M2 156h1M6 156h1M13 156h1M19 156h1M24 156h1M3 157h5M10 157h1M14 157h1M20 157h2M0 158h1M4 158h3M10 158h1M17 158h1M0 159h1M2 159h1M7 159h1M11 159h1M14 159h1M23 159h1M5 160h1M10 160h2M17 160h1M0 161h1M5 161h1M8 161h1M10 161h1M14 161h1M20 161h1M8 162h1M5 163h1M9 163h1M4 164h2M9 164h2M16 164h1M20 164h1M3 165h1M7 165h2M14 165h1M18 165h1M21 165h2M0 166h1M3 166h1M6 166h1M11 166h1M20 166h1M22 166h2M7 167h1M15 167h1M1 168h2M9 168h1M20 168h1M0 169h1M14 169h1M21 169h2M2 170h1M5 170h1M8 170h1M12 170h1M16 170h1M23 170h1M2 171h1M4 171h1M9 171h1M13 171h2M6 172h1M10 172h1M18 172h1M24 172h1M1 173h2M4 173h5M13 173h1M24 173h1M2 174h1M16 174h1M21 174h2M1 175h1M3 175h2M6 175h1M1 176h1M4 176h1M6 176h2M20 176h1M23 176h1M3 177h1M8 177h1M22 177h1M4 178h2M10 178h1M19 178h1M23 178h1M2 179h5M12 179h1M15 179h3M20 179h1M22 179h1M3 180h2M9 180h1M15 180h1M19 180h1M5 181h1M9 181h1M12 181h1M15 181h1M17 181h1M21 181h1M23 181h1M0 182h1M17 182h1M5 183h1M4 184h2M7 184h1M9 184h2M20 184h3M2 185h1M4 185h1M7 185h1M13 185h1M18 185h1M20 185h2M24 185h1M1 186h2M4 186h2M15 186h1M19 186h1M22 186h2M0 187h1M5 187h1M7 187h1M4 188h2M0 189h1M2 189h1M9 189h1M16 189h1M18 189h1M3 190h1M7 190h1M19 190h2M1 191h2M12 191h1M24 191h1M3 192h1M5 192h1M11 192h1M13 192h1M24 192h1M2 193h2M12 193h1M14 193h1M17 193h1M19 194h2M24 194h1M7 195h2M12 195h1M17 195h1M19 195h1M22 195h2M5 196h1M7 196h1M12 196h1M18 196h1M21 196h2M5 197h1M13 197h1M20 197h1M22 197h1M19 198h1M2 199h1M6 199h1M14 199h1M18 199h1M7 200h2M15 200h1M18 200h1M21 200h1M1 201h1M12 201h1M17 201h1M5 202h1M12 202h1M2 203h1M6 203h1M10 203h1M23 203h1M5 204h2M17 204h1M0 205h1M9 205h1M17 205h1M20 205h1M2 206h1M14 206h1M17 206h1M19 206h1M22 206h1M13 207h1M0 208h1M2 208h1M16 208h1M20 208h1M24 208h1M5 209h1M8 209h1M15 209h1M2 210h2M0 211h1M5 211h1M7 211h1M0 212h1M3 212h1M7 212h1M9 212h1M11 212h1M5 213h1M15 213h1M21 213h1M11 214h1M13 214h1M15 214h1M17 214h1M20 214h1M2 215h1M5 215h1M14 215h2M20 215h1M23 215h1M0 216h1M4 216h1M12 216h1M16 216h1M23 216h1M2 217h1M15 217h1M20 217h1M22 217h1M19 218h1M0 219h1M2 219h1M18 219h1M23 219h1M16 220h2M23 220h2M3 221h3M7 221h1M10 221h2M16 221h1M2 222h1M2 223h1M5 223h1M15 223h1M20 223h1M22 223h1M5 224h1M15 224h1M18 224h1M20 224h2M3 225h2M12 225h1M14 225h1M17 225h1M19 225h2M22 225h1M19 226h1M23 226h1M13 227h1M4 228h1M17 228h1M23 228h1M0 229h1M2 229h4M11 229h3M16 229h1M18 229h4M5 230h1M13 230h1M18 230h1M21 230h1M20 231h1M4 232h1M12 232h1M22 232h1M1 233h1M3 233h1M5 233h1M8 233h1M10 233h1M1 234h2M15 234h1M18 234h2M24 234h1M4 235h1M19 235h1M24 235h1M3 236h1M5 236h2M24 236h1M4 237h1M18 237h1M2 238h1M18 238h1M20 238h1M22 238h1M0 239h1M4 239h1M12 239h2M24 239h1M3 240h1M8 240h3M18 240h2M22 240h1M5 241h1M14 241h1M17 241h2M22 241h1M3 242h1M5 242h1M14 242h1M18 242h1M1 243h1M3 243h1M5 243h1M11 243h1M16 243h1M20 243h1M4 244h1M8 244h1M19 244h1M13 245h1M15 245h1M18 245h1M20 245h1M22 245h1M2 246h1M5 246h1M18 246h1M24 246h1M3 247h1M5 247h1M20 247h1M1 248h1M20 248h1M23 248h1M1 249h1M5 249h1M14 249h1M23 249h1"/>
<path stroke="#f9eee8" d="M1 0h1M10 0h2M16 0h1M18 0h2M23 0h1M3 1h1M0 2h1M4 2h1M13 2h1M17 2h1M21 2h1M24 2h1M0 3h1M21 3h1M6 4h1M13 4h1M17 4h1M0 5h1M17 5h1M0 6h1M3 6h1M23 6h1M1 7h1M1 8h2M12 8h1M23 8h1M0 9h2M3 9h1M13 9h1M22 9h1M4 10h1M21 11h1M23 11h2M4 12h1M11 12h1M22 12h1M0 13h1M3 13h1M7 13h1M12 13h1M23 13h2M2 15h1M7 15h2M18 15h1M20 15h2M4 16h1M9 16h2M13 16h1M19 16h1M23 16h2M3 17h2M12 18h1M20 18h1M10 19h1M13 19h3M17 19h1M24 19h1M0 20h1M2 20h1M0 21h1M16 21h1M18 21h1M21 21h1M3 22h1M13 22h2M21 22h1M23 22h1M0 23h1M2 23h1M10 24h1M13 24h1M4 25h2M12 25h1M21 25h1M19 26h1M6 27h1M10 27h1M13 27h1M17 27h1M0 28h1M3 28h1M10 28h1M19 28h1M23 28h1M1 30h1M5 30h2M16 30h1M18 30h1M2 31h1M9 31h1M18 31h1M0 32h1M6 32h1M17 32h1M21 32h1M0 33h1M9 33h1M2 34h1M0 36h1M2 36h1M4 37h2M8 37h2M15 37h1M20 37h1M22 37h1M24 37h1M0 38h1M4 38h2M12 38h1M20 38h1M0 39h1M4 39h1M9 39h1M23 39h1M3 40h1M8 40h1M13 40h1M21 40h1M2 41h1M4 41h1M6 41h1M8 41h1M10 41h1M12 41h1M14 41h1M19 41h1M12 42h1M9 43h1M22 43h1M2 44h1M4 44h1M9 44h2M13 44h2M17 44h1M19 44h2M1 45h1M11 45h1M15 45h1M19 45h1M21 45h1M23 45h2M3 47h1M15 47h2M2 49h1M6 49h1M8 50h1M12 50h1M0 51h1M3 51h1M2 52h2M17 52h2M1 53h1M1 55h1M7 55h1M9 55h1M7 56h1M9 56h1M15 56h2M20 56h1M0 57h1M6 57h1M14 57h1M5 58h1M5 59h3M10 59h2M14 59h1M5 60h1M2 61h1M4 61h1M18 61h1M2 62h1M10 62h1M4 63h1M4 64h1M7 64h2M10 64h1M18 64h1M23 64h1M4 65h1M6 65h1M0 66h1M3 66h1M0 67h1M6 68h1M9 68h1M12 68h3M20 68h1M1 69h1M3 69h1M17 70h1M0 71h1M4 71h1M9 71h1M11 71h1M13 71h2M18 71h1M21 71h1M15 72h1M21 72h1M0 73h1M4 73h1M5 75h1M7 75h1M2 77h1M4 77h1M9 77h1M13 77h1M18 77h1M2 78h1M8 78h1M0 80h1M20 80h1M6 81h1M23 81h1M24 82h1M0 83h1M2 83h2M8 83h2M11 83h1M20 83h4M8 84h1M13 84h1M18 85h1M5 86h2M16 86h1M9 87h2M15 87h1M6 88h1M9 88h2M13 88h1M18 88h1M20 88h1M0 89h1M11 89h3M19 89h1M24 89h1M2 90h1M8 90h1M11 91h1M19 91h1M0 92h1M2 92h1M15 92h1M22 92h3M6 93h1M0 94h1M5 94h2M9 94h1M15 94h1M10 97h1M15 97h1M12 98h1M14 98h1M17 98h1M24 98h1M1 99h1M3 99h2M7 99h1M11 99h1M14 99h1M16 99h1M21 99h2M2 100h1M6 100h2M10 100h1M19 100h2M22 100h1M20 101h1M24 101h1M5 102h2M10 102h1M13 102h1M23 102h1M3 103h1M5 103h1M9 103h1M15 103h1M23 103h1M1 104h1M6 104h1M8 104h1M14 104h1M0 105h1M1 106h1M1 107h1M10 107h1M19 107h1M4 108h1M6 108h1M15 108h1M1 110h1M6 110h1M2 111h1M12 111h2M24 111h1M4 112h1M2 113h1M4 113h1M10 113h1M18 113h1M21 113h1M7 114h1M3 115h1M13 115h2M17 115h1M9 116h1M14 116h2M19 116h1M24 116h1M17 117h1M21 117h1M23 117h1M4 118h1M16 118h1M12 119h1M18 119h1M23 119h1M1 120h1M5 120h1M22 121h1M3 122h2M10 122h1M20 122h1M6 123h1M9 123h1M6 124h1M16 124h1M12 125h1M1 126h2M9 127h1M11 127h1M14 127h1M16 127h1M18 127h1M24 127h1M2 128h1M11 128h3M16 128h1M18 128h1M20 128h1M22 128h1M1 129h1M3 129h1M5 129h1M19 129h1M0 130h1M0 131h1M2 131h1M19 131h1M0 132h2M16 132h2M21 132h1M0 133h1M3 133h3M9 133h1M11 133h1M2 134h1M4 134h1M6 134h1M15 134h1M17 134h1M0 135h1M3 137h1M6 137h1M15 137h1M17 137h1M21 137h1M4 138h1M1 139h1M19 139h1M21 139h1M5 140h1M9 140h1M21 140h1M4 141h1M6 141h1M2 142h1M11 142h1M14 142h1M22 142h2M2 143h1M6 143h2M10 143h1M23 143h1M3 144h2M12 144h2M15 144h1M17 144h1M19 144h1M2 145h1M4 145h1M7 145h1M20 146h1M2 148h1M5 148h1M5 149h1M9 149h1M13 149h1M21 149h1M2 150h1M9 150h1M11 150h1M22 150h1M2 151h1M6 152h2M4 153h1M8 153h3M14 153h1M17 153h4M22 153h1M4 154h1M7 154h1M16 154h1M18 154h1M22 154h1M12 155h1M18 155h1M16 156h1M2 157h1M12 157h1M17 157h1M23 157h1M15 158h1M18 159h1M21 159h1M24 159h1M0 160h1M16 160h1M23 160h1M19 161h1M5 162h3M12 162h1M14 162h1M17 162h1M1 163h1M23 163h1M13 164h1M17 164h1M21 164h1M1 165h1M9 165h1M11 165h2M20 165h1M24 165h1M1 166h1M5 166h1M17 166h1M9 167h2M16 167h1M0 168h1M3 168h1M7 168h1M19 168h1M24 168h1M1 169h2M4 169h1M18 169h2M24 169h1M4 170h1M9 170h1M13 170h1M15 170h1M17 170h1M20 170h1M20 171h2M23 171h1M4 172h1M13 172h1M15 172h1M3 173h1M19 173h1M3 174h1M11 174h4M24 174h1M0 175h1M3 176h1M21 176h1M17 177h1M20 177h1M1 178h2M9 178h1M14 178h1M17 178h1M20 178h1M8 179h1M14 179h1M18 179h1M21 179h1M23 179h1M2 180h1M7 180h2M17 180h1M20 180h1M8 181h1M1 182h1M4 182h1M14 182h2M0 183h2M3 183h1M9 183h1M21 183h1M0 184h1M6 184h1M16 184h1M18 184h1M24 184h1M1 185h1M5 185h1M9 185h1M23 185h1M0 186h1M3 186h1M8 186h6M18 186h1M24 186h1M1 187h1M4 187h1M6 187h1M10 187h1M12 187h2M15 187h2M20 187h2M23 187h1M11 188h1M13 188h1M15 188h1M19 188h1M22 188h1M5 189h1M13 189h1M19 189h1M17 190h1M22 190h1M5 191h1M10 191h2M13 191h1M22 191h1M4 192h1M14 192h1M23 192h1M1 193h1M8 193h1M15 193h1M19 193h1M24 193h1M5 194h1M11 194h1M3 195h1M10 195h2M13 195h2M16 195h1M3 196h2M10 197h1M16 197h2M13 198h1M23 198h1M11 199h1M5 200h1M17 200h1M24 200h1M4 201h2M14 201h1M24 201h1M1 202h1M3 202h1M23 202h1M0 203h1M3 203h1M5 203h1M3 204h1M20 204h1M1 205h1M5 205h1M12 205h1M14 205h1M16 205h1M21 205h1M1 206h1M4 206h1M9 206h1M20 206h2M3 207h1M12 207h1M21 207h1M1 208h1M13 208h2M17 208h1M11 209h1M14 209h1M20 209h1M5 210h1M16 210h2M21 210h1M19 211h1M22 211h1M17 212h1M23 212h1M1 213h2M5 214h1M14 214h1M18 214h2M21 214h2M1 215h1M4 215h1M12 215h2M16 215h1M18 215h2M2 216h1M14 216h1M24 216h1M3 217h1M9 217h1M21 217h1M5 218h1M12 218h1M23 218h1M1 219h1M21 219h1M4 220h1M9 220h1M12 220h1M18 220h2M2 221h1M13 221h1M19 221h4M3 222h1M11 222h1M13 222h1M18 222h1M22 222h2M11 223h1M2 224h1M6 224h1M10 224h1M5 225h1M18 225h1M2 226h2M5 226h1M9 226h2M18 226h1M21 226h2M16 228h1M21 228h1M24 229h1M0 230h1M2 230h1M4 230h1M17 230h1M22 230h1M5 231h1M19 231h1M22 231h1M8 232h1M0 233h1M6 233h1M11 233h1M13 233h3M18 233h1M20 233h2M0 234h1M4 234h2M12 234h1M1 235h3M14 235h1M17 235h2M21 235h2M7 236h1M9 236h1M23 236h1M5 237h1M19 237h2M0 238h1M5 238h1M14 238h1M19 238h1M23 238h1M1 239h3M14 239h2M23 239h1M4 240h2M12 240h1M17 240h1M0 241h1M16 241h1M20 241h1M23 241h1M4 242h1M15 242h1M17 242h1M21 242h1M24 242h1M0 243h1M14 243h1M3 244h1M16 244h1M21 244h2M24 244h1M5 245h1M23 245h1M3 246h2M23 246h1M1 247h1M14 248h1M18 248h1M21 248h1M24 248h1M0 249h1M16 249h1M20 249h1M22 249h1"/>
<path stroke="#fbe6d9" d="M6 0h1M9 0h1M15 0h1M21 0h1M24 0h1M2 1h1M11 4h1M3 7h1M17 8h1M2 9h1M3 10h1M2 12h1M6 12h1M2 13h1M10 13h2M15 13h1M18 13h1M21 13h2M0 14h1M2 14h1M6 15h1M9 15h1M13 15h3M22 16h1M13 17h1M7 18h1M14 18h1M16 18h1M3 19h1M7 19h1M19 19h1M2 21h1M12 22h1M22 22h1M7 26h1M15 27h1M9 28h1M20 28h2M6 31h1M3 32h2M22 32h1M11 36h1M16 36h1M1 37h1M6 37h1M10 37h2M6 38h3M22 38h1M14 39h1M10 40h1M20 40h1M23 40h1M0 41h1M11 41h1M21 41h1M8 43h1M19 43h2M3 44h1M11 44h1M21 44h1M24 44h1M12 45h1M20 45h1M6 47h1M1 48h1M4 50h1M19 50h1M0 52h1M6 52h1M4 55h1M11 55h2M14 55h1M2 56h1M6 56h1M13 56h2M2 57h1M2 59h1M13 62h2M2 64h2M14 64h1M17 64h1M21 64h1M4 66h1M21 66h1M2 68h1M11 68h1M22 68h1M4 69h1M0 70h1M6 71h1M8 71h1M16 71h1M20 71h1M24 71h1M8 72h1M20 72h1M4 75h1M22 75h1M24 75h1M0 76h1M2 76h1M0 81h1M19 81h1M21 82h1M23 82h1M10 83h1M20 84h2M23 84h1M1 86h1M4 86h1M15 86h1M20 86h1M1 88h1M19 88h1M1 89h1M7 89h1M9 90h1M22 90h1M0 91h1M1 92h1M18 93h1M23 93h1M1 94h1M19 96h1M1 97h1M18 97h1M4 98h1M9 98h1M6 99h1M10 99h1M24 99h1M16 100h1M18 100h1M24 100h1M23 101h1M14 102h1M0 103h1M10 103h1M5 104h1M18 104h1M3 105h1M13 107h1M2 108h1M11 111h1M16 113h1M20 113h1M22 113h1M6 114h1M10 114h1M24 114h1M4 115h1M20 116h1M1 117h1M10 117h1M0 118h1M6 118h1M20 118h2M21 119h1M2 120h1M6 122h1M24 122h1M5 123h1M6 125h1M11 125h1M16 125h2M3 126h2M2 127h2M6 127h2M10 127h1M15 127h1M22 127h2M8 129h1M11 129h1M13 129h1M20 130h1M6 131h2M9 131h1M3 132h1M8 132h1M18 132h1M8 133h1M19 133h1M3 134h1M10 134h2M13 134h1M19 134h1M1 135h1M4 136h1M7 137h3M14 137h1M23 137h2M2 139h2M14 139h1M17 139h1M22 139h1M0 141h1M4 142h1M7 142h1M10 142h1M24 142h1M20 143h1M7 146h1M22 146h1M11 147h1M17 147h1M0 148h1M3 148h1M8 149h1M12 149h1M14 149h1M17 149h1M24 149h1M0 150h1M6 150h1M17 150h1M22 151h1M11 153h1M13 153h1M15 153h1M2 154h2M20 154h2M11 155h1M19 157h1M3 158h1M8 158h1M11 158h1M6 159h1M8 159h1M13 159h1M20 159h1M19 160h3M7 161h1M3 162h1M22 162h1M24 162h1M6 163h1M7 164h2M14 164h1M19 164h1M4 166h1M15 166h2M19 166h1M13 167h1M6 168h1M8 168h1M13 168h1M18 168h1M21 168h1M3 169h1M7 169h1M9 169h1M15 169h2M20 169h1M23 169h1M3 170h1M6 170h1M0 171h1M7 171h2M0 172h1M9 172h1M12 172h1M19 172h1M22 172h1M17 173h1M22 173h1M0 174h1M6 174h1M10 174h1M23 174h1M2 175h1M1 177h1M4 177h1M16 177h1M18 177h1M3 178h1M8 178h1M11 178h3M16 178h1M22 178h1M24 178h1M1 179h1M7 179h1M9 179h1M1 180h1M11 180h3M16 180h1M1 181h1M10 181h1M20 181h1M3 182h1M10 182h1M22 182h3M8 183h1M15 184h1M17 184h1M6 185h1M8 185h1M10 185h3M17 185h1M6 186h1M17 186h1M8 187h1M18 187h1M22 187h1M12 188h1M21 188h1M4 189h1M10 189h3M20 189h1M2 190h1M16 190h1M9 191h1M15 191h2M0 193h1M4 193h1M9 193h3M13 193h1M21 193h1M23 193h1M9 197h1M12 197h1M15 197h1M1 198h1M10 198h1M14 198h1M17 198h2M4 199h1M11 201h1M15 201h1M21 201h1M23 201h1M4 203h1M10 205h1M15 205h1M18 205h1M24 205h1M11 206h1M13 206h1M1 207h1M16 207h1M19 207h1M3 208h1M6 208h2M19 208h1M22 208h1M10 209h1M12 209h1M18 209h1M21 209h1M13 210h2M2 211h3M6 211h1M10 211h1M13 211h1M15 211h1M17 211h1M20 211h2M23 211h1M10 212h1M22 212h1M0 213h1M10 214h1M12 214h1M16 214h1M23 214h1M7 215h1M10 215h1M6 216h1M8 216h1M11 216h1M13 216h1M15 216h1M10 217h1M16 217h1M18 217h1M10 218h1M14 218h1M17 218h1M20 218h1M6 219h2M19 219h1M14 220h1M9 221h1M18 221h1M4 222h1M16 222h1M19 222h1M10 223h1M14 223h1M17 223h2M21 223h1M24 223h1M0 224h1M7 224h2M0 225h1M15 225h1M23 225h1M11 226h3M24 226h1M6 228h1M22 229h2M9 230h1M14 230h1M19 230h1M10 231h1M12 231h1M15 231h1M21 231h1M23 231h2M13 232h2M4 233h1M16 233h1M22 233h1M14 234h1M16 234h2M20 234h1M22 234h1M16 235h1M20 235h1M23 235h1M10 236h1M16 237h1M21 237h1M23 237h2M3 238h1M12 238h1M10 239h1M17 239h1M6 240h1M16 240h1M13 242h1M16 242h1M19 242h1M4 243h1M6 243h1M8 243h1M24 243h1M7 244h1M14 244h2M12 245h1M14 245h1M19 245h1M21 245h1M24 245h1M1 246h1M13 246h1M17 246h1M20 246h2M13 247h1M5 248h1M15 248h1M17 248h1M13 249h1M17 249h2"/>
<path stroke="#fdddca" d="M17 0h1M2 6h1M4 6h1M19 11h1M22 11h1M14 13h1M21 16h1M1 17h1M8 18h1M2 19h1M3 23h1M1 26h1M2 28h1M14 31h1M1 32h1M23 33h1M7 37h1M14 37h1M6 39h1M22 40h1M8 44h1M7 45h1M14 45h1M16 45h3M11 47h1M18 47h1M2 55h1M9 62h1M21 62h1M6 64h1M7 68h1M6 72h1M19 72h1M1 73h1M19 75h2M23 75h1M6 77h1M3 80h1M6 82h1M14 83h1M3 88h2M16 88h1M3 89h1M9 89h2M22 89h1M20 90h1M3 92h1M3 93h1M2 94h1M19 94h1M22 94h1M13 98h1M23 100h1M6 101h1M9 102h1M6 103h1M10 104h1M4 105h1M3 107h1M24 107h1M0 109h1M10 111h1M7 113h1M9 114h1M15 114h1M20 114h1M21 115h1M6 116h1M8 116h1M16 117h1M9 125h1M8 127h1M15 128h1M8 131h1M6 132h1M10 133h1M12 134h1M2 135h1M10 137h2M0 139h1M4 139h1M7 139h1M13 139h1M20 139h1M6 142h1M9 143h1M23 146h1M9 147h1M18 147h1M4 148h1M10 149h1M18 149h1M0 151h1M7 153h1M12 153h1M10 154h1M14 154h1M22 157h1M15 159h1M1 160h1M7 160h2M16 162h1M19 162h1M2 166h1M13 166h1M24 166h1M3 167h1M14 168h1M6 169h1M8 169h1M10 169h1M13 169h1M17 169h1M0 170h1M16 171h1M24 171h1M7 172h1M1 174h1M15 174h1M20 174h1M6 178h1M15 178h1M21 178h1M10 179h1M6 180h1M10 180h1M7 181h1M13 182h1M20 182h1M19 184h1M15 185h1M19 185h1M14 186h1M16 186h1M2 187h1M17 187h1M14 188h1M17 188h2M14 189h2M1 190h1M21 190h1M6 191h1M8 191h1M14 191h1M20 193h1M22 193h1M0 195h1M24 195h1M7 197h2M19 197h1M4 198h1M12 198h1M16 198h1M21 198h1M24 198h1M3 199h1M2 200h1M6 201h1M8 201h1M18 201h1M11 205h1M3 206h1M10 206h1M15 206h1M24 206h1M10 207h1M14 207h2M24 207h1M18 208h1M0 209h1M7 209h1M9 209h1M13 209h1M17 209h1M24 209h1M4 210h1M9 210h1M20 210h1M9 211h1M11 211h1M18 211h1M24 211h1M4 212h1M6 212h1M12 212h1M21 212h1M1 214h1M9 214h1M9 215h1M24 215h1M7 216h1M10 216h1M17 216h2M11 217h3M17 217h1M23 217h2M8 218h1M6 220h1M15 220h1M22 220h1M12 221h1M0 222h2M14 222h2M24 222h1M19 223h1M9 224h1M22 224h1M11 225h1M13 225h1M24 225h1M17 226h1M14 229h1M3 230h1M16 230h1M20 230h1M4 231h1M0 232h1M24 232h1M23 233h1M11 234h1M13 234h1M21 234h1M13 235h1M15 235h1M11 236h1M13 237h1M17 237h1M22 237h1M13 238h1M15 238h1M24 238h1M8 239h2M18 239h1M21 239h1M7 240h1M9 241h1M12 241h1M19 241h1M22 242h1M9 243h1M17 243h2M10 244h1M12 244h1M17 244h2M16 245h2M16 246h1M19 246h1M16 247h1M18 247h2M23 247h1M15 249h1M19 249h1"/>
<path stroke="#fbceb6" d="M20 0h1M1 10h1M20 19h1M1 21h1M1 23h1M12 47h1M17 47h1M12 56h1M18 56h1M24 64h1M9 70h1M3 72h1M2 73h1M21 75h1M19 78h1M15 79h1M18 89h1M20 89h2M19 97h1M15 99h1M9 104h1M1 114h1M7 119h1M17 122h1M21 122h1M14 129h1M18 131h1M15 133h1M22 137h1M24 146h1M2 149h1M6 149h1M23 149h1M12 158h1M4 159h1M10 162h1M15 165h1M14 166h1M18 166h1M6 167h1M10 168h1M12 168h1M15 168h1M17 168h1M23 168h1M11 169h2M6 171h1M10 171h1M12 171h1M7 174h1M9 174h1M7 178h1M11 179h1M6 182h1M8 182h2M12 182h1M16 182h1M19 182h1M20 186h1M14 187h1M6 189h1M6 193h1M13 196h1M11 198h1M20 198h1M22 198h1M9 201h2M12 206h1M16 206h1M18 206h1M23 206h1M9 207h1M17 207h1M23 207h1M4 208h1M8 208h1M6 209h1M22 210h1M14 211h1M13 212h1M8 215h1M9 216h1M19 216h1M21 216h1M7 218h1M11 218h1M21 218h1M21 222h1M13 223h1M16 223h1M10 225h1M16 225h1M15 226h1M20 226h1M8 228h1M15 230h1M23 230h2M13 231h1M12 233h1M10 234h1M8 236h1M12 236h1M10 237h1M15 237h1M11 238h1M16 238h1M11 239h1M10 241h1M20 242h1M10 243h1M19 243h1M23 244h1M15 246h1M22 247h1"/>
<path stroke="#f8bda0" d="M13 13h1M2 45h1M15 46h1M14 47h1M12 70h3M16 70h1M8 76h1M12 76h1M18 78h1M16 79h1M17 89h1M7 93h1M8 119h1M18 122h2M8 142h1M6 153h1M24 153h1M11 154h1M11 156h1M7 158h1M8 174h1M19 174h1M11 182h1M7 186h1M8 189h1M10 192h1M7 193h1M11 196h1M6 197h1M6 198h1M9 198h1M11 207h1M20 207h1M12 210h1M16 211h1M11 215h1M17 222h1M20 222h1M6 226h1M8 226h1M6 229h1M6 230h1M10 230h1M12 230h1M9 231h1M11 231h1M2 233h1M8 234h2M10 235h3M11 237h2M6 238h1M17 238h1M6 239h2M11 241h1M13 241h1M12 242h1M23 242h1M7 243h1M12 243h1M23 243h1M13 244h1M20 244h1M14 246h1M17 247h1M12 248h1"/>
<path stroke="#f5ac8b" d="M12 36h2M15 36h1M14 46h1M11 70h1M15 70h1M7 76h1M9 76h1M14 79h1M20 97h2M7 149h1M14 150h1M7 189h1M6 205h1M22 205h1M7 210h2M10 210h2M8 211h1M12 211h1M7 214h1M20 216h1M9 218h1M7 226h1M11 230h1M7 233h1M8 237h2M10 238h1M8 242h2M11 242h1M11 246h2M11 247h1M11 248h1M13 248h1M16 248h1"/>
<path stroke="#ee9878" d="M8 0h1M11 27h1M14 36h1M16 46h1M6 76h1M10 76h2M7 192h1M7 198h1M8 205h1M6 207h1M8 207h1M6 214h1M8 217h1M6 218h1M9 223h1M8 225h1M8 229h1M8 230h1M7 231h1M14 231h1M6 235h1M9 235h1M9 238h1M7 241h2M6 242h1M10 242h1M11 244h1M10 245h1M10 246h1M22 246h1"/>
<path stroke="#e58268" d="M10 70h1M15 150h1M7 182h1M8 192h1M7 201h1M20 201h1M7 205h1M7 206h1M7 207h1M6 210h1M9 225h1M10 229h1M7 230h1M8 231h1M7 234h1M8 235h1M8 238h1M6 241h1M9 246h1M12 247h1"/>
<path stroke="#dc6d57" d="M9 192h1M8 214h1M9 222h1M7 229h1M17 231h1M6 234h1M7 237h1M7 242h1M8 246h1M10 247h1"/>
<path stroke="#d25749" d="M12 27h1M6 192h1M8 198h1M6 223h1M6 225h1M9 229h1M16 231h1M7 235h1M6 237h1M8 247h2"/>
<path stroke="#c6403e" d="M16 150h1M9 188h1M6 206h1M8 206h1M10 222h1M8 223h1M6 247h1M9 249h2M12 249h1"/>
<path stroke="#bb2a34" d="M6 188h3M6 222h1M6 231h1M7 238h1M6 245h1M8 245h2"/>
<path stroke="#ad162a" d="M7 223h1M7 245h1M11 245h1M6 246h2M6 249h1"/>
<path stroke="#960f26" d="M10 188h1M6 217h1M7 225h1"/>
<path stroke="#7e0823" d="M7 247h1M9 248h2M11 249h1"/>
<path stroke="#67001f" d="M7 217h1M7 222h2M6 248h3M7 249h2"/>
</g></g>
<g shape-rendering="crispEdges">
<rect x="780.00" y="438.80" width="272.60" height="249.00" fill="#f7f7f7"/>
<g transform="translate(780,439.298) scale(10.9040,0.9960)" fill="none" stroke-width="1.04">
<path stroke="#053061" d="M13 17h1M16 17h1M18 17h1"/>
<path stroke="#0e4178" d="M14 17h2M17 17h1M16 82h1"/>
<path stroke="#165290" d="M19 17h1M24 17h1"/>
<path stroke="#1f63a7" d="M13 6h1M22 17h2M15 58h1"/>
<path stroke="#2a71b2" d="M14 1h1M16 1h1M20 17h1M20 47h1M22 79h1M13 82h2M16 96h1"/>
<path stroke="#347fb9" d="M18 1h1M17 5h1M14 6h1M17 6h1M21 17h1M16 47h1M18 56h1M23 79h1M15 82h1M15 96h1M17 96h1M13 106h1"/>
<path stroke="#3f8dc0" d="M13 0h2M9 1h1M17 1h1M9 2h1M11 2h1M14 5h1M15 6h1M20 6h1M9 7h1M14 57h1M17 62h1M24 79h1M21 106h1"/>
<path stroke="#529cc8" d="M10 0h2M15 0h2M22 0h1M11 1h1M13 1h1M15 1h1M8 2h1M12 2h1M7 3h4M9 5h2M8 6h1M21 6h1M12 7h1M16 9h1M21 16h2M9 18h1M17 21h1M19 22h1M15 42h1M18 47h2M13 57h1M15 57h1M14 58h1M17 61h1M15 69h2M16 77h1M17 106h1M19 106h2"/>
<path stroke="#6aacd0" d="M9 0h1M18 0h2M24 0h1M8 1h1M10 1h1M20 1h1M22 1h1M7 2h1M10 2h1M12 3h1M11 5h2M18 5h2M9 6h2M16 6h1M18 6h2M7 7h1M10 7h1M11 9h1M15 9h1M8 11h1M23 11h2M17 14h1M19 14h1M12 16h1M18 18h1M22 18h1M15 21h2M18 21h1M15 22h2M18 22h1M21 22h1M9 25h1M14 27h1M16 42h1M17 47h1M17 56h1M19 56h1M16 57h1M20 57h1M24 57h1M21 61h1M14 69h1M14 106h2M22 106h1"/>
<path stroke="#83bcd9" d="M7 0h2M17 0h1M20 0h1M23 0h1M7 1h1M12 1h1M19 1h1M23 1h2M11 3h1M7 4h4M7 5h2M13 5h1M15 5h1M21 5h3M7 6h1M12 6h1M22 6h1M24 6h1M8 7h1M11 7h1M16 8h1M8 9h3M13 9h1M7 10h1M7 11h1M10 11h3M14 11h1M8 12h2M11 12h1M13 12h1M18 12h1M15 14h1M21 14h2M10 15h1M8 16h2M24 16h1M7 18h2M13 18h1M21 18h1M13 19h1M17 19h1M13 22h2M17 22h1M24 22h1M10 24h1M8 25h1M10 25h2M19 25h2M8 28h1M13 31h2M16 31h1M21 32h1M20 43h1M18 45h2M15 47h1M19 57h1M21 57h1M23 57h1M18 61h1M20 61h1M13 62h1M18 62h1M20 62h1M18 69h1M20 69h1M23 69h1M13 81h1M17 82h1M20 82h1M24 82h1M23 106h1M19 126h1M15 129h1"/>
<path stroke="#9ac9e0" d="M6 0h1M12 0h1M21 0h1M6 1h1M6 2h1M14 2h1M17 2h1M6 3h1M11 4h2M18 4h1M24 4h1M16 5h1M20 5h1M11 6h1M23 6h1M7 8h6M15 8h1M20 8h1M6 9h2M12 9h1M14 9h1M8 10h1M13 10h1M21 10h1M9 11h1M13 11h1M18 11h2M7 12h1M10 12h1M12 12h1M21 12h1M23 12h1M7 13h2M11 13h2M13 14h2M16 14h1M18 14h1M20 14h1M23 14h1M11 15h1M10 16h1M11 17h1M14 18h3M20 18h1M24 18h1M11 19h1M15 19h2M18 19h1M20 19h1M23 19h1M8 20h1M13 20h1M16 20h1M23 20h1M14 21h1M8 22h1M10 22h3M11 23h1M14 23h2M7 24h3M21 24h1M12 25h3M16 25h2M9 26h1M7 27h1M9 27h1M12 27h1M22 27h1M24 27h1M7 28h1M14 28h1M18 28h3M7 30h1M17 31h1M9 32h1M11 32h1M13 32h1M22 32h1M9 34h1M21 35h1M17 37h1M15 40h1M17 40h1M19 40h1M24 40h1M13 41h1M10 42h1M17 42h2M23 43h1M18 44h1M9 45h1M13 45h1M20 45h1M22 45h1M15 46h1M17 46h1M7 48h2M10 48h1M18 49h1M21 51h1M24 53h1M15 54h1M19 54h1M16 56h1M17 57h2M22 57h1M16 58h1M19 61h1M14 62h1M23 62h1M14 63h2M17 63h1M13 67h1M19 67h1M14 68h1M19 71h2M15 75h1M22 75h1M17 77h1M23 81h1M14 83h1M19 83h1M13 85h1M13 105h2M17 105h1M20 105h1M18 106h1M24 106h1M13 110h1M22 110h1M13 126h1M13 129h2"/>
<path stroke="#aed3e6" d="M21 1h1M13 2h1M16 2h1M19 2h1M13 4h1M21 4h1M6 5h1M13 7h1M17 9h1M11 10h1M14 10h4M6 11h1M15 11h3M20 11h3M6 12h1M15 12h2M19 12h1M22 12h1M9 13h2M18 13h1M22 13h1M7 14h1M9 14h2M7 15h3M13 15h1M15 15h1M17 15h1M7 16h1M11 16h1M14 16h1M20 16h1M12 17h1M10 18h3M19 18h1M7 19h3M14 19h1M19 19h1M7 20h1M9 20h1M11 20h1M15 20h1M19 20h1M7 21h1M10 21h2M13 21h1M7 22h1M9 22h1M20 22h1M23 22h1M7 23h1M10 23h1M20 23h1M24 23h1M11 24h2M16 24h1M7 25h1M12 26h1M21 26h1M8 27h1M10 27h2M13 27h1M17 27h2M23 27h1M10 28h1M13 28h1M15 28h1M17 28h1M10 29h1M15 30h1M9 31h2M15 31h1M18 31h1M8 32h1M10 32h1M12 32h1M14 32h1M16 32h1M18 32h2M11 33h1M8 34h1M10 34h1M13 34h1M8 35h3M13 35h1M22 35h1M7 36h1M7 37h1M11 37h2M20 37h1M10 38h2M13 38h2M19 38h1M6 39h1M9 40h2M13 40h1M18 40h1M22 40h2M14 41h2M17 41h1M19 41h1M21 41h2M13 42h2M19 42h2M22 42h3M17 43h1M10 44h1M10 45h3M16 45h1M23 45h1M10 46h1M20 46h1M13 47h1M21 47h1M12 48h1M18 48h1M9 49h1M11 49h1M19 49h1M16 50h1M13 51h1M15 51h1M8 52h2M16 52h1M24 52h1M13 54h1M18 54h1M13 55h2M18 55h1M14 56h1M21 56h2M24 56h1M12 60h1M22 61h2M15 62h1M22 62h1M24 62h1M16 63h1M18 63h1M20 63h1M24 63h1M15 65h1M17 67h1M18 68h1M13 69h1M19 69h1M21 69h1M24 69h1M13 71h1M16 71h1M18 71h1M22 71h1M20 72h1M20 73h1M16 75h1M18 75h1M14 77h1M20 77h1M17 81h1M22 81h1M18 82h1M22 82h1M15 83h1M17 83h1M20 83h3M24 83h1M14 85h1M17 85h1M19 85h1M22 88h1M3 102h1M22 104h1M19 105h1M16 106h1M15 110h1M14 114h1M20 115h1M13 122h1M18 126h1M15 133h1M2 137h1M16 173h1M3 204h1M24 210h1"/>
<path stroke="#c1ddec" d="M20 2h1M22 2h1M0 3h1M13 3h1M18 3h1M24 3h1M6 4h1M17 4h1M24 5h1M6 6h1M6 7h1M14 7h2M18 7h2M6 8h1M13 8h1M18 8h1M23 8h2M9 10h2M12 10h1M18 10h2M22 10h1M14 12h1M17 12h1M24 12h1M6 13h1M13 13h2M20 13h1M8 14h1M12 14h1M12 15h1M14 15h1M16 15h1M18 15h1M20 15h1M17 16h1M23 16h1M2 17h1M7 17h4M23 18h1M10 19h1M12 19h1M6 20h1M10 20h1M12 20h1M20 20h1M24 20h1M6 21h1M9 21h1M12 21h1M21 21h2M22 22h1M6 23h1M8 23h2M12 23h1M17 23h1M19 23h1M6 24h1M17 24h1M19 24h1M22 25h3M7 26h2M10 26h2M15 26h1M17 26h1M20 26h1M22 26h1M6 27h1M15 27h2M19 27h3M6 28h1M9 28h1M11 28h1M21 28h1M7 29h1M9 29h1M11 29h2M22 29h1M9 30h3M24 30h1M6 31h3M11 31h2M19 31h1M6 32h2M15 32h1M20 32h1M24 32h1M7 33h1M10 33h1M14 33h1M7 34h1M11 34h1M15 34h1M7 35h1M14 35h3M18 35h2M23 35h2M6 36h1M8 36h4M18 36h1M8 37h3M13 37h1M16 37h1M22 37h1M24 37h1M8 38h2M12 38h1M15 38h1M20 38h1M22 38h1M24 38h1M7 39h1M10 39h1M12 39h1M14 39h3M7 40h2M11 40h2M14 40h1M16 40h1M20 40h1M10 41h1M16 41h1M18 41h1M20 41h1M23 41h1M2 42h1M8 42h1M11 42h1M13 43h2M16 43h1M18 43h1M8 44h1M11 44h2M21 44h1M8 45h1M14 45h2M17 45h1M21 45h1M24 45h1M9 46h1M11 46h1M13 46h2M18 46h1M4 48h1M9 48h1M7 49h2M10 49h1M14 49h1M17 49h1M20 49h1M11 50h1M15 50h1M17 50h1M24 50h1M9 51h1M16 51h2M19 51h1M7 52h1M14 52h2M18 52h1M7 53h1M9 53h1M20 53h1M14 54h1M17 54h1M20 54h2M8 55h1M15 55h1M17 55h1M19 55h1M22 55h1M8 56h1M11 56h2M15 56h1M13 58h1M17 58h1M20 58h1M23 58h1M11 59h1M22 59h1M8 60h1M11 60h1M1 61h1M13 61h4M16 62h1M19 62h1M21 62h1M7 63h1M12 63h1M19 63h1M22 63h2M8 64h1M13 65h1M19 65h1M22 65h1M0 66h1M9 68h1M17 68h1M19 68h1M24 68h1M14 71h2M17 71h1M23 71h1M17 72h1M19 73h1M24 73h1M8 74h1M16 74h1M24 74h1M13 75h2M17 75h1M19 75h1M10 77h1M13 77h1M15 77h1M19 77h1M21 77h3M13 80h1M18 80h1M24 80h1M14 81h1M16 81h1M18 81h2M21 81h1M23 82h1M18 83h1M15 85h2M18 85h1M18 86h1M0 87h1M15 88h1M17 88h1M23 88h1M13 89h1M15 89h1M4 94h1M3 96h1M19 96h1M21 102h1M17 104h1M21 104h1M23 104h1M22 105h2M0 110h1M17 110h1M19 110h1M23 110h2M3 113h1M13 114h1M23 114h1M3 122h1M15 126h1M17 126h1M21 126h2M19 132h1M16 133h1M4 134h1M4 142h1M4 145h1M1 152h2M4 154h1M0 161h1M4 164h1M13 173h1M15 173h1M19 173h1M1 184h1M3 185h1M2 189h1M4 195h1M2 197h1M2 205h1M24 209h1M2 244h1"/>
<path stroke="#d3e6f0" d="M0 0h1M15 2h1M18 2h1M21 2h1M23 2h1M15 3h3M21 3h1M14 4h2M23 4h1M16 7h2M20 7h1M1 8h1M14 8h1M17 8h1M19 8h1M22 8h1M2 10h1M20 10h1M24 10h1M20 12h1M19 13h1M21 13h1M2 14h1M11 14h1M24 14h1M19 15h1M21 15h3M6 16h1M13 16h1M15 16h2M18 16h1M3 17h2M6 17h1M4 18h1M6 18h1M17 18h1M21 19h1M24 19h1M4 20h1M22 20h1M8 21h1M20 21h1M23 21h2M6 22h1M13 23h1M18 23h1M21 23h1M23 23h1M14 24h2M22 24h1M6 25h1M15 25h1M18 25h1M21 25h1M13 26h1M16 26h1M19 26h1M23 26h1M16 28h1M22 28h2M2 29h1M16 29h2M3 30h1M6 30h1M8 30h1M13 30h1M23 30h1M24 31h1M3 32h1M23 32h1M8 33h2M12 33h1M15 33h1M17 33h1M21 33h1M12 34h1M14 34h1M17 34h1M21 34h1M6 35h1M11 35h2M17 35h1M12 36h1M22 36h1M15 37h1M18 37h1M21 37h1M23 37h1M0 38h1M7 38h1M16 38h1M18 38h1M21 38h1M23 38h1M8 39h2M11 39h1M13 39h1M21 39h1M0 40h1M6 40h1M21 40h1M8 41h2M24 41h1M3 42h1M6 42h2M9 42h1M12 42h1M21 42h1M2 43h1M10 43h1M12 43h1M19 43h1M24 43h1M7 44h1M9 44h1M14 44h2M19 44h1M23 44h1M6 45h1M7 46h2M12 46h1M16 46h1M19 46h1M24 46h1M7 47h1M9 47h4M22 47h3M0 48h1M6 48h1M11 48h1M14 48h1M17 48h1M20 48h1M6 49h1M12 49h2M21 49h2M24 49h1M7 50h2M12 50h1M21 50h1M7 51h2M11 51h2M14 51h1M18 51h1M23 51h1M10 52h1M13 52h1M17 52h1M19 52h1M21 52h1M8 53h1M11 53h4M18 53h1M9 54h1M11 54h1M11 55h2M20 55h1M23 55h1M7 56h1M9 56h2M13 56h1M20 56h1M23 56h1M9 57h1M11 57h1M19 58h1M22 58h1M8 59h3M14 59h1M23 59h1M6 60h2M9 60h2M24 61h1M0 62h1M7 62h1M9 62h3M8 63h1M10 63h1M13 63h1M10 64h1M16 65h3M20 65h2M3 66h1M10 66h1M13 66h1M17 66h1M23 66h1M14 67h1M22 67h1M10 68h1M12 68h2M16 68h1M21 68h3M1 69h1M17 69h1M22 69h1M0 70h1M17 70h1M0 71h1M9 71h2M21 71h1M14 72h1M18 72h1M9 73h2M12 73h4M21 73h1M7 74h1M12 74h1M18 74h2M6 75h1M9 75h1M11 75h1M20 75h1M24 75h1M2 76h1M7 76h1M10 76h1M14 76h1M6 77h1M9 77h1M11 77h2M2 78h1M13 78h1M16 78h1M12 79h1M14 79h2M11 80h1M14 80h3M22 80h2M20 81h1M24 81h1M13 83h1M16 83h1M1 84h1M4 84h1M13 84h1M10 85h1M20 85h2M15 86h3M22 86h1M11 87h1M13 88h2M19 88h1M21 88h1M24 89h1M14 90h1M18 90h1M20 90h2M24 90h1M7 91h1M22 91h1M20 93h1M22 93h1M0 94h1M2 94h1M1 95h1M4 95h1M13 96h1M20 96h2M24 96h1M1 97h1M19 98h1M4 99h1M17 99h1M4 100h1M17 100h1M24 100h1M2 102h1M14 102h1M16 102h1M18 102h1M16 105h1M18 105h1M1 107h1M18 107h1M14 110h1M16 110h1M18 110h1M3 112h1M18 113h1M20 113h1M15 114h1M20 114h1M15 115h1M19 115h1M22 115h2M15 116h1M17 118h1M4 119h1M4 120h1M2 122h1M19 122h1M24 122h1M22 123h1M3 124h2M18 124h1M13 125h1M4 126h1M14 126h1M20 126h1M1 130h1M4 132h1M13 132h1M17 132h1M22 132h1M3 133h1M14 133h1M17 133h1M23 133h1M3 134h1M16 137h1M24 137h1M0 140h1M4 141h1M24 142h1M3 145h1M0 149h1M4 150h1M4 153h1M0 154h2M2 155h1M4 159h1M22 159h1M1 162h1M4 162h1M0 167h1M0 171h1M3 171h1M2 173h1M14 173h1M18 173h1M20 173h3M24 173h1M0 175h1M4 176h1M15 178h1M22 178h1M1 186h1M1 187h1M1 188h1M4 192h1M0 193h1M3 194h1M1 195h1M4 205h1M2 207h1M3 208h1M4 209h1M21 209h1M4 210h1M20 210h1M22 210h1M0 214h1M3 215h1M0 221h1M1 224h1M1 228h1M4 229h1M2 235h1M3 242h1"/>
<path stroke="#dfecf3" d="M1 1h1M3 1h2M1 3h2M4 3h1M19 3h1M22 3h1M0 4h2M4 4h1M16 4h1M20 4h1M22 4h1M1 5h1M4 5h1M0 6h1M2 6h2M0 7h1M0 8h1M1 9h1M0 10h2M3 10h2M6 10h1M2 11h1M4 12h1M1 13h1M15 13h3M24 13h1M6 14h1M1 15h1M6 15h1M0 17h1M0 19h1M6 19h1M22 19h1M17 20h1M4 21h1M3 22h1M0 23h1M2 23h1M16 23h1M18 24h1M20 24h1M23 24h2M2 26h1M6 26h1M18 26h1M0 27h1M0 28h2M4 28h1M12 28h1M24 28h1M4 29h1M8 29h1M13 29h2M20 29h2M24 29h1M0 30h1M12 30h1M14 30h1M22 31h1M2 32h1M4 32h1M17 32h1M4 33h1M6 33h1M13 33h1M19 33h2M0 34h1M3 34h1M6 34h1M19 34h1M22 34h3M0 35h1M3 35h1M0 36h1M15 36h3M19 36h2M23 36h1M6 37h1M6 38h1M17 38h1M2 39h2M19 39h1M22 39h1M1 40h4M1 41h2M7 41h1M11 41h2M1 42h1M4 42h1M1 43h1M7 43h3M15 43h1M21 43h2M0 44h2M6 44h1M17 44h1M20 44h1M22 44h1M24 44h1M0 45h1M3 45h2M7 45h1M6 46h1M21 46h1M6 47h1M8 47h1M14 47h1M2 48h1M15 48h1M22 48h3M15 49h1M0 50h1M4 50h1M20 50h1M22 50h1M3 51h1M6 51h1M10 51h1M22 51h1M24 51h1M0 52h1M6 52h1M11 52h2M0 53h1M10 53h1M15 53h1M17 53h1M19 53h1M22 53h2M7 54h2M10 54h1M16 54h1M4 55h1M6 55h2M9 55h2M24 55h1M4 56h1M3 57h1M6 57h2M10 57h1M12 57h1M6 58h2M9 58h1M11 58h1M18 58h1M24 58h1M2 59h1M4 59h1M6 59h2M15 59h1M17 59h1M19 59h3M13 60h1M7 61h5M1 62h2M4 62h1M6 62h1M8 62h1M12 62h1M1 63h1M9 63h1M11 63h1M7 64h1M9 64h1M11 64h2M4 65h1M7 65h1M9 65h2M14 65h1M23 65h2M7 66h3M11 66h1M15 66h1M22 66h1M0 67h1M7 67h2M20 67h2M23 67h1M0 68h1M3 68h1M6 68h3M11 68h1M2 69h2M7 69h3M1 70h1M4 70h1M9 70h1M13 70h2M16 70h1M19 70h1M21 70h1M3 71h2M6 71h3M12 71h1M24 71h1M3 72h1M12 72h1M15 72h2M19 72h1M23 72h1M4 73h1M7 73h1M11 73h1M3 74h1M11 74h1M8 75h1M12 75h1M21 75h1M23 75h1M4 76h1M8 76h2M12 76h1M23 76h1M1 77h2M4 77h1M8 77h1M18 77h1M0 78h2M3 78h1M7 78h1M9 78h1M17 78h2M0 79h1M7 79h2M10 79h2M13 79h1M1 80h1M6 80h5M12 80h1M17 80h1M4 81h1M7 81h2M10 81h1M0 82h1M21 82h1M4 83h1M8 83h1M11 83h2M23 83h1M3 84h1M6 84h1M11 84h1M17 84h1M23 84h2M8 85h1M11 85h1M22 85h1M24 85h1M10 86h2M13 86h1M20 86h1M6 87h1M8 87h2M20 87h1M0 88h1M3 88h2M7 88h1M10 88h1M12 88h1M16 88h1M24 88h1M10 89h1M9 90h2M13 90h1M15 90h1M17 90h1M19 90h1M22 90h2M11 91h1M17 91h2M3 92h1M7 92h1M10 92h3M15 92h2M18 92h1M22 92h1M2 93h1M19 93h1M3 94h1M6 94h1M8 94h1M12 94h1M9 95h1M16 95h1M22 95h1M24 95h1M0 96h1M2 97h2M15 98h1M3 99h1M13 99h1M16 99h1M0 100h1M9 100h2M12 100h1M20 100h2M23 100h1M9 101h3M13 102h1M15 102h1M20 102h1M3 103h1M9 103h1M12 103h1M0 104h2M3 104h2M11 104h1M14 104h3M18 104h1M20 104h1M24 104h1M0 105h1M2 105h1M5 105h1M8 105h1M21 105h1M1 106h1M7 106h1M10 106h1M12 106h1M5 107h2M14 107h1M16 108h1M7 109h1M16 109h1M1 110h3M7 110h4M8 111h1M10 111h1M19 111h1M1 112h1M0 113h1M14 113h1M16 113h1M19 113h1M21 113h2M1 114h2M10 114h1M16 114h2M19 114h1M13 115h2M24 115h1M0 116h1M16 116h1M21 116h1M2 117h2M11 117h1M1 118h1M4 118h1M6 118h1M12 118h1M15 118h1M24 118h1M3 119h1M7 119h1M9 119h2M12 119h1M1 120h1M2 121h1M9 121h1M15 121h1M23 121h1M15 122h1M17 122h2M21 122h1M23 122h1M16 123h1M20 123h2M6 124h2M9 124h2M15 124h1M23 124h1M1 125h1M4 125h1M19 125h1M3 126h1M6 126h1M8 126h1M10 126h1M16 126h1M24 126h1M0 127h1M3 127h1M0 128h1M1 129h1M3 129h1M16 129h1M12 130h1M2 132h1M21 132h1M0 133h1M2 133h1M12 133h1M18 133h3M0 134h1M16 134h1M0 136h2M3 136h2M14 136h1M16 136h1M20 136h1M23 136h1M0 137h2M3 137h1M13 137h1M18 137h1M20 137h1M2 138h1M1 140h1M3 140h1M5 140h1M0 141h2M3 142h1M2 144h1M9 144h1M0 145h1M12 145h1M15 145h1M1 150h1M3 151h1M3 152h1M1 153h3M2 154h2M3 155h1M3 157h1M2 158h1M3 159h1M23 159h1M1 161h1M4 161h1M0 162h1M1 164h1M1 165h1M1 167h1M17 167h1M19 167h1M24 167h1M2 168h1M1 169h1M2 170h1M20 171h1M22 171h1M4 172h1M17 173h1M23 173h1M2 175h1M0 176h1M3 176h1M1 178h2M16 178h2M3 179h1M1 183h1M0 185h1M0 186h1M3 186h1M4 187h1M2 188h2M3 189h1M2 190h1M0 191h2M4 191h1M3 192h1M1 193h1M4 193h1M2 194h1M4 194h1M2 195h1M0 196h1M3 196h2M0 198h2M0 199h1M1 200h1M4 200h1M4 201h1M2 203h2M0 204h1M4 204h1M1 206h2M2 209h1M21 210h1M23 210h1M3 211h1M2 212h1M4 212h1M1 214h1M1 215h1M4 216h1M1 217h1M1 218h1M3 220h1M2 222h1M4 222h1M3 223h1M0 224h1M4 224h1M0 227h1M2 227h2M2 229h2M0 230h1M4 233h1M1 235h1M3 235h1M2 237h1M4 237h1M0 240h1M4 241h1M1 242h1M2 243h1M1 244h1M1 247h1M3 247h2M2 248h2M2 249h1"/>
<path stroke="#ebf1f5" d="M1 0h2M4 0h1M0 1h1M2 1h1M1 2h3M24 2h1M3 3h1M14 3h1M20 3h1M2 4h1M19 4h1M2 5h2M5 5h1M4 6h1M1 7h2M4 7h1M21 7h1M2 8h3M21 8h1M0 9h1M3 9h2M5 10h1M23 10h1M3 11h3M3 12h1M0 13h1M23 13h1M0 14h1M3 14h3M3 15h2M24 15h1M0 16h1M3 16h3M19 16h1M1 17h1M0 18h1M3 18h1M1 19h2M5 19h1M3 20h1M14 20h1M18 20h1M3 21h1M19 21h1M0 22h2M4 22h1M1 23h1M22 23h1M0 24h1M3 24h2M13 24h1M0 25h2M0 26h2M5 26h1M14 26h1M24 26h1M1 27h3M3 28h1M5 28h1M5 29h2M18 29h2M2 30h1M20 30h2M0 31h1M3 31h1M20 31h1M23 31h1M0 32h2M0 33h1M2 33h1M16 33h1M18 33h1M5 34h1M16 34h1M18 34h1M1 35h1M20 35h1M1 36h1M3 36h3M14 36h1M0 37h2M4 37h2M14 37h1M19 37h1M3 38h2M20 39h1M23 39h2M0 41h1M3 41h1M6 41h1M0 42h1M0 43h1M4 43h1M6 43h1M11 43h1M2 44h1M4 44h1M16 44h1M1 45h1M0 46h1M3 46h1M5 46h1M22 46h2M0 47h6M3 48h1M13 48h1M16 48h1M19 48h1M0 49h2M23 49h1M1 50h1M3 50h1M5 50h1M9 50h2M18 50h2M23 50h1M1 51h2M5 51h1M4 52h2M20 52h1M22 52h1M3 53h1M6 53h1M16 53h1M21 53h1M4 54h1M6 54h1M12 54h1M24 54h1M1 55h1M3 55h1M16 55h1M21 55h1M2 56h1M5 56h2M1 57h1M4 57h1M8 57h1M1 58h1M8 58h1M10 58h1M12 58h1M21 58h1M0 59h1M3 59h1M12 59h2M16 59h1M24 59h1M18 60h3M0 61h1M4 61h1M6 61h1M5 62h1M2 63h1M21 63h1M5 64h2M6 65h1M12 65h1M6 66h1M12 66h1M14 66h1M16 66h1M18 66h4M24 66h1M10 67h1M15 67h1M18 67h1M4 68h1M15 68h1M0 69h1M4 69h2M10 69h2M5 70h1M7 70h2M10 70h1M15 70h1M22 70h2M1 71h1M11 71h1M0 72h1M4 72h1M11 72h1M13 72h1M24 72h1M0 73h3M6 73h1M8 73h1M6 74h1M9 74h2M13 74h1M15 74h1M20 74h3M1 75h1M5 75h1M7 75h1M10 75h1M6 76h1M18 76h1M0 77h1M5 77h1M7 77h1M24 77h1M4 78h1M6 78h1M8 78h1M10 78h2M14 78h2M6 79h1M16 79h1M18 79h1M20 79h1M2 80h1M19 80h2M3 81h1M5 81h2M9 81h1M12 81h1M1 82h2M4 82h1M7 82h1M9 82h2M19 82h1M0 83h2M3 83h1M6 83h1M9 83h2M0 84h1M2 84h1M7 84h3M14 84h1M18 84h1M21 84h1M1 85h1M4 85h1M6 85h2M9 85h1M12 85h1M1 86h2M6 86h1M8 86h2M12 86h1M19 86h1M2 87h1M4 87h1M7 87h1M10 87h1M12 87h1M16 87h1M22 87h2M5 88h2M9 88h1M11 88h1M18 88h1M20 88h1M4 89h1M6 89h3M11 89h2M23 89h1M3 90h3M7 90h1M2 91h1M8 91h3M12 91h1M15 91h2M19 91h2M23 91h2M0 92h1M4 92h1M6 92h1M8 92h2M14 92h1M17 92h1M20 92h2M3 93h1M9 93h2M13 93h2M16 93h2M21 93h1M24 93h1M1 94h1M7 94h1M11 94h1M19 94h2M23 94h2M3 95h1M11 95h1M13 95h2M19 95h1M23 95h1M4 96h2M10 96h1M14 96h1M18 96h1M22 96h2M5 97h1M8 97h2M14 97h1M4 98h1M6 98h1M8 98h2M12 98h1M14 98h1M22 98h1M24 98h1M1 99h1M6 99h1M8 99h1M10 99h1M19 99h1M21 99h1M23 99h2M2 100h2M7 100h2M11 100h1M14 100h2M18 100h2M4 101h1M7 101h2M0 102h2M6 102h2M10 102h1M12 102h1M17 102h1M19 102h1M23 102h2M5 103h1M7 103h2M6 104h2M10 104h1M12 104h2M19 104h1M4 105h1M6 105h2M9 105h1M15 105h1M0 106h1M2 106h1M5 106h1M8 106h2M11 106h1M4 107h1M7 107h1M11 107h1M17 107h1M20 107h1M24 107h1M1 108h2M5 108h1M11 108h1M19 108h2M23 108h1M6 109h1M8 109h2M4 110h1M6 110h1M11 110h2M20 110h1M3 111h1M6 111h2M9 111h1M11 111h1M13 111h1M15 111h1M17 111h1M20 111h1M22 111h1M2 112h1M5 112h1M7 112h1M9 112h1M21 112h1M2 113h1M10 113h1M13 113h1M15 113h1M24 113h1M5 114h1M7 114h2M18 114h1M24 114h1M0 115h1M6 115h2M9 115h1M16 115h3M21 115h1M6 116h1M11 116h1M14 116h1M17 116h2M0 117h2M4 117h1M6 117h3M10 117h1M16 117h1M23 117h1M3 118h1M7 118h2M11 118h1M13 118h2M21 118h3M1 119h2M5 119h2M8 119h1M11 119h1M0 120h1M3 120h1M22 120h1M0 121h1M6 121h1M8 121h1M11 121h1M16 121h1M19 121h1M0 122h2M4 122h1M6 122h1M8 122h2M14 122h1M16 122h1M22 122h1M0 123h1M3 123h1M6 123h1M12 123h1M14 123h1M17 123h3M0 124h2M14 124h1M17 124h1M0 125h1M2 125h1M0 126h1M9 126h1M12 126h1M1 127h1M4 127h1M1 128h4M7 128h1M12 128h1M14 128h1M4 129h2M10 129h1M12 129h1M0 130h1M3 130h2M7 130h1M10 130h2M0 131h1M2 131h1M7 131h4M18 131h1M20 131h1M0 132h2M3 132h1M20 132h1M24 132h1M1 133h1M8 133h1M10 133h1M13 133h1M21 133h2M24 133h1M2 134h1M8 134h1M1 135h1M24 135h1M2 136h1M5 136h1M22 136h1M5 137h1M15 137h1M17 137h1M19 137h1M0 138h1M9 138h1M1 139h2M10 139h2M16 139h1M22 139h1M13 140h1M5 141h1M7 141h1M0 142h3M14 142h1M19 142h2M0 143h3M8 143h1M11 143h2M21 143h1M1 144h1M4 144h1M6 144h1M10 144h1M1 145h2M5 145h1M0 146h1M3 146h1M12 146h1M2 147h2M8 147h1M3 148h1M5 149h1M0 150h1M2 150h1M24 150h1M0 151h1M2 151h1M5 151h1M0 152h1M5 153h1M5 154h1M7 154h1M1 155h1M5 155h1M14 155h2M1 157h1M4 157h1M6 157h1M0 158h1M4 158h1M13 158h1M1 159h2M9 159h1M1 160h1M3 160h1M5 160h1M11 160h1M2 161h2M2 162h1M0 163h1M2 163h1M2 164h2M5 164h1M0 165h1M4 165h1M0 166h4M16 166h1M5 167h1M18 167h1M0 168h1M3 168h1M5 169h1M0 170h2M3 170h3M1 171h1M5 171h1M13 171h1M15 171h2M18 171h1M21 171h1M0 172h3M4 173h2M2 174h3M1 176h2M0 177h1M3 177h1M3 178h1M13 178h1M19 178h1M0 179h3M1 182h1M4 182h2M0 183h1M4 183h1M2 184h3M3 187h1M0 188h1M5 188h1M0 189h2M0 190h1M3 191h1M0 192h1M5 192h1M5 193h1M0 194h1M0 195h1M3 195h1M1 196h1M1 197h1M3 198h2M3 199h3M5 200h1M3 201h1M5 201h1M0 202h2M3 202h2M1 204h1M0 206h1M3 206h3M0 209h2M3 209h1M5 209h1M20 209h1M22 209h1M2 210h2M5 210h1M19 210h1M2 211h1M5 211h1M1 212h1M3 212h1M2 213h1M5 213h1M2 214h1M5 214h1M0 215h1M2 215h1M1 216h3M5 216h1M4 218h1M0 219h2M0 220h1M2 220h1M5 220h1M3 221h2M0 222h1M3 222h1M1 223h2M4 223h1M2 224h1M0 225h2M3 225h1M2 226h1M5 226h1M1 227h1M4 227h2M2 228h2M0 229h2M5 229h1M3 230h1M1 231h2M5 231h1M1 232h2M0 233h1M5 233h1M0 234h1M0 235h1M4 235h1M0 236h2M3 237h1M0 238h1M4 239h2M3 240h1M1 241h1M3 241h1M5 241h1M0 242h1M2 242h1M1 243h1M3 243h2M0 244h1M3 244h1M5 244h1M1 245h3M0 247h1M2 247h1"/>
<path stroke="#f9eee8" d="M0 2h1M0 5h1M5 7h1M23 7h1M2 9h1M18 9h1M0 11h1M0 12h1M3 13h1M2 15h1M2 16h1M4 19h1M1 20h1M21 20h1M1 21h1M2 22h1M2 24h1M3 25h1M3 29h1M1 30h1M4 30h2M18 30h2M5 31h1M3 33h1M22 33h1M24 33h1M20 34h1M13 36h1M24 36h1M3 37h1M1 38h1M0 39h1M5 43h1M1 46h1M4 46h1M2 49h1M4 49h1M0 51h1M5 53h1M0 54h1M2 54h1M23 54h1M0 56h1M0 58h1M1 60h2M14 60h2M21 60h2M2 61h1M0 63h1M3 63h1M0 64h1M2 64h2M15 64h1M20 64h1M23 64h1M5 65h1M16 67h1M2 71h1M5 71h1M5 72h1M7 72h1M5 73h1M16 73h1M23 73h1M3 75h1M15 76h1M21 76h1M3 77h1M22 78h3M4 79h2M8 82h1M11 82h1M2 83h1M10 84h1M15 84h1M20 84h1M3 86h1M1 87h1M18 87h2M21 87h1M24 87h1M9 89h1M0 90h1M6 90h1M4 91h1M4 93h1M8 93h1M23 93h1M13 94h1M6 95h1M1 96h1M11 96h1M0 97h1M11 97h1M18 97h1M21 97h1M23 97h1M16 98h1M20 98h1M5 99h1M7 99h1M11 99h1M16 100h1M0 101h1M9 102h1M1 103h1M4 103h1M23 103h2M2 104h1M5 104h1M3 105h1M12 107h1M19 107h1M21 107h2M7 108h1M12 108h1M21 108h1M2 109h3M12 109h1M22 109h2M21 110h1M0 111h2M4 111h1M21 111h1M23 111h1M8 112h1M10 112h2M15 112h3M20 112h1M23 112h1M1 113h1M6 113h1M12 113h1M23 113h1M21 114h1M4 115h1M10 115h1M12 115h1M3 116h2M7 116h1M9 116h1M19 116h1M14 117h1M19 117h1M21 117h2M24 117h1M5 118h1M16 118h1M18 118h1M13 119h1M16 119h1M6 120h8M16 120h2M21 120h1M1 121h1M3 121h1M10 121h1M13 121h1M17 121h2M20 121h1M22 121h1M24 121h1M11 122h1M2 123h1M5 123h1M7 123h1M9 123h1M11 123h1M2 124h1M19 124h1M21 124h2M3 125h1M7 125h1M11 125h1M16 125h1M6 127h1M9 127h2M12 127h1M6 128h1M9 128h1M11 128h1M19 128h1M24 128h1M9 129h1M17 129h1M21 129h3M2 130h1M8 130h2M21 130h2M24 130h1M1 131h1M13 131h1M16 131h1M21 131h1M23 131h2M11 132h1M6 134h1M9 134h1M14 134h1M17 134h2M3 135h2M11 135h1M13 135h1M16 135h1M19 135h1M8 136h2M11 136h1M15 136h1M21 136h1M24 136h1M8 137h1M10 137h1M21 137h1M1 138h1M3 138h1M10 138h1M12 138h1M16 138h1M0 139h1M5 139h1M8 139h2M13 139h1M18 139h1M4 140h1M8 140h2M12 140h1M19 140h1M24 140h1M8 141h3M14 141h1M17 141h1M21 141h1M6 142h1M10 142h1M12 142h1M16 142h1M16 143h1M19 143h1M7 144h1M20 144h1M8 145h1M11 145h1M13 145h2M16 145h1M19 145h2M22 145h1M24 145h1M5 146h4M11 146h1M1 147h1M4 147h1M6 147h1M10 147h1M15 147h1M23 147h1M6 148h3M4 149h1M6 149h2M9 149h1M11 149h1M20 149h1M3 150h1M7 150h1M10 150h1M13 150h2M19 150h1M22 150h1M4 151h1M9 151h1M12 151h1M17 151h1M21 151h1M4 152h1M7 152h1M11 152h2M21 152h1M7 153h1M12 153h1M11 154h1M4 155h1M6 155h1M11 155h1M13 155h1M16 155h1M18 155h2M22 155h1M6 156h1M9 156h2M12 156h1M18 156h2M21 156h1M24 156h1M0 157h1M11 157h1M16 157h1M21 157h1M1 158h1M3 158h1M10 158h1M6 159h1M8 159h1M10 159h1M12 159h1M15 159h1M19 159h1M4 160h1M7 160h2M10 160h1M12 160h1M5 161h2M10 161h1M13 161h1M16 161h3M23 161h1M6 162h1M12 163h1M17 163h1M22 163h1M6 164h1M2 165h2M6 165h1M6 166h1M14 166h1M17 166h1M19 166h2M24 166h1M4 167h1M7 167h2M10 167h1M12 167h1M14 167h3M20 167h1M4 168h1M0 169h1M3 169h1M6 169h1M9 169h1M11 169h1M24 170h1M8 171h1M19 171h1M23 171h1M10 172h1M12 172h1M1 173h1M6 173h1M10 173h1M0 174h1M20 174h1M23 174h1M1 175h1M3 175h1M6 175h1M12 175h1M4 178h1M6 178h1M14 178h1M20 178h1M24 178h1M0 180h1M6 180h1M0 181h2M4 181h1M12 181h1M2 182h1M6 182h1M8 182h2M14 182h2M17 182h1M20 182h2M23 182h1M2 183h2M6 183h1M12 183h1M22 184h1M8 185h1M6 186h1M0 187h1M2 187h1M6 187h1M10 187h1M13 187h1M15 187h3M19 187h1M24 187h1M5 189h1M17 189h1M24 189h1M1 190h1M4 190h1M0 197h1M5 197h1M6 198h1M23 198h1M1 199h1M2 200h2M0 201h1M23 202h2M4 203h1M13 204h1M19 204h2M10 205h1M1 208h1M16 210h1M0 211h1M0 213h2M3 213h1M4 214h1M5 215h1M19 216h1M21 216h1M0 217h1M0 218h1M2 218h2M19 218h1M0 223h1M5 224h1M24 225h1M4 226h1M0 228h1M4 230h1M3 231h2M2 236h1M5 236h1M4 238h1M1 239h2M1 240h1M5 240h1M2 241h1M0 243h1M5 243h1M5 245h1M1 246h1M1 248h1M5 248h1M1 249h1M4 249h1"/>
<path stroke="#fbe6d9" d="M1 6h1M3 7h1M21 9h2M2 13h1M0 20h1M4 26h1M2 28h1M16 30h1M2 50h1M3 56h1M0 57h1M4 60h1M23 60h1M16 64h2M21 64h1M4 66h1M12 67h1M16 76h1M19 76h2M21 78h1M3 79h1M0 86h1M2 90h1M1 91h1M23 92h1M22 94h1M20 95h1M6 97h1M17 97h1M22 97h1M24 97h1M13 98h1M12 99h1M15 99h1M18 99h1M13 103h1M0 107h1M23 107h1M3 108h1M18 108h1M21 109h1M24 109h1M16 111h1M4 112h1M14 112h1M22 112h1M3 114h1M2 115h1M2 116h1M13 117h1M20 117h1M2 118h1M17 119h1M24 120h1M13 124h1M6 125h1M8 125h3M17 128h1M23 128h1M0 129h1M6 129h1M18 129h3M17 130h1M19 131h1M23 132h1M13 134h1M15 134h1M0 135h1M7 135h1M9 135h2M12 135h1M15 135h1M17 135h2M20 135h1M22 135h1M6 136h1M10 136h1M6 137h1M12 137h1M23 137h1M15 138h1M18 138h1M3 139h1M6 139h1M12 139h1M15 139h1M21 139h1M23 139h1M6 140h2M14 140h1M17 140h2M22 140h1M13 141h1M16 141h1M19 141h1M23 141h1M18 142h1M23 142h1M4 143h1M7 143h1M10 143h1M22 143h1M12 144h1M14 144h1M17 144h2M9 145h2M23 145h1M9 146h2M13 146h1M15 146h2M20 146h1M22 146h1M24 146h1M13 147h2M19 147h1M21 147h1M0 148h2M12 148h1M8 149h1M18 149h1M22 149h2M8 150h2M11 150h2M15 150h1M18 150h1M6 151h3M10 151h1M13 151h1M15 151h2M20 151h1M23 151h1M6 152h1M8 152h2M9 153h1M23 153h2M10 154h1M7 155h2M12 155h1M17 155h1M1 156h1M8 156h1M11 156h1M7 157h1M12 157h1M14 157h1M17 157h2M23 157h1M6 158h1M8 158h1M12 158h1M14 158h1M18 158h1M21 158h1M18 159h1M9 160h1M16 160h1M9 161h1M11 161h1M14 161h2M21 161h2M7 162h1M12 162h1M24 162h1M1 163h1M7 163h1M9 163h1M19 163h1M7 164h5M17 164h1M7 165h2M12 165h1M4 166h1M8 166h2M13 166h1M23 166h1M9 167h1M11 167h1M22 167h1M7 169h1M10 169h1M12 169h1M14 169h1M21 169h1M7 170h2M11 170h1M17 170h2M22 170h1M10 171h1M17 171h1M6 172h1M9 172h1M7 173h3M11 173h2M6 174h1M11 174h1M24 174h1M9 175h3M6 176h1M8 176h2M11 176h1M6 177h1M19 177h1M7 178h4M12 178h1M21 178h1M23 178h1M6 179h1M8 179h1M16 179h1M21 179h1M7 180h2M8 181h1M11 181h1M7 182h1M10 182h3M22 182h1M7 183h1M9 184h1M16 184h1M21 184h1M23 184h1M1 185h1M6 185h2M21 185h1M7 186h1M12 186h1M8 187h1M12 187h1M14 187h1M20 187h1M6 188h1M11 189h3M6 190h1M6 192h1M6 193h1M20 195h1M6 196h1M6 197h1M20 197h1M13 198h1M15 198h1M18 198h1M18 199h1M24 199h1M6 200h1M16 200h1M20 200h1M6 202h1M18 202h1M16 204h1M24 204h1M6 205h1M6 206h1M0 208h1M4 208h1M6 208h1M24 208h1M15 209h1M13 210h1M16 216h1M20 216h1M24 216h1M18 217h1M24 217h1M6 218h1M16 218h1M24 218h1M4 228h1M2 240h1M2 246h1M4 246h1"/>
<path stroke="#fdddca" d="M20 9h1M23 33h1M3 54h1M13 64h1M18 64h1M17 76h1M19 78h1M17 87h1M17 94h1M18 103h2M15 107h1M17 109h2M20 109h1M13 112h1M18 112h1M18 117h1M20 119h2M20 120h1M20 124h1M24 124h1M17 125h1M21 125h1M18 128h1M24 129h1M18 130h1M20 130h1M19 134h1M22 134h2M8 135h1M7 137h1M22 137h1M13 138h1M17 138h1M19 138h3M23 138h2M14 139h1M20 139h1M11 140h1M16 140h1M21 140h1M15 141h1M20 141h1M22 141h1M24 141h1M13 143h3M16 144h1M22 144h2M17 146h1M21 146h1M23 146h1M7 147h1M11 147h2M16 147h1M11 148h1M14 149h1M19 149h1M6 150h1M16 150h2M20 150h2M11 151h1M14 151h1M19 151h1M24 151h1M17 152h1M19 152h2M6 153h1M8 153h1M10 153h2M18 153h1M20 155h1M24 155h1M7 156h1M17 156h1M20 157h1M22 157h1M7 158h1M9 158h1M16 158h1M24 159h1M2 160h1M7 161h1M12 161h1M19 161h1M24 161h1M11 162h1M10 163h2M13 163h2M16 163h1M20 163h2M0 164h1M12 164h1M9 165h3M7 166h1M11 166h2M22 166h1M13 167h1M6 168h6M19 168h1M24 168h1M8 169h1M13 169h1M15 169h1M20 169h1M22 169h1M24 169h1M6 170h1M9 170h2M12 170h2M20 170h2M7 171h1M11 171h1M7 172h2M11 172h1M7 174h1M15 174h1M17 174h2M7 175h2M19 175h2M24 175h1M7 176h1M7 177h1M9 177h1M13 177h1M21 177h3M11 178h1M7 179h1M9 179h4M18 179h1M22 179h2M9 180h4M22 180h1M7 181h1M9 181h2M9 183h1M7 184h1M13 184h2M17 184h2M24 184h1M9 185h4M23 185h1M11 186h1M17 186h1M7 187h1M9 187h1M11 187h1M18 187h1M21 187h1M7 188h4M12 188h1M6 189h3M14 189h1M16 189h1M3 190h1M12 191h1M15 191h1M17 191h1M1 192h1M24 192h1M10 193h2M6 194h2M10 194h1M17 194h1M19 194h2M24 194h1M12 195h1M17 195h1M22 195h1M24 195h1M16 196h1M19 196h1M22 196h2M18 197h2M21 197h2M9 198h1M12 198h1M16 198h1M20 198h2M24 198h1M23 199h1M11 200h1M23 200h1M6 201h1M13 202h2M19 202h1M21 202h2M6 203h1M12 203h1M14 203h1M16 203h1M19 203h1M22 203h3M6 204h1M9 204h1M12 204h1M14 204h2M17 204h2M21 204h1M23 204h1M7 205h1M9 205h1M12 205h1M6 207h1M12 208h1M17 208h1M19 208h1M6 209h1M16 209h1M24 211h1M22 212h1M21 215h1M14 216h1M17 216h1M22 216h1M6 217h1M23 217h1M15 218h1M18 218h1M6 220h1M23 225h1M6 228h1"/>
<path stroke="#fbceb6" d="M19 9h1M23 9h1M22 64h1M15 87h1M16 94h1M18 94h1M19 109h1M14 119h2M15 125h1M20 127h1M14 130h3M19 130h1M21 134h1M24 134h1M14 138h1M22 138h1M15 140h1M20 140h1M13 144h1M15 144h1M24 144h1M6 145h1M19 146h1M17 147h1M24 147h1M22 148h1M24 148h1M15 149h2M22 151h1M18 152h1M13 153h1M15 153h3M21 153h2M14 156h1M20 156h1M13 157h1M15 158h1M17 158h1M23 158h1M17 160h1M8 162h3M19 162h1M8 163h1M21 164h4M23 165h1M10 166h1M15 166h1M13 168h1M16 169h4M14 170h1M19 170h1M6 171h1M9 171h1M12 171h1M14 172h1M16 172h1M21 172h2M24 172h1M8 174h3M12 174h2M13 175h2M16 175h1M21 175h1M23 175h1M10 176h1M12 176h1M8 177h1M10 177h3M14 177h2M17 177h1M20 177h1M24 177h1M14 179h2M17 179h1M20 180h1M23 180h1M21 181h1M8 183h1M10 183h2M19 183h1M10 184h3M19 184h2M13 185h1M15 185h2M18 185h3M24 185h1M8 186h3M22 187h1M10 189h1M15 189h1M18 189h2M21 189h2M7 190h1M12 190h1M6 191h3M10 191h1M16 191h1M23 191h1M9 192h1M12 192h2M23 192h1M7 193h1M9 193h1M14 193h1M21 193h2M8 194h2M12 194h1M14 194h1M21 194h1M23 194h1M6 195h2M10 195h1M14 195h3M18 195h1M13 196h1M18 196h1M24 196h1M12 197h1M14 197h1M23 197h1M7 198h1M17 198h1M22 198h1M6 199h2M12 199h1M20 199h1M7 200h1M9 200h2M12 200h4M17 200h2M21 200h2M24 200h1M7 202h1M9 202h1M20 202h1M11 203h1M17 203h1M8 204h1M10 204h1M8 205h1M11 206h2M18 206h1M23 206h1M0 207h1M11 207h1M7 208h1M9 208h1M15 208h1M20 208h1M23 208h1M8 209h1M17 209h3M6 210h1M12 210h1M14 210h1M17 210h2M6 211h1M12 211h1M24 212h1M17 213h2M6 215h1M13 215h1M15 216h1M18 216h1M14 217h1M16 217h1M19 217h1M22 217h1M17 218h1M21 218h2M6 219h1M6 221h1M21 225h1M6 231h1M24 243h1"/>
<path stroke="#f8bda0" d="M24 9h1M14 64h1M16 89h1M15 94h1M16 103h2M22 103h1M15 109h1M18 119h1M18 127h1M24 127h1M13 130h1M23 140h1M18 146h1M9 148h1M18 148h1M13 149h1M21 149h1M18 151h1M14 152h2M23 152h1M14 153h1M24 154h1M19 157h1M24 157h1M14 160h1M19 160h1M15 162h1M21 162h1M23 162h1M23 163h2M14 164h1M18 164h1M20 164h1M20 165h1M12 168h1M15 168h1M17 168h2M15 170h2M13 172h1M23 172h1M19 174h1M21 174h2M15 175h1M17 175h1M20 176h1M16 177h1M18 177h1M19 179h1M24 179h1M17 180h3M21 180h1M13 181h1M17 181h1M20 181h1M23 181h2M20 183h1M24 183h1M6 184h1M8 184h1M15 184h1M22 185h1M11 188h1M9 189h1M20 189h1M23 189h1M8 190h4M9 191h1M11 191h1M14 191h1M7 192h2M11 192h1M14 192h4M20 192h2M12 193h1M17 193h2M20 193h1M11 194h1M16 194h1M18 194h1M22 194h1M8 195h2M11 195h1M19 195h1M21 195h1M23 195h1M7 196h1M10 196h3M15 196h1M20 196h2M7 197h1M9 197h1M11 197h1M13 197h1M15 197h1M24 197h1M8 198h1M14 198h1M19 198h1M9 199h1M11 199h1M14 199h1M17 199h1M19 199h1M19 200h1M8 201h1M10 201h3M8 202h1M10 202h3M15 202h1M17 202h1M7 203h4M18 203h1M21 203h1M7 204h1M11 204h1M22 204h1M11 205h1M7 206h1M9 206h2M19 206h1M24 206h1M10 207h1M12 207h1M8 208h1M10 208h2M13 208h2M21 208h1M7 209h1M13 209h2M7 210h2M11 210h1M15 210h1M8 211h1M11 211h1M23 211h1M6 212h1M23 212h1M6 213h1M14 213h1M20 213h2M23 213h2M6 214h1M11 215h1M15 215h1M17 215h1M23 215h2M6 216h1M13 216h1M8 217h2M13 217h1M17 217h1M20 217h2M7 218h2M10 218h5M20 218h1M10 220h1M24 222h1M21 223h1M18 225h3M22 225h1M6 227h1M6 229h1M24 229h1M13 234h1M16 234h1M19 234h1M22 234h1M22 235h2M17 238h1M23 238h2M15 243h1M19 243h1M21 243h1"/>
<path stroke="#f5ac8b" d="M18 89h2M20 103h1M13 109h1M16 127h1M22 127h1M13 148h1M15 148h1M17 148h1M20 148h2M23 148h1M17 149h1M16 152h1M24 152h1M15 160h1M14 162h1M16 162h2M22 162h1M15 163h1M18 163h1M20 168h3M17 172h2M16 174h1M18 175h1M22 175h1M19 176h1M22 176h1M13 179h1M20 179h1M13 180h1M14 181h2M19 181h1M14 183h1M21 183h1M18 186h2M24 186h1M20 188h1M24 188h1M13 191h1M10 192h1M18 192h1M22 192h1M8 193h1M19 193h1M23 193h1M15 194h1M8 196h2M14 196h1M8 197h1M10 197h1M16 197h2M10 198h2M8 199h1M16 199h1M21 199h2M8 200h1M7 201h1M9 201h1M16 202h1M13 203h1M15 203h1M20 203h1M23 205h1M8 206h1M15 206h1M17 206h1M20 206h3M7 207h3M14 207h1M23 207h1M16 208h1M18 208h1M22 208h1M9 209h1M12 209h1M9 210h2M17 211h2M20 211h2M11 212h1M14 212h2M17 212h2M20 212h1M8 213h1M13 213h1M19 213h1M7 214h2M11 214h2M8 215h1M12 215h1M16 215h1M19 215h2M22 215h1M11 216h1M15 217h1M9 218h1M7 219h4M12 219h1M12 220h1M7 221h1M14 222h1M19 222h1M23 222h1M6 223h1M22 223h1M24 223h1M6 224h2M10 224h1M14 225h1M12 227h1M6 234h1M18 234h1M24 234h1M21 235h1M24 235h1M6 237h1M13 238h1M16 238h1M18 238h1M21 238h2M24 242h1M14 243h1M17 243h2M23 243h1M22 244h1M24 244h1"/>
<path stroke="#ee9878" d="M17 89h1M20 89h2M14 94h1M21 101h1M21 103h1M14 109h1M14 127h2M23 130h1M14 148h1M16 148h1M19 148h1M13 152h1M22 152h1M17 154h1M23 154h1M13 160h1M23 160h1M13 162h1M18 162h1M20 162h1M13 164h1M15 164h1M21 165h1M24 165h1M16 168h1M23 168h1M15 172h1M14 174h1M16 176h1M23 176h2M14 180h2M18 181h1M22 181h1M13 183h1M16 183h1M18 183h1M23 183h1M14 185h1M17 185h1M13 186h3M13 188h2M16 188h3M22 188h1M24 191h1M19 192h1M13 193h1M24 193h1M13 194h1M13 195h1M17 196h1M10 199h1M15 199h1M17 201h1M23 201h1M19 205h1M16 206h1M20 207h3M24 207h1M10 209h2M7 211h1M9 211h1M14 211h1M16 211h1M9 212h1M12 212h2M16 212h1M19 212h1M9 213h4M15 213h2M22 213h1M10 214h1M9 215h2M14 215h1M18 215h1M7 216h4M12 216h1M10 217h3M23 218h1M7 220h3M11 220h1M17 221h1M6 222h1M13 222h1M16 222h3M20 222h2M23 223h1M12 224h1M6 225h1M17 225h1M6 226h1M7 228h3M12 228h1M10 229h1M12 229h1M6 230h1M24 230h1M24 231h1M6 232h1M15 234h1M21 234h1M23 234h1M6 235h1M17 235h1M6 236h1M14 238h2M20 238h1M6 239h1M22 242h1M16 243h1M22 243h1M20 244h2M24 248h1M20 249h1"/>
<path stroke="#e58268" d="M13 127h1M17 127h1M19 127h1M21 127h1M13 154h1M21 160h1M16 164h1M18 165h1M14 168h1M19 172h2M14 176h2M21 176h1M24 180h1M16 181h1M15 183h1M16 186h1M22 186h1M15 188h1M19 188h1M23 188h1M19 191h1M21 191h2M15 193h1M13 199h1M22 201h1M17 205h1M24 205h1M13 206h2M15 207h1M10 211h1M13 211h1M19 211h1M22 211h1M7 212h2M10 212h1M21 212h1M7 213h1M9 214h1M22 214h1M7 215h1M7 217h1M11 219h1M21 220h1M23 220h1M8 221h1M11 221h2M22 221h1M7 222h1M9 222h1M22 222h1M7 223h3M12 223h1M15 223h1M17 223h3M8 224h2M11 224h1M7 225h1M11 225h1M15 225h2M7 226h1M9 226h1M11 226h2M7 227h1M10 227h1M20 227h1M11 228h1M7 229h1M9 229h1M11 229h1M20 229h2M10 230h1M12 230h1M6 233h1M14 234h1M17 234h1M20 234h1M13 235h2M16 235h1M21 236h3M6 238h1M19 238h1M6 240h1M6 241h1M6 242h1M19 242h1M21 242h1M23 242h1M13 243h1M20 243h1M6 244h1M13 244h1M18 244h2M16 249h2M22 249h3"/>
<path stroke="#dc6d57" d="M15 101h1M17 101h3M22 101h2M23 127h1M14 154h3M18 154h3M22 154h1M18 160h1M20 160h1M22 160h1M19 164h1M14 165h1M16 165h2M22 165h1M17 176h2M22 183h1M21 186h1M23 186h1M21 188h1M20 190h2M20 191h1M16 193h1M20 201h1M24 201h1M14 205h1M18 205h1M21 205h1M17 207h2M21 214h1M23 214h1M20 220h1M24 220h1M9 221h2M13 221h1M16 221h1M23 221h2M8 222h1M11 222h2M15 222h1M11 223h1M13 223h2M20 223h1M24 224h1M10 225h1M12 225h1M8 226h1M8 227h2M19 227h1M24 227h1M10 228h1M21 228h1M19 229h1M23 229h1M7 230h1M9 230h1M11 230h1M15 230h1M7 231h1M9 231h2M12 231h1M7 232h1M18 235h1M20 235h1M7 236h1M11 236h1M14 236h1M20 236h1M15 244h3M23 244h1M21 246h2M16 248h1M22 248h1M14 249h2M19 249h1M21 249h1"/>
<path stroke="#d25749" d="M13 101h2M20 101h1M21 154h1M24 160h1M15 165h1M13 176h1M16 180h1M17 183h1M20 186h1M19 190h1M23 190h1M18 201h1M13 205h1M16 205h1M20 205h1M22 205h1M19 207h1M15 211h1M15 214h1M17 214h1M14 221h1M19 221h2M10 223h1M16 223h1M21 224h1M9 225h1M13 225h1M10 226h1M15 226h1M19 226h1M11 227h1M17 227h1M8 229h1M17 229h2M8 230h1M22 230h2M8 231h1M11 231h1M12 232h1M21 232h1M8 233h1M12 233h1M10 234h1M12 234h1M7 235h1M9 235h2M12 235h1M19 235h1M12 236h1M17 236h1M24 236h1M10 237h2M12 238h1M15 242h2M18 242h1M14 244h1M17 245h1M16 246h1M20 246h1M24 246h1M19 248h2"/>
<path stroke="#c6403e" d="M16 101h1M24 101h1M23 119h1M20 153h1M13 165h1M19 165h1M16 190h2M22 190h1M24 190h1M18 191h1M21 201h1M15 205h1M13 207h1M16 207h1M18 214h1M20 214h1M24 214h1M13 219h1M16 219h2M21 219h1M24 219h1M17 220h1M19 220h1M21 221h1M10 222h1M14 224h1M19 224h1M22 224h1M8 225h1M17 226h2M16 227h1M18 227h1M22 227h1M23 228h1M14 229h2M22 229h1M20 230h2M13 231h4M8 232h1M10 232h1M23 232h2M10 233h2M7 234h3M11 234h1M11 235h1M15 235h1M8 236h2M7 237h3M12 237h1M20 237h1M23 237h1M7 238h1M10 238h1M17 242h1M20 242h1M6 245h1M23 245h1M6 246h1M18 246h1M6 247h1M13 248h1M17 248h1M21 248h1M6 249h1M13 249h1M18 249h1"/>
<path stroke="#bb2a34" d="M22 119h1M19 153h1M15 190h1M18 190h1M14 201h3M19 201h1M14 214h1M16 214h1M20 219h1M23 219h1M16 220h1M18 220h1M18 221h1M20 224h1M16 226h1M15 227h1M21 227h1M23 227h1M19 228h1M13 229h1M16 229h1M14 230h1M16 230h1M19 230h1M17 231h1M23 231h1M9 232h1M11 232h1M19 232h1M22 232h1M7 233h1M9 233h1M8 235h1M10 236h1M13 236h1M15 236h2M18 236h2M16 237h1M22 237h1M24 237h1M9 238h1M11 238h1M12 240h1M11 241h1M23 241h2M12 242h2M15 245h2M24 245h1M13 246h1M15 246h1M19 246h1M23 246h1M23 247h1M6 248h1M14 248h1"/>
<path stroke="#ad162a" d="M13 190h1M19 214h1M15 219h1M19 219h1M22 219h1M13 220h3M22 220h1M15 221h1M13 224h1M15 224h3M23 224h1M14 226h1M20 226h2M23 226h2M13 227h2M13 228h1M22 228h1M24 228h1M13 230h1M17 230h1M22 231h1M16 232h3M20 232h1M15 237h1M21 237h1M8 238h1M10 239h1M24 239h1M7 240h1M10 240h2M7 241h1M10 241h1M12 241h1M20 241h2M7 242h1M10 242h1M6 243h1M12 244h1M18 245h1M20 245h1M15 248h1M23 248h1"/>
<path stroke="#960f26" d="M14 190h1M13 201h1M13 214h1M14 219h1M18 219h1M13 226h1M16 228h2M20 228h1M18 230h1M21 231h1M14 232h2M13 237h1M19 237h1M7 239h1M9 239h1M11 239h2M19 239h1M21 239h1M8 240h2M8 241h2M8 242h1M11 242h1M14 242h1M7 244h1M21 245h1M12 246h1M14 246h1M17 246h1M16 247h3M21 247h2M18 248h1"/>
<path stroke="#7e0823" d="M22 226h1M14 228h1M19 231h1M17 237h2M8 239h1M20 239h1M22 239h1M22 240h1M18 241h2M9 242h1M10 244h1M14 245h1M19 245h1M19 247h1M24 247h1"/>
<path stroke="#67001f" d="M18 224h1M15 228h1M18 228h1M18 231h1M20 231h1M13 232h1M13 233h12M14 237h1M13 239h6M23 239h1M13 240h9M23 240h2M13 241h5M22 241h1M7 243h6M8 244h2M11 244h1M7 245h7M22 245h1M7 246h5M7 247h9M20 247h1M7 248h6M7 249h6"/>
</g></g>
<line x1="518.7" y1="436.8" x2="518.7" y2="688" stroke="#231f20" stroke-width="2.3" stroke-dasharray="13.8 6.2"/>
<line x1="834" y1="436.8" x2="834" y2="688" stroke="#231f20" stroke-width="2.3" stroke-dasharray="13.8 6.2"/>
<line x1="916" y1="436.8" x2="916" y2="688" stroke="#231f20" stroke-width="2.3" stroke-dasharray="13.8 6.2"/>
<rect x="518.70" y="423.60" width="54.10" height="5.00" fill="#ed1c24"/>
<rect x="834.00" y="423.60" width="54.00" height="5.00" fill="#ed1c24"/>
<rect x="915.60" y="423.60" width="26.80" height="5.00" fill="#ed1c24"/>
<text x="519.5" y="413.5" font-size="33.3" fill="#ed1c24">CS<tspan font-size="21" dy="-12" dx="2">+</tspan><tspan dy="12" font-size="1">&#8203;</tspan></text>
<text x="837.6" y="413.3" font-size="34.3" fill="#ed1c24">CS<tspan font-size="21" dy="-12" dx="0.8">+</tspan><tspan dy="12" font-size="1">&#8203;</tspan>US</text>
<text x="453.5" y="450.3" font-size="33" fill="#231f20" text-anchor="end">1</text>
<text x="455.8" y="696.8" font-size="34" fill="#231f20" text-anchor="end">339</text>
<text transform="translate(426.3,642.5) rotate(-90)" font-size="35" fill="#231f20">Neuron ID</text>
<line x1="465.4" y1="697" x2="518.7" y2="697" stroke="#231f20" stroke-width="2.2"/>
<text x="708.8" y="462.8" font-size="30" fill="#666666" font-weight="bold">H</text>
<text x="1026" y="465" font-size="30" fill="#6b6b6b" font-weight="bold">C</text>
<rect x="1063.00" y="439.80" width="13.70" height="119.80" fill="url(#cb)"/>
<line x1="1076.6" y1="466.3" x2="1084" y2="466.3" stroke="#231f20" stroke-width="2.2"/>
<line x1="1076.6" y1="502.1" x2="1084" y2="502.1" stroke="#231f20" stroke-width="2.2"/>
<line x1="1076.6" y1="541.1" x2="1088.6" y2="541.1" stroke="#231f20" stroke-width="2.2"/>
<text x="1084.5" y="473.6" font-size="30" fill="#231f20">20</text>
<text x="1084.5" y="512" font-size="30" fill="#231f20">0</text>
<text x="1088.7" y="552.3" font-size="30" fill="#231f20">20</text>
<text x="1019.5" y="410.6" font-size="29.7" fill="#231f20"><tspan font-family="'Liberation Serif', serif">&#916;</tspan>F/F<tspan font-size="13" dy="3" font-family="'Liberation Serif', serif">o</tspan><tspan dy="-3">, %</tspan></text>
<text x="14" y="29.3" font-size="34" fill="#231f20" font-weight="bold">a</text>
<text x="1018" y="30" font-size="34" fill="#231f20" font-weight="bold">b</text>
<text x="15" y="376" font-size="34" fill="#231f20" font-weight="bold">c</text>
<text x="397.5" y="376" font-size="34" fill="#231f20" font-weight="bold">d</text>
<text x="1138.5" y="376" font-size="34" fill="#231f20" font-weight="bold">e</text>
<text x="15" y="784.5" font-size="34" fill="#231f20" font-weight="bold">f</text>
<text x="631" y="786.5" font-size="34" fill="#231f20" font-weight="bold">g</text>
<text x="1143" y="784.4" font-size="34" fill="#231f20" font-weight="bold">h</text>
<polyline points="39.7,688.7 45.2,697.7 50.6,686.9 54.2,692.3 57.1,681.5 62.1,695.9 68.7,688.7 72.3,690.5 76.6,682.5 81.3,686.9 83.8,687.6 86.0,663.4 88.5,667.0 92.1,679.7 94.7,678.9 97.6,695.9 103.0,683.3 107.3,692.3 112.0,684.0 115.6,689.8 118.2,688.7 121.8,697.7 126.5,700.3 130.8,695.9 135.5,679.7 139.1,689.8 142.7,688.7 146.3,692.3 150.0,691.6 155.4,697.0 160.8,700.6 164.4,692.3 166.9,694.1 169.8,691.2 173.4,692.3 177.1,690.5 179.6,693.4 181.8,690.5 184.3,695.9 185.0,705.0" fill="none" stroke="#be1e3c" stroke-width="2.2" stroke-linejoin="round"/>
<polyline points="209.6,691.2 214.3,688.0 221.1,693.4 231.3,688.7 234.1,694.1 240.3,689.4 242.8,693.0 251.9,692.3 256.5,658.0 260.9,662.7 267.4,666.3 270.3,673.2 273.9,656.2 276.4,656.2 283.6,677.9 289.1,690.5 295.6,706.8 301.7,706.0 307.1,712.2 312.6,714.0 318.0,710.4 320.9,714.0 327.0,709.3 329.5,712.2 332.4,710.4 335.3,715.8 339.7,709.3 342.5,711.5 346.2,703.9 348.7,706.8" fill="none" stroke="#be1e3c" stroke-width="2.2" stroke-linejoin="round"/>
<rect x="82.40" y="644.60" width="15.20" height="5.00" fill="#ed1c24"/>
<rect x="251.00" y="644.60" width="14.60" height="5.00" fill="#ed1c24"/>
<rect x="271.70" y="644.60" width="8.30" height="5.00" fill="#ed1c24"/>
<text x="78.7" y="625.2" font-size="35.5" fill="#ed1c24">CS<tspan font-size="21" dy="-12" dx="-0.5">+</tspan><tspan dy="12" font-size="1">&#8203;</tspan></text>
<text x="211.6" y="625.2" font-size="35.3" fill="#ed1c24">CS<tspan font-size="21" dy="-12" dx="-0.7">+</tspan><tspan dy="12" font-size="1">&#8203;</tspan>US</text>
<line x1="35" y1="677.8" x2="35" y2="735.6" stroke="#231f20" stroke-width="2.2"/>
<line x1="33.9" y1="734.6" x2="69.7" y2="734.6" stroke="#231f20" stroke-width="2.2"/>
<text x="45.8" y="408" font-size="30.4" fill="#231f20">Longitudinal Imaging</text>
<line x1="1319.3" y1="625.3" x2="1319.3" y2="406" stroke="#c4c6c8" stroke-width="2.2" stroke-dasharray="9.8 8.2"/>
<line x1="1245.6" y1="552.8" x2="1468.3" y2="552.8" stroke="#c4c6c8" stroke-width="2.2" stroke-dasharray="9.8 8.2"/>
<line x1="1259.8" y1="604.6" x2="1438" y2="449.2" stroke="#8c8c8c" stroke-width="2.4"/>
<circle cx="1321.8" cy="543.9" r="5.4" fill="#fff" stroke="#3a3a3a" stroke-width="0.8"/>
<circle cx="1322.2" cy="549.6" r="5.4" fill="#fff" stroke="#3a3a3a" stroke-width="0.8"/>
<circle cx="1312.8" cy="557.0" r="5.4" fill="#fff" stroke="#3a3a3a" stroke-width="0.8"/>
<circle cx="1340.0" cy="528.7" r="5.4" fill="#fff" stroke="#3a3a3a" stroke-width="0.8"/>
<circle cx="1339.0" cy="530.9" r="5.4" fill="#fff" stroke="#3a3a3a" stroke-width="0.8"/>
<circle cx="1330.4" cy="538.8" r="5.4" fill="#fff" stroke="#3a3a3a" stroke-width="0.8"/>
<circle cx="1303.1" cy="557.7" r="5.4" fill="#fff" stroke="#3a3a3a" stroke-width="0.8"/>
<circle cx="1331.9" cy="535.2" r="5.4" fill="#fff" stroke="#3a3a3a" stroke-width="0.8"/>
<circle cx="1302.7" cy="577.1" r="5.4" fill="#fff" stroke="#3a3a3a" stroke-width="0.8"/>
<circle cx="1313.4" cy="558.4" r="5.4" fill="#fff" stroke="#3a3a3a" stroke-width="0.8"/>
<circle cx="1329.3" cy="541.5" r="5.4" fill="#fff" stroke="#3a3a3a" stroke-width="0.8"/>
<circle cx="1332.1" cy="543.4" r="5.4" fill="#fff" stroke="#3a3a3a" stroke-width="0.8"/>
<circle cx="1329.3" cy="538.2" r="5.4" fill="#fff" stroke="#3a3a3a" stroke-width="0.8"/>
<circle cx="1316.4" cy="539.7" r="5.4" fill="#fff" stroke="#3a3a3a" stroke-width="0.8"/>
<circle cx="1332.6" cy="529.4" r="5.4" fill="#fff" stroke="#3a3a3a" stroke-width="0.8"/>
<circle cx="1317.0" cy="557.3" r="5.4" fill="#fff" stroke="#3a3a3a" stroke-width="0.8"/>
<circle cx="1320.6" cy="549.5" r="5.4" fill="#fff" stroke="#3a3a3a" stroke-width="0.8"/>
<circle cx="1333.6" cy="535.6" r="5.4" fill="#fff" stroke="#3a3a3a" stroke-width="0.8"/>
<circle cx="1319.3" cy="556.9" r="5.4" fill="#fff" stroke="#3a3a3a" stroke-width="0.8"/>
<circle cx="1318.3" cy="541.7" r="5.4" fill="#fff" stroke="#3a3a3a" stroke-width="0.8"/>
<circle cx="1314.5" cy="552.2" r="5.4" fill="#fff" stroke="#3a3a3a" stroke-width="0.8"/>
<circle cx="1330.9" cy="550.8" r="5.4" fill="#fff" stroke="#3a3a3a" stroke-width="0.8"/>
<circle cx="1325.8" cy="534.5" r="5.4" fill="#fff" stroke="#3a3a3a" stroke-width="0.8"/>
<circle cx="1323.8" cy="552.0" r="5.4" fill="#fff" stroke="#3a3a3a" stroke-width="0.8"/>
<circle cx="1331.8" cy="539.4" r="5.4" fill="#fff" stroke="#3a3a3a" stroke-width="0.8"/>
<circle cx="1305.7" cy="555.5" r="5.4" fill="#fff" stroke="#3a3a3a" stroke-width="0.8"/>
<circle cx="1334.1" cy="530.0" r="5.4" fill="#fff" stroke="#3a3a3a" stroke-width="0.8"/>
<circle cx="1344.3" cy="525.4" r="5.4" fill="#fff" stroke="#3a3a3a" stroke-width="0.8"/>
<circle cx="1326.8" cy="552.9" r="5.4" fill="#fff" stroke="#3a3a3a" stroke-width="0.8"/>
<circle cx="1333.4" cy="542.1" r="5.4" fill="#fff" stroke="#3a3a3a" stroke-width="0.8"/>
<circle cx="1319.2" cy="559.3" r="5.4" fill="#fff" stroke="#3a3a3a" stroke-width="0.8"/>
<circle cx="1312.4" cy="559.8" r="5.4" fill="#fff" stroke="#3a3a3a" stroke-width="0.8"/>
<circle cx="1342.3" cy="544.8" r="5.4" fill="#fff" stroke="#3a3a3a" stroke-width="0.8"/>
<circle cx="1305.8" cy="559.8" r="5.4" fill="#fff" stroke="#3a3a3a" stroke-width="0.8"/>
<circle cx="1344.4" cy="523.8" r="5.4" fill="#fff" stroke="#3a3a3a" stroke-width="0.8"/>
<circle cx="1330.0" cy="546.0" r="5.4" fill="#fff" stroke="#3a3a3a" stroke-width="0.8"/>
<circle cx="1310.3" cy="550.4" r="5.4" fill="#fff" stroke="#3a3a3a" stroke-width="0.8"/>
<circle cx="1339.8" cy="530.8" r="5.4" fill="#fff" stroke="#3a3a3a" stroke-width="0.8"/>
<circle cx="1328.5" cy="538.7" r="5.4" fill="#fff" stroke="#3a3a3a" stroke-width="0.8"/>
<circle cx="1346.4" cy="521.7" r="5.4" fill="#fff" stroke="#3a3a3a" stroke-width="0.8"/>
<circle cx="1332.1" cy="534.7" r="5.4" fill="#fff" stroke="#3a3a3a" stroke-width="0.8"/>
<circle cx="1304.4" cy="553.4" r="5.4" fill="#fff" stroke="#3a3a3a" stroke-width="0.8"/>
<circle cx="1337.9" cy="529.8" r="5.4" fill="#fff" stroke="#3a3a3a" stroke-width="0.8"/>
<circle cx="1299.0" cy="572.2" r="5.4" fill="#fff" stroke="#3a3a3a" stroke-width="0.8"/>
<circle cx="1336.4" cy="548.3" r="5.4" fill="#fff" stroke="#3a3a3a" stroke-width="0.8"/>
<circle cx="1322.8" cy="539.3" r="5.4" fill="#fff" stroke="#3a3a3a" stroke-width="0.8"/>
<circle cx="1307.8" cy="548.0" r="5.4" fill="#fff" stroke="#3a3a3a" stroke-width="0.8"/>
<circle cx="1332.5" cy="539.4" r="5.4" fill="#fff" stroke="#3a3a3a" stroke-width="0.8"/>
<circle cx="1329.5" cy="536.2" r="5.4" fill="#fff" stroke="#3a3a3a" stroke-width="0.8"/>
<circle cx="1326.8" cy="534.9" r="5.4" fill="#fff" stroke="#3a3a3a" stroke-width="0.8"/>
<circle cx="1316.4" cy="555.4" r="5.4" fill="#fff" stroke="#3a3a3a" stroke-width="0.8"/>
<circle cx="1339.0" cy="532.5" r="5.4" fill="#fff" stroke="#3a3a3a" stroke-width="0.8"/>
<circle cx="1313.5" cy="547.9" r="5.4" fill="#fff" stroke="#3a3a3a" stroke-width="0.8"/>
<circle cx="1344.7" cy="531.1" r="5.4" fill="#fff" stroke="#3a3a3a" stroke-width="0.8"/>
<circle cx="1306.9" cy="561.7" r="5.4" fill="#fff" stroke="#3a3a3a" stroke-width="0.8"/>
<circle cx="1323.2" cy="548.6" r="5.4" fill="#fff" stroke="#3a3a3a" stroke-width="0.8"/>
<circle cx="1343.9" cy="536.1" r="5.4" fill="#fff" stroke="#3a3a3a" stroke-width="0.8"/>
<circle cx="1341.9" cy="539.5" r="5.4" fill="#fff" stroke="#3a3a3a" stroke-width="0.8"/>
<circle cx="1314.7" cy="549.1" r="5.4" fill="#fff" stroke="#3a3a3a" stroke-width="0.8"/>
<circle cx="1340.2" cy="525.3" r="5.4" fill="#fff" stroke="#3a3a3a" stroke-width="0.8"/>
<circle cx="1329.8" cy="539.7" r="5.4" fill="#fff" stroke="#3a3a3a" stroke-width="0.8"/>
<circle cx="1327.2" cy="538.7" r="5.4" fill="#fff" stroke="#3a3a3a" stroke-width="0.8"/>
<circle cx="1322.9" cy="544.7" r="5.4" fill="#fff" stroke="#3a3a3a" stroke-width="0.8"/>
<circle cx="1332.8" cy="538.1" r="5.4" fill="#fff" stroke="#3a3a3a" stroke-width="0.8"/>
<circle cx="1335.4" cy="531.7" r="5.4" fill="#fff" stroke="#3a3a3a" stroke-width="0.8"/>
<circle cx="1351.9" cy="519.1" r="5.4" fill="#fff" stroke="#3a3a3a" stroke-width="0.8"/>
<circle cx="1319.5" cy="552.4" r="5.4" fill="#fff" stroke="#3a3a3a" stroke-width="0.8"/>
<circle cx="1325.0" cy="538.0" r="5.4" fill="#fff" stroke="#3a3a3a" stroke-width="0.8"/>
<circle cx="1320.7" cy="545.8" r="5.4" fill="#fff" stroke="#3a3a3a" stroke-width="0.8"/>
<circle cx="1349.6" cy="542.4" r="5.4" fill="#fff" stroke="#3a3a3a" stroke-width="0.8"/>
<circle cx="1310.3" cy="555.9" r="5.4" fill="#fff" stroke="#3a3a3a" stroke-width="0.8"/>
<circle cx="1330.5" cy="538.3" r="5.4" fill="#fff" stroke="#3a3a3a" stroke-width="0.8"/>
<circle cx="1319.5" cy="544.9" r="5.4" fill="#fff" stroke="#3a3a3a" stroke-width="0.8"/>
<circle cx="1329.0" cy="545.3" r="5.4" fill="#fff" stroke="#3a3a3a" stroke-width="0.8"/>
<circle cx="1357.5" cy="514.0" r="5.4" fill="#fff" stroke="#3a3a3a" stroke-width="0.8"/>
<circle cx="1317.8" cy="551.9" r="5.4" fill="#fff" stroke="#3a3a3a" stroke-width="0.8"/>
<circle cx="1322.2" cy="547.8" r="5.4" fill="#fff" stroke="#3a3a3a" stroke-width="0.8"/>
<circle cx="1338.6" cy="541.7" r="5.4" fill="#fff" stroke="#3a3a3a" stroke-width="0.8"/>
<circle cx="1324.3" cy="538.4" r="5.4" fill="#fff" stroke="#3a3a3a" stroke-width="0.8"/>
<circle cx="1336.6" cy="523.8" r="5.4" fill="#fff" stroke="#3a3a3a" stroke-width="0.8"/>
<circle cx="1302.6" cy="567.0" r="5.4" fill="#fff" stroke="#3a3a3a" stroke-width="0.8"/>
<circle cx="1320.7" cy="544.1" r="5.4" fill="#fff" stroke="#3a3a3a" stroke-width="0.8"/>
<circle cx="1339.7" cy="551.9" r="5.4" fill="#fff" stroke="#3a3a3a" stroke-width="0.8"/>
<circle cx="1339.7" cy="542.8" r="5.4" fill="#fff" stroke="#3a3a3a" stroke-width="0.8"/>
<circle cx="1334.3" cy="547.8" r="5.4" fill="#fff" stroke="#3a3a3a" stroke-width="0.8"/>
<circle cx="1327.5" cy="533.9" r="5.4" fill="#fff" stroke="#3a3a3a" stroke-width="0.8"/>
<circle cx="1323.2" cy="545.0" r="5.4" fill="#fff" stroke="#3a3a3a" stroke-width="0.8"/>
<circle cx="1335.8" cy="534.5" r="5.4" fill="#fff" stroke="#3a3a3a" stroke-width="0.8"/>
<circle cx="1324.0" cy="534.4" r="5.4" fill="#fff" stroke="#3a3a3a" stroke-width="0.8"/>
<circle cx="1339.1" cy="534.8" r="5.4" fill="#fff" stroke="#3a3a3a" stroke-width="0.8"/>
<circle cx="1361.7" cy="521.4" r="5.4" fill="#fff" stroke="#3a3a3a" stroke-width="0.8"/>
<circle cx="1337.4" cy="536.1" r="5.4" fill="#fff" stroke="#3a3a3a" stroke-width="0.8"/>
<circle cx="1327.0" cy="538.0" r="5.4" fill="#fff" stroke="#3a3a3a" stroke-width="0.8"/>
<circle cx="1328.2" cy="537.4" r="5.4" fill="#fff" stroke="#3a3a3a" stroke-width="0.8"/>
<circle cx="1304.9" cy="573.5" r="5.4" fill="#fff" stroke="#3a3a3a" stroke-width="0.8"/>
<circle cx="1333.4" cy="544.7" r="5.4" fill="#fff" stroke="#3a3a3a" stroke-width="0.8"/>
<circle cx="1311.6" cy="567.4" r="5.4" fill="#fff" stroke="#3a3a3a" stroke-width="0.8"/>
<circle cx="1342.0" cy="524.6" r="5.4" fill="#fff" stroke="#3a3a3a" stroke-width="0.8"/>
<circle cx="1344.8" cy="534.6" r="5.4" fill="#fff" stroke="#3a3a3a" stroke-width="0.8"/>
<circle cx="1325.2" cy="553.1" r="5.4" fill="#fff" stroke="#3a3a3a" stroke-width="0.8"/>
<circle cx="1335.4" cy="524.1" r="5.4" fill="#fff" stroke="#3a3a3a" stroke-width="0.8"/>
<circle cx="1313.4" cy="543.5" r="5.4" fill="#fff" stroke="#3a3a3a" stroke-width="0.8"/>
<circle cx="1338.3" cy="534.6" r="5.4" fill="#fff" stroke="#3a3a3a" stroke-width="0.8"/>
<circle cx="1299.0" cy="557.1" r="5.4" fill="#fff" stroke="#3a3a3a" stroke-width="0.8"/>
<circle cx="1323.9" cy="550.3" r="5.4" fill="#fff" stroke="#3a3a3a" stroke-width="0.8"/>
<circle cx="1330.5" cy="537.1" r="5.4" fill="#fff" stroke="#3a3a3a" stroke-width="0.8"/>
<circle cx="1345.1" cy="534.9" r="5.4" fill="#fff" stroke="#3a3a3a" stroke-width="0.8"/>
<circle cx="1340.3" cy="520.6" r="5.4" fill="#fff" stroke="#3a3a3a" stroke-width="0.8"/>
<circle cx="1344.5" cy="529.3" r="5.4" fill="#fff" stroke="#3a3a3a" stroke-width="0.8"/>
<circle cx="1315.3" cy="545.8" r="5.4" fill="#fff" stroke="#3a3a3a" stroke-width="0.8"/>
<circle cx="1326.7" cy="542.5" r="5.4" fill="#fff" stroke="#3a3a3a" stroke-width="0.8"/>
<circle cx="1344.1" cy="530.2" r="5.4" fill="#fff" stroke="#3a3a3a" stroke-width="0.8"/>
<circle cx="1300.6" cy="560.1" r="5.4" fill="#fff" stroke="#3a3a3a" stroke-width="0.8"/>
<circle cx="1329.4" cy="545.6" r="5.4" fill="#fff" stroke="#3a3a3a" stroke-width="0.8"/>
<circle cx="1325.1" cy="538.7" r="5.4" fill="#fff" stroke="#3a3a3a" stroke-width="0.8"/>
<circle cx="1326.3" cy="534.0" r="5.4" fill="#fff" stroke="#3a3a3a" stroke-width="0.8"/>
<circle cx="1324.4" cy="537.7" r="5.4" fill="#fff" stroke="#3a3a3a" stroke-width="0.8"/>
<circle cx="1345.0" cy="515.6" r="5.4" fill="#fff" stroke="#3a3a3a" stroke-width="0.8"/>
<circle cx="1316.3" cy="546.0" r="5.4" fill="#fff" stroke="#3a3a3a" stroke-width="0.8"/>
<circle cx="1300.3" cy="574.4" r="5.4" fill="#fff" stroke="#3a3a3a" stroke-width="0.8"/>
<circle cx="1299.1" cy="559.5" r="5.4" fill="#fff" stroke="#3a3a3a" stroke-width="0.8"/>
<circle cx="1308.8" cy="559.0" r="5.4" fill="#fff" stroke="#3a3a3a" stroke-width="0.8"/>
<circle cx="1322.7" cy="547.1" r="5.4" fill="#fff" stroke="#3a3a3a" stroke-width="0.8"/>
<circle cx="1317.3" cy="549.8" r="5.4" fill="#fff" stroke="#3a3a3a" stroke-width="0.8"/>
<circle cx="1349.0" cy="523.7" r="5.4" fill="#fff" stroke="#3a3a3a" stroke-width="0.8"/>
<circle cx="1332.3" cy="531.2" r="5.4" fill="#fff" stroke="#3a3a3a" stroke-width="0.8"/>
<circle cx="1322.6" cy="556.3" r="5.4" fill="#fff" stroke="#3a3a3a" stroke-width="0.8"/>
<circle cx="1317.8" cy="543.2" r="5.4" fill="#fff" stroke="#3a3a3a" stroke-width="0.8"/>
<circle cx="1303.3" cy="568.1" r="5.4" fill="#fff" stroke="#3a3a3a" stroke-width="0.8"/>
<circle cx="1338.6" cy="527.2" r="5.4" fill="#fff" stroke="#3a3a3a" stroke-width="0.8"/>
<circle cx="1325.3" cy="538.7" r="5.4" fill="#fff" stroke="#3a3a3a" stroke-width="0.8"/>
<circle cx="1327.4" cy="551.5" r="5.4" fill="#fff" stroke="#3a3a3a" stroke-width="0.8"/>
<circle cx="1304.4" cy="567.5" r="5.4" fill="#fff" stroke="#3a3a3a" stroke-width="0.8"/>
<circle cx="1337.5" cy="538.2" r="5.4" fill="#fff" stroke="#3a3a3a" stroke-width="0.8"/>
<circle cx="1313.2" cy="560.8" r="5.4" fill="#fff" stroke="#3a3a3a" stroke-width="0.8"/>
<circle cx="1304.9" cy="563.3" r="5.4" fill="#fff" stroke="#3a3a3a" stroke-width="0.8"/>
<circle cx="1309.5" cy="555.7" r="5.4" fill="#fff" stroke="#3a3a3a" stroke-width="0.8"/>
<circle cx="1316.7" cy="566.5" r="5.4" fill="#fff" stroke="#3a3a3a" stroke-width="0.8"/>
<circle cx="1334.8" cy="538.4" r="5.4" fill="#fff" stroke="#3a3a3a" stroke-width="0.8"/>
<circle cx="1329.1" cy="544.7" r="5.4" fill="#fff" stroke="#3a3a3a" stroke-width="0.8"/>
<circle cx="1335.6" cy="530.2" r="5.4" fill="#fff" stroke="#3a3a3a" stroke-width="0.8"/>
<circle cx="1334.1" cy="534.6" r="5.4" fill="#fff" stroke="#3a3a3a" stroke-width="0.8"/>
<circle cx="1342.9" cy="524.4" r="5.4" fill="#fff" stroke="#3a3a3a" stroke-width="0.8"/>
<circle cx="1331.2" cy="554.9" r="5.4" fill="#fff" stroke="#3a3a3a" stroke-width="0.8"/>
<circle cx="1410.8" cy="462.4" r="5.4" fill="#fff" stroke="#3a3a3a" stroke-width="0.8"/>
<circle cx="1395.7" cy="483.6" r="5.4" fill="#fff" stroke="#3a3a3a" stroke-width="0.8"/>
<circle cx="1379.5" cy="493.3" r="5.4" fill="#fff" stroke="#3a3a3a" stroke-width="0.8"/>
<circle cx="1373.0" cy="502.9" r="5.4" fill="#fff" stroke="#3a3a3a" stroke-width="0.8"/>
<circle cx="1363.4" cy="493.3" r="5.4" fill="#fff" stroke="#3a3a3a" stroke-width="0.8"/>
<circle cx="1362.9" cy="511.3" r="5.4" fill="#fff" stroke="#3a3a3a" stroke-width="0.8"/>
<circle cx="1352.5" cy="544.6" r="5.4" fill="#fff" stroke="#3a3a3a" stroke-width="0.8"/>
<circle cx="1341.2" cy="562.2" r="5.4" fill="#fff" stroke="#3a3a3a" stroke-width="0.8"/>
<circle cx="1329.6" cy="569.9" r="5.4" fill="#fff" stroke="#3a3a3a" stroke-width="0.8"/>
<circle cx="1289.6" cy="581.9" r="5.4" fill="#fff" stroke="#3a3a3a" stroke-width="0.8"/>
<circle cx="1297.6" cy="560.2" r="5.4" fill="#fff" stroke="#3a3a3a" stroke-width="0.8"/>
<circle cx="1355.0" cy="520.0" r="5.4" fill="#fff" stroke="#3a3a3a" stroke-width="0.8"/>
<circle cx="1358.0" cy="530.0" r="5.4" fill="#fff" stroke="#3a3a3a" stroke-width="0.8"/>
<circle cx="1340.0" cy="528.4" r="5.4" fill="#fff" stroke="#ee2a30" stroke-width="0.8"/>
<circle cx="1327.2" cy="560.4" r="5.4" fill="#fff" stroke="#ee2a30" stroke-width="0.8"/>
<circle cx="1339.3" cy="539.7" r="5.4" fill="#fff" stroke="#ee2a30" stroke-width="0.8"/>
<circle cx="1339.8" cy="530.3" r="5.4" fill="#fff" stroke="#ee2a30" stroke-width="0.8"/>
<circle cx="1334.7" cy="538.1" r="5.4" fill="#fff" stroke="#ee2a30" stroke-width="0.8"/>
<circle cx="1325.3" cy="535.4" r="5.4" fill="#fff" stroke="#ee2a30" stroke-width="0.8"/>
<circle cx="1324.1" cy="548.1" r="5.4" fill="#fff" stroke="#ee2a30" stroke-width="0.8"/>
<circle cx="1324.5" cy="544.9" r="5.4" fill="#fff" stroke="#ee2a30" stroke-width="0.8"/>
<circle cx="1312.7" cy="533.6" r="5.4" fill="#fff" stroke="#ee2a30" stroke-width="0.8"/>
<circle cx="1340.2" cy="541.6" r="5.4" fill="#fff" stroke="#ee2a30" stroke-width="0.8"/>
<circle cx="1333.9" cy="518.0" r="5.4" fill="#fff" stroke="#ee2a30" stroke-width="0.8"/>
<circle cx="1329.7" cy="529.6" r="5.4" fill="#fff" stroke="#ee2a30" stroke-width="0.8"/>
<circle cx="1307.5" cy="567.8" r="5.4" fill="#fff" stroke="#ee2a30" stroke-width="0.8"/>
<circle cx="1322.3" cy="537.6" r="5.4" fill="#fff" stroke="#ee2a30" stroke-width="0.8"/>
<circle cx="1307.2" cy="559.7" r="5.4" fill="#fff" stroke="#ee2a30" stroke-width="0.8"/>
<circle cx="1325.8" cy="544.5" r="5.4" fill="#fff" stroke="#ee2a30" stroke-width="0.8"/>
<circle cx="1352.5" cy="516.1" r="5.4" fill="#fff" stroke="#ee2a30" stroke-width="0.8"/>
<circle cx="1316.6" cy="553.7" r="5.4" fill="#fff" stroke="#ee2a30" stroke-width="0.8"/>
<circle cx="1348.4" cy="518.3" r="5.4" fill="#fff" stroke="#ee2a30" stroke-width="0.8"/>
<circle cx="1320.1" cy="541.6" r="5.4" fill="#fff" stroke="#ee2a30" stroke-width="0.8"/>
<circle cx="1326.5" cy="546.4" r="5.4" fill="#fff" stroke="#ee2a30" stroke-width="0.8"/>
<circle cx="1325.5" cy="539.3" r="5.4" fill="#fff" stroke="#ee2a30" stroke-width="0.8"/>
<circle cx="1333.0" cy="532.6" r="5.4" fill="#fff" stroke="#ee2a30" stroke-width="0.8"/>
<circle cx="1334.1" cy="534.0" r="5.4" fill="#fff" stroke="#ee2a30" stroke-width="0.8"/>
<circle cx="1318.3" cy="550.6" r="5.4" fill="#fff" stroke="#ee2a30" stroke-width="0.8"/>
<circle cx="1326.9" cy="536.4" r="5.4" fill="#fff" stroke="#ee2a30" stroke-width="0.8"/>
<circle cx="1319.1" cy="539.1" r="5.4" fill="#fff" stroke="#ee2a30" stroke-width="0.8"/>
<circle cx="1338.5" cy="525.2" r="5.4" fill="#fff" stroke="#ee2a30" stroke-width="0.8"/>
<circle cx="1326.6" cy="547.2" r="5.4" fill="#fff" stroke="#ee2a30" stroke-width="0.8"/>
<circle cx="1322.4" cy="533.7" r="5.4" fill="#fff" stroke="#ee2a30" stroke-width="0.8"/>
<circle cx="1303.5" cy="564.6" r="5.4" fill="#fff" stroke="#ee2a30" stroke-width="0.8"/>
<circle cx="1341.3" cy="525.8" r="5.4" fill="#fff" stroke="#ee2a30" stroke-width="0.8"/>
<circle cx="1318.7" cy="548.3" r="5.4" fill="#fff" stroke="#ee2a30" stroke-width="0.8"/>
<circle cx="1332.6" cy="532.2" r="5.4" fill="#fff" stroke="#ee2a30" stroke-width="0.8"/>
<circle cx="1327.2" cy="528.2" r="5.4" fill="#fff" stroke="#ee2a30" stroke-width="0.8"/>
<circle cx="1339.7" cy="533.0" r="5.4" fill="#fff" stroke="#ee2a30" stroke-width="0.8"/>
<circle cx="1326.3" cy="544.6" r="5.4" fill="#fff" stroke="#ee2a30" stroke-width="0.8"/>
<circle cx="1339.2" cy="516.8" r="5.4" fill="#fff" stroke="#ee2a30" stroke-width="0.8"/>
<circle cx="1332.2" cy="534.2" r="5.4" fill="#fff" stroke="#ee2a30" stroke-width="0.8"/>
<circle cx="1323.2" cy="524.3" r="5.4" fill="#fff" stroke="#ee2a30" stroke-width="0.8"/>
<circle cx="1324.6" cy="538.2" r="5.4" fill="#fff" stroke="#ee2a30" stroke-width="0.8"/>
<circle cx="1321.0" cy="538.6" r="5.4" fill="#fff" stroke="#ee2a30" stroke-width="0.8"/>
<circle cx="1333.4" cy="528.8" r="5.4" fill="#fff" stroke="#ee2a30" stroke-width="0.8"/>
<circle cx="1328.6" cy="535.7" r="5.4" fill="#fff" stroke="#ee2a30" stroke-width="0.8"/>
<circle cx="1327.7" cy="538.7" r="5.4" fill="#fff" stroke="#ee2a30" stroke-width="0.8"/>
<circle cx="1328.9" cy="534.1" r="5.4" fill="#fff" stroke="#ee2a30" stroke-width="0.8"/>
<circle cx="1319.9" cy="543.2" r="5.4" fill="#fff" stroke="#ee2a30" stroke-width="0.8"/>
<circle cx="1300.4" cy="567.0" r="5.4" fill="#fff" stroke="#ee2a30" stroke-width="0.8"/>
<circle cx="1331.3" cy="533.0" r="5.4" fill="#fff" stroke="#ee2a30" stroke-width="0.8"/>
<circle cx="1316.3" cy="558.3" r="5.4" fill="#fff" stroke="#ee2a30" stroke-width="0.8"/>
<circle cx="1334.1" cy="524.5" r="5.4" fill="#fff" stroke="#ee2a30" stroke-width="0.8"/>
<circle cx="1307.9" cy="561.4" r="5.4" fill="#fff" stroke="#ee2a30" stroke-width="0.8"/>
<circle cx="1304.0" cy="564.9" r="5.4" fill="#fff" stroke="#ee2a30" stroke-width="0.8"/>
<circle cx="1299.0" cy="575.3" r="5.4" fill="#fff" stroke="#ee2a30" stroke-width="0.8"/>
<circle cx="1313.1" cy="549.6" r="5.4" fill="#fff" stroke="#ee2a30" stroke-width="0.8"/>
<circle cx="1330.3" cy="531.1" r="5.4" fill="#fff" stroke="#ee2a30" stroke-width="0.8"/>
<circle cx="1346.1" cy="526.5" r="5.4" fill="#fff" stroke="#ee2a30" stroke-width="0.8"/>
<circle cx="1315.7" cy="555.9" r="5.4" fill="#fff" stroke="#ee2a30" stroke-width="0.8"/>
<circle cx="1324.3" cy="537.7" r="5.4" fill="#fff" stroke="#ee2a30" stroke-width="0.8"/>
<circle cx="1303.1" cy="564.9" r="5.4" fill="#fff" stroke="#ee2a30" stroke-width="0.8"/>
<circle cx="1321.8" cy="543.7" r="5.4" fill="#fff" stroke="#ee2a30" stroke-width="0.8"/>
<circle cx="1319.4" cy="549.3" r="5.4" fill="#fff" stroke="#ee2a30" stroke-width="0.8"/>
<circle cx="1321.8" cy="542.8" r="5.4" fill="#fff" stroke="#ee2a30" stroke-width="0.8"/>
<circle cx="1309.3" cy="562.3" r="5.4" fill="#fff" stroke="#ee2a30" stroke-width="0.8"/>
<circle cx="1309.0" cy="563.8" r="5.4" fill="#fff" stroke="#ee2a30" stroke-width="0.8"/>
<circle cx="1332.6" cy="533.2" r="5.4" fill="#fff" stroke="#ee2a30" stroke-width="0.8"/>
<circle cx="1315.2" cy="553.8" r="5.4" fill="#fff" stroke="#ee2a30" stroke-width="0.8"/>
<circle cx="1334.4" cy="534.1" r="5.4" fill="#fff" stroke="#ee2a30" stroke-width="0.8"/>
<circle cx="1308.8" cy="566.6" r="5.4" fill="#fff" stroke="#ee2a30" stroke-width="0.8"/>
<circle cx="1312.5" cy="561.0" r="5.4" fill="#fff" stroke="#ee2a30" stroke-width="0.8"/>
<circle cx="1328.3" cy="541.5" r="5.4" fill="#fff" stroke="#ee2a30" stroke-width="0.8"/>
<circle cx="1349.7" cy="496.0" r="5.4" fill="#fff" stroke="#ee2a30" stroke-width="0.8"/>
<circle cx="1330.7" cy="555.8" r="5.4" fill="#fff" stroke="#ee2a30" stroke-width="0.8"/>
<circle cx="1317.8" cy="547.3" r="5.4" fill="#fff" stroke="#ee2a30" stroke-width="0.8"/>
<circle cx="1352.3" cy="494.4" r="5.4" fill="#fff" stroke="#ee2a30" stroke-width="0.8"/>
<circle cx="1337.2" cy="524.5" r="5.4" fill="#fff" stroke="#ee2a30" stroke-width="0.8"/>
<circle cx="1325.4" cy="550.5" r="5.4" fill="#fff" stroke="#ee2a30" stroke-width="0.8"/>
<circle cx="1334.5" cy="520.0" r="5.4" fill="#fff" stroke="#ee2a30" stroke-width="0.8"/>
<circle cx="1347.9" cy="507.1" r="5.4" fill="#fff" stroke="#ee2a30" stroke-width="0.8"/>
<circle cx="1338.2" cy="528.0" r="5.4" fill="#fff" stroke="#ee2a30" stroke-width="0.8"/>
<circle cx="1330.2" cy="530.9" r="5.4" fill="#fff" stroke="#ee2a30" stroke-width="0.8"/>
<circle cx="1323.1" cy="539.8" r="5.4" fill="#fff" stroke="#ee2a30" stroke-width="0.8"/>
<circle cx="1326.4" cy="543.0" r="5.4" fill="#fff" stroke="#ee2a30" stroke-width="0.8"/>
<circle cx="1338.3" cy="513.2" r="5.4" fill="#fff" stroke="#ee2a30" stroke-width="0.8"/>
<circle cx="1317.3" cy="542.2" r="5.4" fill="#fff" stroke="#ee2a30" stroke-width="0.8"/>
<circle cx="1339.9" cy="524.4" r="5.4" fill="#fff" stroke="#ee2a30" stroke-width="0.8"/>
<circle cx="1334.0" cy="525.2" r="5.4" fill="#fff" stroke="#ee2a30" stroke-width="0.8"/>
<circle cx="1346.2" cy="520.3" r="5.4" fill="#fff" stroke="#ee2a30" stroke-width="0.8"/>
<circle cx="1350.5" cy="498.9" r="5.4" fill="#fff" stroke="#ee2a30" stroke-width="0.8"/>
<circle cx="1317.9" cy="563.1" r="5.4" fill="#fff" stroke="#ee2a30" stroke-width="0.8"/>
<circle cx="1350.0" cy="521.4" r="5.4" fill="#fff" stroke="#ee2a30" stroke-width="0.8"/>
<circle cx="1302.6" cy="554.8" r="5.4" fill="#fff" stroke="#ee2a30" stroke-width="0.8"/>
<circle cx="1319.9" cy="549.5" r="5.4" fill="#fff" stroke="#ee2a30" stroke-width="0.8"/>
<circle cx="1319.8" cy="541.8" r="5.4" fill="#fff" stroke="#ee2a30" stroke-width="0.8"/>
<circle cx="1309.0" cy="560.1" r="5.4" fill="#fff" stroke="#ee2a30" stroke-width="0.8"/>
<circle cx="1329.5" cy="539.5" r="5.4" fill="#fff" stroke="#ee2a30" stroke-width="0.8"/>
<circle cx="1325.2" cy="526.1" r="5.4" fill="#fff" stroke="#ee2a30" stroke-width="0.8"/>
<circle cx="1333.3" cy="531.7" r="5.4" fill="#fff" stroke="#ee2a30" stroke-width="0.8"/>
<circle cx="1314.0" cy="553.6" r="5.4" fill="#fff" stroke="#ee2a30" stroke-width="0.8"/>
<circle cx="1330.4" cy="531.3" r="5.4" fill="#fff" stroke="#ee2a30" stroke-width="0.8"/>
<circle cx="1345.8" cy="507.5" r="5.4" fill="#fff" stroke="#ee2a30" stroke-width="0.8"/>
<circle cx="1349.3" cy="500.6" r="5.4" fill="#fff" stroke="#ee2a30" stroke-width="0.8"/>
<circle cx="1327.7" cy="534.5" r="5.4" fill="#fff" stroke="#ee2a30" stroke-width="0.8"/>
<circle cx="1323.9" cy="543.4" r="5.4" fill="#fff" stroke="#ee2a30" stroke-width="0.8"/>
<circle cx="1326.8" cy="534.7" r="5.4" fill="#fff" stroke="#ee2a30" stroke-width="0.8"/>
<circle cx="1321.4" cy="547.9" r="5.4" fill="#fff" stroke="#ee2a30" stroke-width="0.8"/>
<circle cx="1329.8" cy="525.7" r="5.4" fill="#fff" stroke="#ee2a30" stroke-width="0.8"/>
<circle cx="1334.6" cy="524.8" r="5.4" fill="#fff" stroke="#ee2a30" stroke-width="0.8"/>
<circle cx="1318.8" cy="541.9" r="5.4" fill="#fff" stroke="#ee2a30" stroke-width="0.8"/>
<circle cx="1328.3" cy="533.8" r="5.4" fill="#fff" stroke="#ee2a30" stroke-width="0.8"/>
<circle cx="1330.3" cy="523.8" r="5.4" fill="#fff" stroke="#ee2a30" stroke-width="0.8"/>
<circle cx="1343.8" cy="510.2" r="5.4" fill="#fff" stroke="#ee2a30" stroke-width="0.8"/>
<circle cx="1329.2" cy="540.1" r="5.4" fill="#fff" stroke="#ee2a30" stroke-width="0.8"/>
<circle cx="1332.6" cy="526.3" r="5.4" fill="#fff" stroke="#ee2a30" stroke-width="0.8"/>
<circle cx="1318.5" cy="529.6" r="5.4" fill="#fff" stroke="#ee2a30" stroke-width="0.8"/>
<circle cx="1328.7" cy="520.7" r="5.4" fill="#fff" stroke="#ee2a30" stroke-width="0.8"/>
<circle cx="1325.4" cy="539.4" r="5.4" fill="#fff" stroke="#ee2a30" stroke-width="0.8"/>
<circle cx="1307.8" cy="552.3" r="5.4" fill="#fff" stroke="#ee2a30" stroke-width="0.8"/>
<circle cx="1315.1" cy="559.0" r="5.4" fill="#fff" stroke="#ee2a30" stroke-width="0.8"/>
<circle cx="1312.9" cy="546.5" r="5.4" fill="#fff" stroke="#ee2a30" stroke-width="0.8"/>
<circle cx="1330.9" cy="517.0" r="5.4" fill="#fff" stroke="#ee2a30" stroke-width="0.8"/>
<circle cx="1317.0" cy="544.3" r="5.4" fill="#fff" stroke="#ee2a30" stroke-width="0.8"/>
<circle cx="1327.5" cy="540.2" r="5.4" fill="#fff" stroke="#ee2a30" stroke-width="0.8"/>
<circle cx="1329.3" cy="545.2" r="5.4" fill="#fff" stroke="#ee2a30" stroke-width="0.8"/>
<circle cx="1321.0" cy="539.8" r="5.4" fill="#fff" stroke="#ee2a30" stroke-width="0.8"/>
<circle cx="1323.6" cy="544.5" r="5.4" fill="#fff" stroke="#ee2a30" stroke-width="0.8"/>
<circle cx="1342.0" cy="526.5" r="5.4" fill="#fff" stroke="#ee2a30" stroke-width="0.8"/>
<circle cx="1331.8" cy="526.5" r="5.4" fill="#fff" stroke="#ee2a30" stroke-width="0.8"/>
<circle cx="1339.1" cy="531.3" r="5.4" fill="#fff" stroke="#ee2a30" stroke-width="0.8"/>
<circle cx="1325.1" cy="552.3" r="5.4" fill="#fff" stroke="#ee2a30" stroke-width="0.8"/>
<circle cx="1322.9" cy="537.1" r="5.4" fill="#fff" stroke="#ee2a30" stroke-width="0.8"/>
<circle cx="1305.4" cy="557.3" r="5.4" fill="#fff" stroke="#ee2a30" stroke-width="0.8"/>
<circle cx="1326.1" cy="529.5" r="5.4" fill="#fff" stroke="#ee2a30" stroke-width="0.8"/>
<circle cx="1319.9" cy="540.8" r="5.4" fill="#fff" stroke="#ee2a30" stroke-width="0.8"/>
<circle cx="1305.3" cy="564.6" r="5.4" fill="#fff" stroke="#ee2a30" stroke-width="0.8"/>
<circle cx="1334.0" cy="524.7" r="5.4" fill="#fff" stroke="#ee2a30" stroke-width="0.8"/>
<circle cx="1319.1" cy="538.0" r="5.4" fill="#fff" stroke="#ee2a30" stroke-width="0.8"/>
<circle cx="1326.3" cy="555.5" r="5.4" fill="#fff" stroke="#ee2a30" stroke-width="0.8"/>
<circle cx="1326.0" cy="532.3" r="5.4" fill="#fff" stroke="#ee2a30" stroke-width="0.8"/>
<circle cx="1303.8" cy="554.8" r="5.4" fill="#fff" stroke="#ee2a30" stroke-width="0.8"/>
<circle cx="1336.3" cy="508.4" r="5.4" fill="#fff" stroke="#ee2a30" stroke-width="0.8"/>
<circle cx="1328.4" cy="530.1" r="5.4" fill="#fff" stroke="#ee2a30" stroke-width="0.8"/>
<circle cx="1335.4" cy="543.5" r="5.4" fill="#fff" stroke="#ee2a30" stroke-width="0.8"/>
<circle cx="1308.3" cy="539.9" r="5.4" fill="#fff" stroke="#ee2a30" stroke-width="0.8"/>
<circle cx="1324.5" cy="530.0" r="5.4" fill="#fff" stroke="#ee2a30" stroke-width="0.8"/>
<circle cx="1324.2" cy="543.9" r="5.4" fill="#fff" stroke="#ee2a30" stroke-width="0.8"/>
<circle cx="1313.6" cy="548.4" r="5.4" fill="#fff" stroke="#ee2a30" stroke-width="0.8"/>
<circle cx="1325.9" cy="540.8" r="5.4" fill="#fff" stroke="#ee2a30" stroke-width="0.8"/>
<circle cx="1337.1" cy="527.0" r="5.4" fill="#fff" stroke="#ee2a30" stroke-width="0.8"/>
<circle cx="1332.0" cy="538.3" r="5.4" fill="#fff" stroke="#ee2a30" stroke-width="0.8"/>
<circle cx="1343.0" cy="524.6" r="5.4" fill="#fff" stroke="#ee2a30" stroke-width="0.8"/>
<circle cx="1338.4" cy="534.9" r="5.4" fill="#fff" stroke="#ee2a30" stroke-width="0.8"/>
<circle cx="1344.3" cy="508.6" r="5.4" fill="#fff" stroke="#ee2a30" stroke-width="0.8"/>
<circle cx="1326.8" cy="548.5" r="5.4" fill="#fff" stroke="#ee2a30" stroke-width="0.8"/>
<circle cx="1336.1" cy="527.2" r="5.4" fill="#fff" stroke="#ee2a30" stroke-width="0.8"/>
<circle cx="1329.4" cy="529.7" r="5.4" fill="#fff" stroke="#ee2a30" stroke-width="0.8"/>
<circle cx="1321.0" cy="561.6" r="5.4" fill="#fff" stroke="#ee2a30" stroke-width="0.8"/>
<circle cx="1323.0" cy="536.8" r="5.4" fill="#fff" stroke="#ee2a30" stroke-width="0.8"/>
<circle cx="1320.7" cy="534.1" r="5.4" fill="#fff" stroke="#ee2a30" stroke-width="0.8"/>
<circle cx="1324.3" cy="532.8" r="5.4" fill="#fff" stroke="#ee2a30" stroke-width="0.8"/>
<circle cx="1330.2" cy="544.7" r="5.4" fill="#fff" stroke="#ee2a30" stroke-width="0.8"/>
<circle cx="1327.2" cy="536.0" r="5.4" fill="#fff" stroke="#ee2a30" stroke-width="0.8"/>
<circle cx="1346.5" cy="527.5" r="5.4" fill="#fff" stroke="#ee2a30" stroke-width="0.8"/>
<circle cx="1320.7" cy="556.8" r="5.4" fill="#fff" stroke="#ee2a30" stroke-width="0.8"/>
<circle cx="1332.8" cy="534.5" r="5.4" fill="#fff" stroke="#ee2a30" stroke-width="0.8"/>
<circle cx="1325.4" cy="526.3" r="5.4" fill="#fff" stroke="#ee2a30" stroke-width="0.8"/>
<circle cx="1305.5" cy="568.2" r="5.4" fill="#fff" stroke="#ee2a30" stroke-width="0.8"/>
<circle cx="1323.9" cy="545.7" r="5.4" fill="#fff" stroke="#ee2a30" stroke-width="0.8"/>
<circle cx="1322.8" cy="534.6" r="5.4" fill="#fff" stroke="#ee2a30" stroke-width="0.8"/>
<circle cx="1326.6" cy="530.9" r="5.4" fill="#fff" stroke="#ee2a30" stroke-width="0.8"/>
<circle cx="1323.4" cy="517.6" r="5.4" fill="#fff" stroke="#ee2a30" stroke-width="0.8"/>
<circle cx="1342.3" cy="506.2" r="5.4" fill="#fff" stroke="#ee2a30" stroke-width="0.8"/>
<circle cx="1333.4" cy="528.7" r="5.4" fill="#fff" stroke="#ee2a30" stroke-width="0.8"/>
<circle cx="1318.3" cy="543.6" r="5.4" fill="#fff" stroke="#ee2a30" stroke-width="0.8"/>
<circle cx="1332.6" cy="531.7" r="5.4" fill="#fff" stroke="#ee2a30" stroke-width="0.8"/>
<circle cx="1317.8" cy="542.4" r="5.4" fill="#fff" stroke="#ee2a30" stroke-width="0.8"/>
<circle cx="1322.0" cy="552.1" r="5.4" fill="#fff" stroke="#ee2a30" stroke-width="0.8"/>
<circle cx="1314.0" cy="554.1" r="5.4" fill="#fff" stroke="#ee2a30" stroke-width="0.8"/>
<circle cx="1317.9" cy="544.9" r="5.4" fill="#fff" stroke="#ee2a30" stroke-width="0.8"/>
<circle cx="1344.6" cy="527.5" r="5.4" fill="#fff" stroke="#ee2a30" stroke-width="0.8"/>
<circle cx="1311.4" cy="532.6" r="5.4" fill="#fff" stroke="#ee2a30" stroke-width="0.8"/>
<circle cx="1317.1" cy="547.5" r="5.4" fill="#fff" stroke="#ee2a30" stroke-width="0.8"/>
<circle cx="1311.9" cy="561.4" r="5.4" fill="#fff" stroke="#ee2a30" stroke-width="0.8"/>
<circle cx="1306.1" cy="559.6" r="5.4" fill="#fff" stroke="#ee2a30" stroke-width="0.8"/>
<circle cx="1307.5" cy="567.5" r="5.4" fill="#fff" stroke="#ee2a30" stroke-width="0.8"/>
<circle cx="1332.1" cy="523.1" r="5.4" fill="#fff" stroke="#ee2a30" stroke-width="0.8"/>
<circle cx="1326.0" cy="546.6" r="5.4" fill="#fff" stroke="#ee2a30" stroke-width="0.8"/>
<circle cx="1330.3" cy="529.6" r="5.4" fill="#fff" stroke="#ee2a30" stroke-width="0.8"/>
<circle cx="1346.0" cy="514.4" r="5.4" fill="#fff" stroke="#ee2a30" stroke-width="0.8"/>
<circle cx="1351.8" cy="451.6" r="5.4" fill="#fff" stroke="#ee2a30" stroke-width="0.8"/>
<circle cx="1347.0" cy="478.0" r="5.4" fill="#fff" stroke="#ee2a30" stroke-width="0.8"/>
<circle cx="1339.8" cy="487.2" r="5.4" fill="#fff" stroke="#ee2a30" stroke-width="0.8"/>
<circle cx="1356.0" cy="487.2" r="5.4" fill="#fff" stroke="#ee2a30" stroke-width="0.8"/>
<circle cx="1344.6" cy="495.2" r="5.4" fill="#fff" stroke="#ee2a30" stroke-width="0.8"/>
<circle cx="1304.0" cy="536.6" r="5.4" fill="#fff" stroke="#ee2a30" stroke-width="0.8"/>
<circle cx="1349.0" cy="520.0" r="5.4" fill="#fff" stroke="#ee2a30" stroke-width="0.8"/>
<circle cx="1338.0" cy="500.0" r="5.4" fill="#fff" stroke="#ee2a30" stroke-width="0.8"/>
<circle cx="1352.0" cy="505.0" r="5.4" fill="#fff" stroke="#ee2a30" stroke-width="0.8"/>
<line x1="1265" y1="625.3" x2="1421.7" y2="406" stroke="#ed1c24" stroke-width="2.6"/>
<line x1="1245.3" y1="404.9" x2="1245.3" y2="626.4" stroke="#231f20" stroke-width="2.3"/>
<line x1="1222.9" y1="625.3" x2="1469.3" y2="625.3" stroke="#231f20" stroke-width="2.3"/>
<line x1="1222.9" y1="406" x2="1245.3" y2="406" stroke="#231f20" stroke-width="2.3"/>
<line x1="1222.9" y1="479.3" x2="1245.3" y2="479.3" stroke="#231f20" stroke-width="2.3"/>
<line x1="1222.9" y1="552.8" x2="1245.3" y2="552.8" stroke="#231f20" stroke-width="2.3"/>
<line x1="1245.3" y1="625.3" x2="1245.3" y2="647.5" stroke="#231f20" stroke-width="2.3"/>
<line x1="1319.3" y1="625.3" x2="1319.3" y2="647.5" stroke="#231f20" stroke-width="2.3"/>
<line x1="1392.8" y1="625.3" x2="1392.8" y2="647.5" stroke="#231f20" stroke-width="2.3"/>
<line x1="1468.2" y1="625.3" x2="1468.2" y2="647.5" stroke="#231f20" stroke-width="2.3"/>
<text x="1216.7" y="414.3" font-size="30" fill="#231f20" text-anchor="end">100</text>
<text x="1216.7" y="488.4" font-size="30" fill="#231f20" text-anchor="end">50</text>
<text x="1216.7" y="562.8" font-size="30" fill="#231f20" text-anchor="end">0</text>
<text x="1216.7" y="637.1" font-size="30" fill="#231f20" text-anchor="end">-50</text>
<text x="1240.5" y="675" font-size="30" fill="#231f20" text-anchor="middle">-50</text>
<text x="1317" y="675" font-size="30" fill="#231f20" text-anchor="middle">0</text>
<text x="1392.8" y="675" font-size="30" fill="#231f20" text-anchor="middle">50</text>
<text x="1470" y="675" font-size="30" fill="#231f20" text-anchor="middle">100</text>
<text x="1279.5" y="718.8" font-size="35.3" fill="#231f20">AUC CS<tspan font-size="21" dy="-12">-</tspan><tspan dy="12" font-size="1">&#8203;</tspan></text>
<text transform="translate(1174.8,595.3) rotate(-90)" font-size="35" fill="#231f20">AUC CS<tspan font-size="21" dy="-12">+</tspan><tspan dy="12" font-size="1">&#8203;</tspan></text>
<text x="1401" y="521.3" font-size="35" fill="#231f20">****</text>
<circle cx="1416" cy="573.5" r="5.4" fill="#fff" stroke="#3a3a3a" stroke-width="0.8"/>
<circle cx="1416" cy="601.7" r="5.4" fill="#fff" stroke="#ee2a30" stroke-width="0.8"/>
<text x="1432.7" y="584" font-size="30" fill="#231f20">H</text>
<text x="1432" y="611.5" font-size="30" fill="#231f20">C</text>
<path d="M1457.5 441.5 C1462 428 1458 416 1446 410.5" fill="none" stroke="#231f20" stroke-width="2.2"/>
<polygon points="1438.5,406.5 1451.5,407.5 1445.5,417.0" fill="#231f20"/>
<rect x="136.50" y="835.00" width="36.70" height="181.00" fill="none" stroke="#a7a9ac" stroke-width="2.2"/>
<rect x="136.50" y="803.60" width="36.70" height="31.00" fill="#fff" stroke="#118080" stroke-width="2.2"/>
<rect x="136.50" y="1017.50" width="36.70" height="66.50" fill="#fff" stroke="#4f2a7f" stroke-width="2.2"/>
<rect x="193.20" y="803.40" width="37.00" height="50.60" fill="#118080"/>
<rect x="193.20" y="853.70" width="37.00" height="126.50" fill="#a7a9ac"/>
<rect x="193.20" y="980.00" width="37.00" height="104.40" fill="#4f2a7f"/>
<line x1="106.8" y1="802.3" x2="106.8" y2="1085.5" stroke="#231f20" stroke-width="2.3"/>
<line x1="87.4" y1="1084.4" x2="258.4" y2="1084.4" stroke="#231f20" stroke-width="2.3"/>
<line x1="87.4" y1="803.4" x2="106.8" y2="803.4" stroke="#231f20" stroke-width="2.3"/>
<text x="84.5" y="811.1999999999999" font-size="30" fill="#231f20" text-anchor="end">100</text>
<line x1="87.4" y1="873.9" x2="106.8" y2="873.9" stroke="#231f20" stroke-width="2.3"/>
<text x="84.5" y="881.6999999999999" font-size="30" fill="#231f20" text-anchor="end">75</text>
<line x1="87.4" y1="944.1" x2="106.8" y2="944.1" stroke="#231f20" stroke-width="2.3"/>
<text x="84.5" y="951.9" font-size="30" fill="#231f20" text-anchor="end">50</text>
<line x1="87.4" y1="1014.2" x2="106.8" y2="1014.2" stroke="#231f20" stroke-width="2.3"/>
<text x="84.5" y="1022.0" font-size="30" fill="#231f20" text-anchor="end">25</text>
<text x="84.5" y="1092.2" font-size="30" fill="#231f20" text-anchor="end">0</text>
<line x1="155" y1="1084.4" x2="155" y2="1103.5" stroke="#231f20" stroke-width="2.3"/>
<line x1="211.8" y1="1084.4" x2="211.8" y2="1103.5" stroke="#231f20" stroke-width="2.3"/>
<text x="153.5" y="1141" font-size="35.5" fill="#231f20" text-anchor="middle">H</text>
<text x="211.5" y="1141" font-size="35.5" fill="#231f20" text-anchor="middle">C</text>
<text x="211.5" y="785.5" font-size="30" fill="#231f20" text-anchor="middle">*</text>
<text transform="translate(30.4,1070) rotate(-90)" font-size="35" fill="#231f20">% CS<tspan font-size="21" dy="-12">+</tspan><tspan dy="12" font-size="1">&#8203;</tspan> Neurons</text>
<rect x="254.00" y="893.90" width="18.40" height="18.00" fill="#118080"/>
<text x="285.2" y="915.3" font-size="30.5" fill="#231f20">INH</text>
<rect x="254.00" y="938.00" width="18.40" height="18.00" fill="#a7a9ac"/>
<text x="285.2" y="959.4" font-size="30.5" fill="#231f20">NR</text>
<rect x="254.00" y="982.20" width="18.40" height="18.00" fill="#4f2a7f"/>
<text x="285.2" y="1003.6" font-size="30.5" fill="#231f20">EXC</text>
<polygon points="417.7,921.3 422.4,920.3 428.9,922.0 435.3,921.3 440.7,921.3 445.0,916.8 448.2,896.8 451.5,880.0 455.8,877.2 459.0,888.2 463.3,894.6 471.9,900.0 478.4,905.4 485.9,911.8 493.4,915.1 502.0,917.2 508.5,914.0 517.1,916.2 525.7,919.4 534.3,916.2 542.9,911.8 551.5,911.8 560.1,909.7 568.7,912.3 577.3,912.9 586.0,911.8 586.0,919.5 577.3,920.6 568.7,920.0 560.1,917.4 551.5,919.5 542.9,919.5 534.3,923.9 525.7,927.1 517.1,923.9 508.5,921.7 502.0,924.9 493.4,922.8 485.9,919.5 478.4,913.1 471.9,907.7 463.3,902.3 459.0,895.9 455.8,886.2 451.5,889.0 448.2,904.5 445.0,923.2 440.7,926.4 435.3,925.1 428.9,925.8 422.4,924.1 417.7,925.1" fill="#a27ea3" opacity="1"/>
<polygon points="417.7,921.3 422.4,920.3 428.9,922.0 435.3,919.8 440.7,918.5 445.0,914.2 448.2,897.4 451.5,861.7 454.7,853.5 459.0,849.6 465.4,849.2 471.9,848.6 476.2,852.4 480.5,861.7 485.9,876.3 491.3,828.1 496.0,827.0 502.0,840.4 507.4,843.6 512.8,856.1 519.2,865.8 525.7,870.1 532.2,876.5 538.6,881.9 545.1,884.5 551.5,886.7 558.0,891.4 564.4,896.8 569.8,901.5 575.2,900.4 580.6,904.1 586.0,908.8 586.0,926.9 580.6,920.9 575.2,915.9 569.8,917.0 564.4,911.0 558.0,905.6 551.5,899.6 545.1,897.4 538.6,893.5 532.2,888.1 525.7,881.7 519.2,877.4 512.8,867.7 507.4,856.5 502.0,853.3 496.0,839.9 491.3,839.7 485.9,884.0 480.5,870.7 476.2,862.7 471.9,860.2 465.4,860.8 459.0,861.2 454.7,863.8 451.5,870.7 448.2,903.8 445.0,919.3 440.7,922.3 435.3,923.6 428.9,925.8 422.4,924.1 417.7,925.1" fill="#a27ea3" opacity="1"/>
<polyline points="417.7,923.2 422.4,922.2 428.9,923.9 435.3,923.2 440.7,923.9 445.0,920.0 448.2,900.6 451.5,884.5 455.8,881.7 459.0,892.0 463.3,898.5 471.9,903.9 478.4,909.2 485.9,915.7 493.4,918.9 502.0,921.1 508.5,917.9 517.1,920.0 525.7,923.2 534.3,920.0 542.9,915.7 551.5,915.7 560.1,913.5 568.7,916.1 577.3,916.8 586.0,915.7" fill="none" stroke="#5c1a5c" stroke-width="2.6" stroke-linejoin="round" stroke-dasharray="4.5 2.6"/>
<polyline points="417.7,923.2 422.4,922.2 428.9,923.9 435.3,921.7 440.7,920.4 445.0,916.8 448.2,900.6 451.5,866.2 454.7,858.7 459.0,855.4 465.4,855.0 471.9,854.4 476.2,857.6 480.5,866.2 485.9,880.2 491.3,833.9 496.0,833.5 502.0,846.8 507.4,850.1 512.8,861.9 519.2,871.6 525.7,875.9 532.2,882.3 538.6,887.7 545.1,891.0 551.5,893.1 558.0,898.5 564.4,903.9 569.8,909.2 575.2,908.2 580.6,912.5 586.0,917.9" fill="none" stroke="#5c1a5c" stroke-width="2.6" stroke-linejoin="round"/>
<polygon points="418.7,1012.8 424.0,1006.1 430.4,1013.6 435.7,1009.4 442.1,1016.8 447.5,1012.5 453.4,1012.5 458.1,999.3 463.5,1005.0 466.7,1016.8 470.9,1028.5 476.3,1032.1 482.7,1034.3 487.6,1033.4 493.3,1025.3 498.7,1023.2 505.1,1022.7 510.4,1023.2 515.7,1020.0 522.1,1017.8 527.5,1021.0 532.8,1012.5 538.1,1013.6 543.5,1015.1 549.9,1016.8 555.2,1011.4 561.6,1015.7 566.9,1010.4 572.3,1012.5 577.6,1010.4 582.9,1004.0 589.3,1010.4 594.7,1013.6 594.7,1027.8 589.3,1024.6 582.9,1018.2 577.6,1024.6 572.3,1026.7 566.9,1024.6 561.6,1029.9 555.2,1025.6 549.9,1031.0 543.5,1029.3 538.1,1027.8 532.8,1026.7 527.5,1035.2 522.1,1032.0 515.7,1034.2 510.4,1037.4 505.1,1036.9 498.7,1037.4 493.3,1039.5 487.6,1047.6 482.7,1048.5 476.3,1047.6 470.9,1042.7 466.7,1031.0 463.5,1019.2 458.1,1013.5 453.4,1020.2 447.5,1020.2 442.1,1024.5 435.7,1017.1 430.4,1021.3 424.0,1013.9 418.7,1017.9" fill="#8fb6c6" opacity="1"/>
<polygon points="418.7,1013.4 424.0,1013.8 430.4,1014.3 435.7,1011.1 442.1,1016.4 447.5,1014.3 453.4,1014.5 458.6,1034.1 464.5,1056.9 470.9,1062.0 476.3,1066.7 482.7,1063.9 487.6,1059.7 493.3,1070.1 498.7,1065.8 505.1,1052.8 510.4,1045.8 515.7,1043.2 522.1,1056.2 527.5,1057.7 532.8,1053.5 538.1,1046.6 543.5,1043.4 549.9,1036.6 555.2,1034.5 561.6,1031.3 566.9,1032.4 572.3,1026.0 577.6,1015.7 582.9,1017.2 589.3,1014.6 594.7,1014.9 601.1,1015.1 601.1,1018.9 594.7,1026.5 589.3,1028.8 582.9,1032.7 577.6,1029.9 572.3,1038.8 566.9,1045.2 561.6,1044.2 555.2,1047.4 549.9,1049.5 543.5,1057.6 538.1,1060.8 532.8,1067.7 527.5,1071.9 522.1,1070.4 515.7,1060.0 510.4,1063.8 505.1,1069.6 498.7,1080.0 493.3,1084.3 487.6,1071.3 482.7,1075.5 476.3,1078.3 470.9,1071.0 464.5,1063.3 458.6,1039.2 453.4,1019.6 447.5,1020.7 442.1,1022.8 435.7,1017.5 430.4,1020.7 424.0,1019.0 418.7,1017.2" fill="#8fb6c6" opacity="1"/>
<polyline points="418.7,1015.3 424.0,1010.0 430.4,1017.5 435.7,1013.2 442.1,1020.7 447.5,1016.4 453.4,1016.4 458.1,1006.4 463.5,1012.1 466.7,1023.9 470.9,1035.6 476.3,1039.9 482.7,1041.4 487.6,1040.5 493.3,1032.4 498.7,1030.3 505.1,1029.8 510.4,1030.3 515.7,1027.1 522.1,1024.9 527.5,1028.1 532.8,1019.6 538.1,1020.7 543.5,1022.2 549.9,1023.9 555.2,1018.5 561.6,1022.8 566.9,1017.5 572.3,1019.6 577.6,1017.5 582.9,1011.1 589.3,1017.5 594.7,1020.7" fill="none" stroke="#0f7f97" stroke-width="2.6" stroke-linejoin="round" stroke-dasharray="4.5 2.6"/>
<polyline points="418.7,1015.3 424.0,1016.4 430.4,1017.5 435.7,1014.3 442.1,1019.6 447.5,1017.5 453.4,1017.0 458.6,1036.7 464.5,1060.1 470.9,1066.5 476.3,1072.5 482.7,1069.7 487.6,1065.5 493.3,1077.2 498.7,1072.9 505.1,1061.2 510.4,1054.8 515.7,1051.6 522.1,1063.3 527.5,1064.8 532.8,1060.6 538.1,1053.7 543.5,1050.5 549.9,1043.1 555.2,1040.9 561.6,1037.7 566.9,1038.8 572.3,1032.4 577.6,1022.8 582.9,1024.9 589.3,1021.7 594.7,1020.7 601.1,1017.0" fill="none" stroke="#0f7f97" stroke-width="2.6" stroke-linejoin="round"/>
<rect x="448.20" y="810.80" width="27.60" height="5.00" fill="#ed1c24"/>
<rect x="489.10" y="810.80" width="13.60" height="5.00" fill="#ed1c24"/>
<rect x="452.20" y="972.00" width="27.90" height="5.00" fill="#ed1c24"/>
<rect x="494.30" y="972.00" width="13.60" height="5.00" fill="#ed1c24"/>
<text x="414.6" y="791.3" font-size="34" fill="#ed1c24">CS<tspan font-size="21" dy="-12" dx="1">+</tspan><tspan dy="12" font-size="1">&#8203;</tspan> US</text>
<line x1="552.2" y1="812.8" x2="580" y2="812.8" stroke="#5c1a5c" stroke-width="2.2" stroke-dasharray="4.2 3.6"/>
<line x1="552.2" y1="839.3" x2="580" y2="839.3" stroke="#5c1a5c" stroke-width="2.2"/>
<text x="593" y="821.5" font-size="30" fill="#231f20">H</text>
<text x="592.3" y="848.6" font-size="30" fill="#231f20">C</text>
<line x1="558.4" y1="974.5" x2="586.6" y2="974.5" stroke="#0f7f97" stroke-width="2.2" stroke-dasharray="4.2 3.6"/>
<line x1="558.4" y1="1001" x2="586.6" y2="1001" stroke="#0f7f97" stroke-width="2.2"/>
<text x="599.3" y="983.3" font-size="30" fill="#231f20">H</text>
<text x="598.6" y="1010.5" font-size="30" fill="#231f20">C</text>
<line x1="594.6" y1="886" x2="594.6" y2="935.2" stroke="#231f20" stroke-width="2.4"/>
<line x1="559" y1="934" x2="595.8" y2="934" stroke="#231f20" stroke-width="2.4"/>
<line x1="595.3" y1="1069" x2="595.3" y2="1106.6" stroke="#231f20" stroke-width="2.4"/>
<line x1="560" y1="1105.4" x2="596.5" y2="1105.4" stroke="#231f20" stroke-width="2.4"/>
<text transform="translate(404,928) rotate(-90)" font-size="35" fill="#5c1a5c">Excited</text>
<text transform="translate(404.5,1072.5) rotate(-90)" font-size="35" fill="#0f7f97">Inhibited</text>
<line x1="739.3" y1="801.4" x2="739.3" y2="1085.3" stroke="#231f20" stroke-width="2.3"/>
<line x1="718.7" y1="1084.2" x2="882" y2="1084.2" stroke="#231f20" stroke-width="2.3"/>
<line x1="718.7" y1="802.5" x2="739.3" y2="802.5" stroke="#231f20" stroke-width="2.3"/>
<text x="716.5" y="811.3" font-size="30" fill="#231f20" text-anchor="end">100</text>
<line x1="718.7" y1="895.8" x2="739.3" y2="895.8" stroke="#231f20" stroke-width="2.3"/>
<text x="716.5" y="904.5999999999999" font-size="30" fill="#231f20" text-anchor="end">60</text>
<line x1="718.7" y1="990.2" x2="739.3" y2="990.2" stroke="#231f20" stroke-width="2.3"/>
<text x="716.5" y="999.0" font-size="30" fill="#231f20" text-anchor="end">20</text>
<text x="716.5" y="1093.0" font-size="30" fill="#231f20" text-anchor="end">-20</text>
<line x1="787.5" y1="1084.2" x2="787.5" y2="1111" stroke="#231f20" stroke-width="2.3"/>
<line x1="834.3" y1="1084.2" x2="834.3" y2="1111" stroke="#231f20" stroke-width="2.3"/>
<text x="787.5" y="1144.8" font-size="35.5" fill="#231f20" text-anchor="middle">H</text>
<text x="835" y="1144.8" font-size="35.5" fill="#231f20" text-anchor="middle">C</text>
<text x="735" y="792" font-size="35" fill="#5c1a5c">Excited</text>
<text x="810.3" y="832" font-size="35" fill="#231f20">***</text>
<text transform="translate(668.3,991.3) rotate(-90)" font-size="35" fill="#231f20">AUC</text>
<line x1="787.5" y1="972.8" x2="787.5" y2="1065" stroke="#5c1a5c" stroke-width="2.6"/>
<rect x="775.15" y="1028.95" width="24.70" height="7.40" fill="#fff" stroke="#5c1a5c" stroke-width="2.3"/>
<line x1="774.0" y1="1032.6" x2="801.0" y2="1032.6" stroke="#5c1a5c" stroke-width="2.3"/>
<line x1="834.3" y1="844.4" x2="834.3" y2="1053.3" stroke="#5c1a5c" stroke-width="2.6"/>
<rect x="822.05" y="1000.00" width="24.50" height="21.70" fill="#5c1a5c"/>
<line x1="822.05" y1="1015.3" x2="846.55" y2="1015.3" stroke="#fff" stroke-width="2.2"/>
<line x1="987.6" y1="802.8" x2="987.6" y2="1085" stroke="#231f20" stroke-width="2.3"/>
<line x1="966.4" y1="1083.9" x2="1130.5" y2="1083.9" stroke="#231f20" stroke-width="2.3"/>
<line x1="966.4" y1="803.9" x2="987.6" y2="803.9" stroke="#231f20" stroke-width="2.3"/>
<text x="962.5" y="812.4" font-size="30" fill="#231f20" text-anchor="end">10</text>
<line x1="966.4" y1="897" x2="987.6" y2="897" stroke="#231f20" stroke-width="2.3"/>
<text x="962.5" y="905.5" font-size="30" fill="#231f20" text-anchor="end">0</text>
<line x1="966.4" y1="991" x2="987.6" y2="991" stroke="#231f20" stroke-width="2.3"/>
<text x="962.5" y="999.5" font-size="30" fill="#231f20" text-anchor="end">-10</text>
<text x="962.5" y="1092.4" font-size="30" fill="#231f20" text-anchor="end">-20</text>
<line x1="1035.1" y1="1083.9" x2="1035.1" y2="1110.7" stroke="#231f20" stroke-width="2.3"/>
<line x1="1082.6" y1="1083.9" x2="1082.6" y2="1110.7" stroke="#231f20" stroke-width="2.3"/>
<text x="1034.3" y="1145.5" font-size="35.5" fill="#231f20" text-anchor="middle">H</text>
<text x="1082.6" y="1145.5" font-size="35.5" fill="#231f20" text-anchor="middle">C</text>
<text x="980.5" y="791.7" font-size="35" fill="#0f7f97">Inhibited</text>
<text x="1056.3" y="832" font-size="35" fill="#231f20">***</text>
<text transform="translate(907.2,989.8) rotate(-90)" font-size="35" fill="#231f20">AUC</text>
<line x1="1035.1" y1="813.8" x2="1035.1" y2="1007.6" stroke="#0f7f97" stroke-width="2.6"/>
<rect x="1023.25" y="904.15" width="23.70" height="39.10" fill="#fff" stroke="#0f7f97" stroke-width="2.3"/>
<line x1="1022.0999999999999" y1="910.5" x2="1048.1" y2="910.5" stroke="#0f7f97" stroke-width="2.3"/>
<line x1="1082.6" y1="862" x2="1082.6" y2="1061" stroke="#0f7f97" stroke-width="2.6"/>
<rect x="1070.35" y="943.80" width="24.50" height="47.90" fill="#0f7f97"/>
<line x1="1070.35" y1="959" x2="1094.85" y2="959" stroke="#fff" stroke-width="2.2"/>
<line x1="1262.9" y1="801.4" x2="1262.9" y2="1085" stroke="#231f20" stroke-width="2.3"/>
<line x1="1242.7" y1="1083.9" x2="1473.8" y2="1083.9" stroke="#231f20" stroke-width="2.3"/>
<line x1="1242.7" y1="802.5" x2="1262.9" y2="802.5" stroke="#231f20" stroke-width="2.3"/>
<text x="1237" y="810.0" font-size="30" fill="#231f20" text-anchor="end">80</text>
<line x1="1242.7" y1="858.8" x2="1262.9" y2="858.8" stroke="#231f20" stroke-width="2.3"/>
<text x="1237" y="866.3" font-size="30" fill="#231f20" text-anchor="end">75</text>
<line x1="1242.7" y1="915.2" x2="1262.9" y2="915.2" stroke="#231f20" stroke-width="2.3"/>
<text x="1237" y="922.7" font-size="30" fill="#231f20" text-anchor="end">70</text>
<line x1="1242.7" y1="971.5" x2="1262.9" y2="971.5" stroke="#231f20" stroke-width="2.3"/>
<text x="1237" y="979.0" font-size="30" fill="#231f20" text-anchor="end">65</text>
<line x1="1242.7" y1="1027.5" x2="1262.9" y2="1027.5" stroke="#231f20" stroke-width="2.3"/>
<text x="1237" y="1035.0" font-size="30" fill="#231f20" text-anchor="end">60</text>
<text x="1237" y="1091.4" font-size="30" fill="#231f20" text-anchor="end">55</text>
<line x1="1311.1" y1="1083.9" x2="1311.1" y2="1103.7" stroke="#231f20" stroke-width="2.3"/>
<line x1="1422" y1="1083.9" x2="1422" y2="1103.7" stroke="#231f20" stroke-width="2.3"/>
<text x="1313" y="1147.8" font-size="35" fill="#5c1a5c" text-anchor="middle">EXC</text>
<text x="1423" y="1147.8" font-size="35" fill="#0f7f97" text-anchor="middle">INH</text>
<text transform="translate(1188,1034.5) rotate(-90)" font-size="35" fill="#231f20">Accuracy, %</text>
<line x1="1290.2" y1="986.7" x2="1290.2" y2="1059.4" stroke="#7b2d91" stroke-width="2.6"/>
<rect x="1278.20" y="1005.65" width="24.00" height="18.80" fill="#fff" stroke="#7b2d91" stroke-width="2.3"/>
<line x1="1277.05" y1="1015.1" x2="1303.3500000000001" y2="1015.1" stroke="#7b2d91" stroke-width="2.3"/>
<line x1="1332.7" y1="823.4" x2="1332.7" y2="1037" stroke="#7b2d91" stroke-width="2.6"/>
<rect x="1319.10" y="920.10" width="27.20" height="67.70" fill="#7b2d91"/>
<line x1="1319.1000000000001" y1="954.5" x2="1346.3" y2="954.5" stroke="#fff" stroke-width="2.2"/>
<line x1="1402.2" y1="991" x2="1402.2" y2="1057.3" stroke="#0f7f97" stroke-width="2.6"/>
<rect x="1390.05" y="1026.85" width="24.30" height="18.00" fill="#fff" stroke="#0f7f97" stroke-width="2.3"/>
<line x1="1388.9" y1="1037" x2="1415.5" y2="1037" stroke="#0f7f97" stroke-width="2.3"/>
<line x1="1444.4" y1="910.2" x2="1444.4" y2="1029.3" stroke="#0f7f97" stroke-width="2.6"/>
<rect x="1430.95" y="943.90" width="26.90" height="63.10" fill="#0f7f97"/>
<line x1="1430.95" y1="984.3" x2="1457.8500000000001" y2="984.3" stroke="#fff" stroke-width="2.2"/>
<text x="1333.5" y="814.8" font-size="34" fill="#231f20" text-anchor="middle">*</text>
<text x="1445.6" y="903.3" font-size="34" fill="#231f20" text-anchor="middle">*</text>
<rect x="1361.70" y="792.00" width="17.50" height="16.70" fill="#fff" stroke="#0f7f97" stroke-width="2"/>
<rect x="1379.20" y="792.00" width="15.80" height="16.70" fill="#fff" stroke="#7b2d91" stroke-width="2"/>
<rect x="1361.00" y="825.00" width="17.40" height="16.00" fill="#0f7f97"/>
<rect x="1378.40" y="825.00" width="16.00" height="16.00" fill="#7b2d91"/>
<text x="1407.5" y="810.7" font-size="29.6" fill="#231f20">Shuffle</text>
<text x="1407.5" y="843.8" font-size="29.6" fill="#231f20">Score</text>
</svg>
</body></html>
